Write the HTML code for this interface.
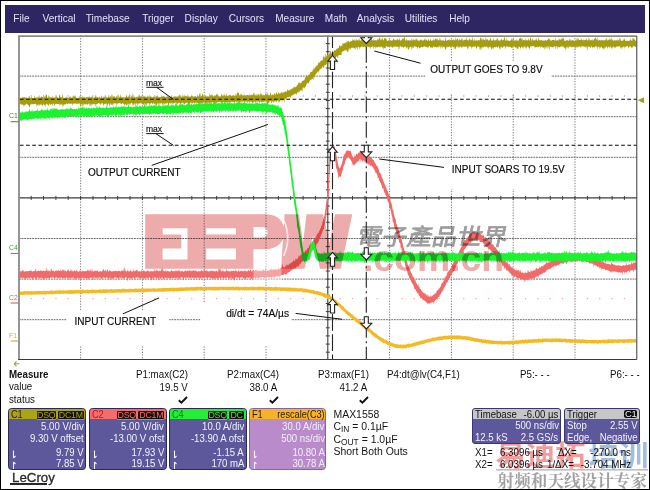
<!DOCTYPE html><html><head><meta charset="utf-8"><title>scope</title><style>
html,body{margin:0;padding:0;background:#fff;}
body{width:650px;height:490px;position:relative;overflow:hidden;font-family:"Liberation Sans",sans-serif;color:#111;}
.frame{position:absolute;left:0;top:0;width:648px;height:488px;border:1px solid #000;border-width:1px 1px 1px 1px;}
.menu{position:absolute;left:5px;top:5px;width:640px;height:27.5px;background:#2e2662;}
.menu span{position:absolute;top:8.2px;font-size:10.1px;line-height:12px;color:#e4e0f6;white-space:nowrap;}
.t{position:absolute;white-space:nowrap;line-height:12px;}
.an{font-size:10px;color:#0c0c0c;-webkit-text-stroke:0.15px #0c0c0c;}
.ui{font-size:10.3px;color:#111;transform:scaleX(.946);transform-origin:0 0;}
.r{text-align:right;transform-origin:100% 0;}
.box{position:absolute;top:408px;width:76px;height:59.5px;border:1px solid #2c2a52;border-radius:3.5px;background:#5c589b;overflow:hidden;}
.box .hd{position:absolute;left:0;top:0;right:0;height:10.2px;}
.box .l{position:absolute;right:1.6px;font-size:10.3px;line-height:11px;color:#f2f0fb;white-space:nowrap;transform:scaleX(.932);transform-origin:100% 0;}
.box .cn{position:absolute;left:2px;top:0.4px;font-size:10.2px;line-height:11px;transform:scaleX(.9);transform-origin:0 0;white-space:nowrap;}
.bd{position:absolute;top:0.6px;height:8.2px;background:#15120a;border-radius:2px;font-size:8.8px;line-height:8.4px;text-align:center;border:0.6px solid;letter-spacing:-0.25px;overflow:hidden;}
.arw{position:absolute;left:3px;}
.tb{position:absolute;top:408px;height:33.5px;border:1px solid #3a3770;border-radius:3px;background:#5c589b;overflow:hidden;}
.tb [style*="right"]{transform-origin:100% 0;}
.tb [style*="left"]{transform-origin:0 0;}
.tb .hd{position:absolute;left:0;top:0;right:0;height:10px;background:#c6c6c8;}
.tb .w{position:absolute;font-size:10.3px;line-height:11px;color:#f2f0fb;white-space:nowrap;transform:scaleX(.932);}
.tb .k{position:absolute;font-size:10.3px;line-height:11px;color:#111;white-space:nowrap;transform:scaleX(.932);}
</style></head><body>
<div class="menu">
<span style="left:8.3px">File</span>
<span style="left:37.5px">Vertical</span>
<span style="left:80.7px">Timebase</span>
<span style="left:137.2px">Trigger</span>
<span style="left:179.6px">Display</span>
<span style="left:223.8px">Cursors</span>
<span style="left:270.2px">Measure</span>
<span style="left:319.8px">Math</span>
<span style="left:351.8px">Analysis</span>
<span style="left:399.8px">Utilities</span>
<span style="left:444.2px">Help</span>
</div>
<svg width="650" height="490" viewBox="0 0 650 490" style="position:absolute;left:0;top:0">
<rect x="18.8" y="35.5" width="618.0" height="324.8" fill="#fff"/>

<line x1="80.6" y1="35.5" x2="80.6" y2="360.3" stroke="#7c7c7c" stroke-width="1" stroke-dasharray="1.25 1.43"/>
<line x1="142.4" y1="35.5" x2="142.4" y2="360.3" stroke="#7c7c7c" stroke-width="1" stroke-dasharray="1.25 1.43"/>
<line x1="204.2" y1="35.5" x2="204.2" y2="360.3" stroke="#7c7c7c" stroke-width="1" stroke-dasharray="1.25 1.43"/>
<line x1="266" y1="35.5" x2="266" y2="360.3" stroke="#7c7c7c" stroke-width="1" stroke-dasharray="1.25 1.43"/>
<line x1="389.6" y1="35.5" x2="389.6" y2="360.3" stroke="#7c7c7c" stroke-width="1" stroke-dasharray="1.25 1.43"/>
<line x1="451.4" y1="35.5" x2="451.4" y2="360.3" stroke="#7c7c7c" stroke-width="1" stroke-dasharray="1.25 1.43"/>
<line x1="513.2" y1="35.5" x2="513.2" y2="360.3" stroke="#7c7c7c" stroke-width="1" stroke-dasharray="1.25 1.43"/>
<line x1="575" y1="35.5" x2="575" y2="360.3" stroke="#7c7c7c" stroke-width="1" stroke-dasharray="1.25 1.43"/>
<line x1="18.8" y1="76.1" x2="636.8" y2="76.1" stroke="#6a6a6a" stroke-width="1" stroke-dasharray="1.85 0.83"/>
<line x1="18.8" y1="116.7" x2="636.8" y2="116.7" stroke="#6a6a6a" stroke-width="1" stroke-dasharray="1.85 0.83"/>
<line x1="18.8" y1="157.3" x2="636.8" y2="157.3" stroke="#6a6a6a" stroke-width="1" stroke-dasharray="1.85 0.83"/>
<line x1="18.8" y1="238.5" x2="636.8" y2="238.5" stroke="#6a6a6a" stroke-width="1" stroke-dasharray="1.85 0.83"/>
<line x1="18.8" y1="279.1" x2="636.8" y2="279.1" stroke="#6a6a6a" stroke-width="1" stroke-dasharray="1.85 0.83"/>
<line x1="18.8" y1="319.7" x2="636.8" y2="319.7" stroke="#6a6a6a" stroke-width="1" stroke-dasharray="1.85 0.83"/>
<line x1="18.8" y1="197.9" x2="636.8" y2="197.9" stroke="#3c3c3c" stroke-width="1.1"/>
<line x1="327.8" y1="35.5" x2="327.8" y2="360.3" stroke="#3c3c3c" stroke-width="1.1"/>
<path d="M31.2 195.9V199.9M43.5 195.9V199.9M55.9 195.9V199.9M68.2 195.9V199.9M80.6 195.9V199.9M93 195.9V199.9M105.3 195.9V199.9M117.7 195.9V199.9M130 195.9V199.9M142.4 195.9V199.9M154.8 195.9V199.9M167.1 195.9V199.9M179.5 195.9V199.9M191.8 195.9V199.9M204.2 195.9V199.9M216.6 195.9V199.9M228.9 195.9V199.9M241.3 195.9V199.9M253.6 195.9V199.9M266 195.9V199.9M278.4 195.9V199.9M290.7 195.9V199.9M303.1 195.9V199.9M315.4 195.9V199.9M327.8 195.9V199.9M340.2 195.9V199.9M352.5 195.9V199.9M364.9 195.9V199.9M377.2 195.9V199.9M389.6 195.9V199.9M402 195.9V199.9M414.3 195.9V199.9M426.7 195.9V199.9M439 195.9V199.9M451.4 195.9V199.9M463.8 195.9V199.9M476.1 195.9V199.9M488.5 195.9V199.9M500.8 195.9V199.9M513.2 195.9V199.9M525.6 195.9V199.9M537.9 195.9V199.9M550.3 195.9V199.9M562.6 195.9V199.9M575 195.9V199.9M587.4 195.9V199.9M599.7 195.9V199.9M612.1 195.9V199.9M624.4 195.9V199.9M325.8 43.6H329.8M325.8 51.7H329.8M325.8 59.9H329.8M325.8 68H329.8M325.8 76.1H329.8M325.8 84.2H329.8M325.8 92.3H329.8M325.8 100.5H329.8M325.8 108.6H329.8M325.8 116.7H329.8M325.8 124.8H329.8M325.8 132.9H329.8M325.8 141.1H329.8M325.8 149.2H329.8M325.8 157.3H329.8M325.8 165.4H329.8M325.8 173.5H329.8M325.8 181.7H329.8M325.8 189.8H329.8M325.8 197.9H329.8M325.8 206H329.8M325.8 214.1H329.8M325.8 222.3H329.8M325.8 230.4H329.8M325.8 238.5H329.8M325.8 246.6H329.8M325.8 254.7H329.8M325.8 262.9H329.8M325.8 271H329.8M325.8 279.1H329.8M325.8 287.2H329.8M325.8 295.3H329.8M325.8 303.5H329.8M325.8 311.6H329.8M325.8 319.7H329.8M325.8 327.8H329.8M325.8 335.9H329.8M325.8 344.1H329.8M325.8 352.2H329.8" stroke="#3c3c3c" stroke-width="1" fill="none"/>
<path d="M30.7 96h1M43 96h1M55.4 96h1M67.7 96h1M80.1 96h1M92.5 96h1M104.8 96h1M117.2 96h1M129.5 96h1M141.9 96h1M154.3 96h1M166.6 96h1M179 96h1M191.3 96h1M203.7 96h1M216.1 96h1M228.4 96h1M240.8 96h1M253.1 96h1M265.5 96h1M277.9 96h1M290.2 96h1M302.6 96h1M314.9 96h1M327.3 96h1M339.7 96h1M352 96h1M364.4 96h1M376.7 96h1M389.1 96h1M401.5 96h1M413.8 96h1M426.2 96h1M438.5 96h1M450.9 96h1M463.3 96h1M475.6 96h1M488 96h1M500.3 96h1M512.7 96h1M525.1 96h1M537.4 96h1M549.8 96h1M562.1 96h1M574.5 96h1M586.9 96h1M599.2 96h1M611.6 96h1M623.9 96h1" stroke="#777" stroke-width="1"/>
<path d="M30.6 298.7h1.2M42.9 298.7h1.2M55.3 298.7h1.2M67.6 298.7h1.2M80 298.7h1.2M92.4 298.7h1.2M104.7 298.7h1.2M117.1 298.7h1.2M129.4 298.7h1.2M141.8 298.7h1.2M154.2 298.7h1.2M166.5 298.7h1.2M178.9 298.7h1.2M191.2 298.7h1.2M203.6 298.7h1.2M216 298.7h1.2M228.3 298.7h1.2M240.7 298.7h1.2M253 298.7h1.2M265.4 298.7h1.2M277.8 298.7h1.2M290.1 298.7h1.2M302.5 298.7h1.2M314.8 298.7h1.2M327.2 298.7h1.2M339.6 298.7h1.2M351.9 298.7h1.2M364.3 298.7h1.2M376.6 298.7h1.2M389 298.7h1.2M401.4 298.7h1.2M413.7 298.7h1.2M426.1 298.7h1.2M438.4 298.7h1.2M450.8 298.7h1.2M463.2 298.7h1.2M475.5 298.7h1.2M487.9 298.7h1.2M500.2 298.7h1.2M512.6 298.7h1.2M525 298.7h1.2M537.3 298.7h1.2M549.7 298.7h1.2M562 298.7h1.2M574.4 298.7h1.2M586.8 298.7h1.2M599.1 298.7h1.2M611.5 298.7h1.2M623.8 298.7h1.2" stroke="#f2a6a6" stroke-width="1.2"/>
<rect x="425.3" y="61" width="125.7" height="32.7" fill="#fff"/>
<rect x="445" y="160" width="125" height="29" fill="#fff"/>
<rect x="66.6" y="310.5" width="102.5" height="35.5" fill="#fff"/>
<rect x="200.5" y="302" width="90.5" height="44" fill="#fff"/>
<rect x="84" y="161" width="102" height="33" fill="#fff"/>
<rect x="144" y="78" width="21" height="9" fill="#fff"/>
<rect x="144" y="124" width="21" height="9" fill="#fff"/>
<path d="M19.8 291.7 20.3 291.6 20.8 291.5 21.3 291.7 21.8 291.5 22.3 291.5 22.8 291.6 23.3 291.6 23.8 291.1 24.3 290.8 24.8 290.9 25.3 291.1 25.8 291.5 26.3 290.6 26.8 291.5 27.3 290.9 27.8 291.1 28.3 291.1 28.8 291.5 29.3 291.3 29.8 291.4 30.3 291 30.8 290.9 31.3 291.1 31.8 291.2 32.3 291.1 32.8 291.4 33.3 291.3 33.8 291.3 34.3 290.8 34.8 291.3 35.3 291.3 35.8 291.1 36.3 291 36.8 290.8 37.3 291 37.8 291.1 38.3 290.8 38.8 291.1 39.3 291.1 39.8 291.1 40.3 291.1 40.8 291.1 41.3 291.2 41.8 290.7 42.3 291.2 42.8 291 43.3 291.1 43.8 290.6 44.3 290.4 44.8 291 45.3 291 45.8 290.7 46.3 291 46.8 291 47.3 290.8 47.8 290.6 48.3 291 48.8 290.9 49.3 290.6 49.8 290.9 50.3 290.9 50.8 290.5 51.3 290.1 51.8 290.2 52.3 290.6 52.8 290.9 53.3 290.4 53.8 290.9 54.3 290.8 54.8 290.4 55.3 290.8 55.8 290.6 56.3 290.3 56.8 290.4 57.3 290.5 57.8 290.6 58.3 290.6 58.8 290.2 59.3 290.1 59.8 290.3 60.3 290.2 60.8 290.6 61.3 290 61.8 290.7 62.3 290.4 62.8 290.5 63.3 290.2 63.8 290.1 64.3 290.5 64.8 290.5 65.3 290.4 65.8 290.5 66.3 290.1 66.8 290.4 67.3 290 67.8 290.2 68.3 290.3 68.8 290.2 69.3 290.3 69.8 290 70.3 290.3 70.8 289.7 71.3 290 71.8 290.1 72.3 290.5 72.8 289.8 73.3 290.3 73.8 290.3 74.3 290.1 74.8 290.3 75.3 289.7 75.8 290.4 76.3 290 76.8 290 77.3 290.3 77.8 290.2 78.3 289.5 78.8 290 79.3 290.3 79.8 290.1 80.3 290.2 80.8 290.2 81.3 290.2 81.8 290 82.3 288.9 82.8 289.7 83.3 289.7 83.8 289.7 84.3 290.2 84.8 290.2 85.3 289.9 85.8 289.7 86.3 289.9 86.8 289.6 87.3 290.1 87.8 289.4 88.3 289.9 88.8 289.9 89.3 290 89.8 290 90.3 289.9 90.8 289.6 91.3 290 91.8 289.8 92.3 289.3 92.8 289.6 93.3 289.7 93.8 289.9 94.3 289.9 94.8 289.3 95.3 289.9 95.8 289.7 96.3 289.7 96.8 289.8 97.3 289.9 97.8 289.7 98.3 289.8 98.8 289.2 99.3 289.5 99.8 289.5 100.3 289.2 100.8 289.6 101.3 289.8 101.8 289.6 102.3 289.7 102.8 289.3 103.3 289.2 103.8 289.2 104.3 289.3 104.8 289.6 105.3 288.9 105.8 289.4 106.3 289.6 106.8 289.3 107.3 289.3 107.8 289.5 108.3 289.5 108.8 289.5 109.3 289.5 109.8 289.4 110.3 289.3 110.8 288.9 111.3 288.8 111.8 289.2 112.3 289.5 112.8 289.4 113.3 289.2 113.8 289.4 114.3 289 114.8 289.4 115.3 289.4 115.8 289 116.3 289 116.8 289.2 117.3 289.2 117.8 288.9 118.3 289.1 118.8 289.3 119.3 288.7 119.8 289.3 120.3 289.2 120.8 289.2 121.3 288.9 121.8 289.1 122.3 288.8 122.8 288.7 123.3 289.2 123.8 288.2 124.3 288.6 124.8 289.2 125.3 289.1 125.8 288.7 126.3 289.1 126.8 289 127.3 289.2 127.8 288.9 128.3 288.8 128.8 289.1 129.3 288.5 129.8 288.9 130.3 288.8 130.8 288.5 131.3 289 131.8 288.8 132.3 289 132.8 289.1 133.3 289 133.8 288.7 134.3 289 134.8 288.8 135.3 288.3 135.8 288.6 136.3 288.6 136.8 288.6 137.3 288.7 137.8 288.8 138.3 288.8 138.8 288.5 139.3 288.2 139.8 288.8 140.3 288.9 140.8 288.2 141.3 288.3 141.8 288.4 142.3 288.6 142.8 288.3 143.3 288.3 143.8 288.6 144.3 288.4 144.8 288.7 145.3 288.4 145.8 288.5 146.3 288.4 146.8 288.6 147.3 288.7 147.8 288.3 148.3 288.7 148.8 288 149.3 288.4 149.8 288.5 150.3 288.7 150.8 288.4 151.3 288.6 151.8 288.4 152.3 288.5 152.8 288.5 153.3 288.1 153.8 288.1 154.3 288.5 154.8 288.5 155.3 288.5 155.8 288.4 156.3 288.4 156.8 288.5 157.3 288.4 157.8 288.4 158.3 288.2 158.8 288.3 159.3 288.3 159.8 288.2 160.3 288.2 160.8 288.3 161.3 288.2 161.8 288 162.3 287.7 162.8 288.3 163.3 288.2 163.8 287.8 164.3 287.8 164.8 288.2 165.3 287.6 165.8 288.2 166.3 288 166.8 288.1 167.3 287.8 167.8 288.2 168.3 288 168.8 288 169.3 288 169.8 287.5 170.3 288.1 170.8 287.4 171.3 287.9 171.8 287.2 172.3 287.7 172.8 287.8 173.3 287.7 173.8 288 174.3 287.7 174.8 287.5 175.3 287.9 175.8 287.7 176.3 287.6 176.8 287.9 177.3 287.8 177.8 287.9 178.3 287.5 178.8 287.8 179.3 287.4 179.8 287.5 180.3 287.5 180.8 287.4 181.3 287.6 181.8 287.3 182.3 287.3 182.8 287.4 183.3 287.4 183.8 287.6 184.3 287.6 184.8 287.3 185.3 287.5 185.8 286.7 186.3 287.6 186.8 287 187.3 287.2 187.8 287.4 188.3 286.9 188.8 287.3 189.3 287.4 189.8 287.2 190.3 287.3 190.8 287.3 191.3 287 191.8 287.1 192.3 287.3 192.8 286.8 193.3 287.2 193.8 287 194.3 287.1 194.8 287.3 195.3 286.9 195.8 287.1 196.3 286.5 196.8 287.1 197.3 286.5 197.8 287.2 198.3 287 198.8 286.6 199.3 287 199.8 287 200.3 286.3 200.8 287.1 201.3 286.5 201.8 286.5 202.3 286.7 202.8 287.2 203.3 287.1 203.8 287.1 204.3 287.1 204.8 287 205.3 286.5 205.8 286.5 206.3 286.7 206.8 286.9 207.3 287.2 207.8 287.1 208.3 287 208.8 286.7 209.3 286.2 209.8 287.1 210.3 286.9 210.8 287.1 211.3 287 211.8 286.5 212.3 287.1 212.8 286.5 213.3 286.9 213.8 286.9 214.3 286.6 214.8 286.8 215.3 286.8 215.8 286.7 216.3 287 216.8 286.8 217.3 287 217.8 287 218.3 286.8 218.8 286.6 219.3 286.8 219.8 286.8 220.3 286.9 220.8 286.8 221.3 286.6 221.8 286.9 222.3 286.5 222.8 287 223.3 286.5 223.8 287 224.3 286.4 224.8 287 225.3 287 225.8 286.8 226.3 287 226.8 286 227.3 286.9 227.8 286.7 228.3 286.9 228.8 286.7 229.3 286.9 229.8 286.5 230.3 287 230.8 286.3 231.3 286.7 231.8 287 232.3 286.8 232.8 286.6 233.3 286.5 233.8 286.6 234.3 286.7 234.8 287 235.3 286.7 235.8 287 236.3 286.6 236.8 286.4 237.3 287 237.8 286.5 238.3 286.7 238.8 286.7 239.3 286.7 239.8 287 240.3 286.7 240.8 286.9 241.3 286.9 241.8 287 242.3 287 242.8 287.1 243.3 286.7 243.8 286.8 244.3 287 244.8 286.6 245.3 286.3 245.8 286.8 246.3 287 246.8 286.5 247.3 287.1 247.8 287 248.3 287 248.8 287.1 249.3 286.9 249.8 286.7 250.3 287 250.8 286.7 251.3 286.8 251.8 286.6 252.3 286.6 252.8 286.7 253.3 287.1 253.8 287 254.3 286.6 254.8 286.9 255.3 286.9 255.8 287.1 256.3 286.9 256.8 287.1 257.3 286.9 257.8 287 258.3 286.6 258.8 286.2 259.3 286.8 259.8 286.4 260.3 286.4 260.8 286.9 261.3 286.8 261.8 287 262.3 287.1 262.8 286.2 263.3 286.7 263.8 287.1 264.3 287 264.8 286.8 265.3 287.2 265.8 286.8 266.3 286.8 266.8 287.1 267.3 286.8 267.8 287.1 268.3 287.2 268.8 286.8 269.3 287 269.8 287.1 270.3 287.1 270.8 287.1 271.3 286.9 271.8 287.1 272.3 287.3 272.8 287.2 273.3 287.2 273.8 287.2 274.3 287.1 274.8 287.3 275.3 286.7 275.8 286.6 276.3 286.8 276.8 287.2 277.3 287.3 277.8 287.5 278.3 286.8 278.8 287.5 279.3 287.3 279.8 287.2 280.3 286.9 280.8 287.5 281.3 287.5 281.8 287.5 282.3 287.6 282.8 287.2 283.3 287.3 283.8 287.3 284.3 287.4 284.8 287.4 285.3 287.3 285.8 287.5 286.3 287.5 286.8 287.6 287.3 287.3 287.8 287.5 288.3 287.6 288.8 287.8 289.3 287.3 289.8 287.5 290.3 287.8 290.8 287.8 291.3 287.5 291.8 288 292.3 288 292.8 287.7 293.3 287.7 293.8 287.8 294.3 287.2 294.8 288 295.3 287.8 295.8 288.1 296.3 288.1 296.8 287.9 297.3 288.1 297.8 288.3 298.3 288.2 298.8 288.2 299.3 288.2 299.8 288.4 300.3 288.1 300.8 287.9 301.3 288.2 301.8 288.3 302.3 288.3 302.8 288.4 303.3 288.4 303.8 288.8 304.3 288.6 304.8 288.6 305.3 288.9 305.8 288.7 306.3 288.6 306.8 289.1 307.3 289.1 307.8 289.4 308.3 289.5 308.8 288.7 309.3 289.7 309.8 289.6 310.3 289.7 310.8 289.3 311.3 289.9 311.8 289.8 312.3 290.3 312.8 290.2 313.3 289.8 313.8 290 314.3 290.6 314.8 290.7 315.3 290.9 315.8 291 316.3 291.1 316.8 291.1 317.3 291.1 317.8 291.3 318.3 291.2 318.8 291.2 319.3 291.8 319.8 291.5 320.3 292 320.8 291.7 321.3 292.5 321.8 292.3 322.3 292.7 322.8 292.8 323.3 292.9 323.8 293.3 324.3 293.1 324.8 293.2 325.3 293.8 325.8 293.8 326.3 294.1 326.8 294.3 327.3 294.4 327.8 294.4 328.3 294.6 328.8 294.8 329.3 295.5 329.8 295.6 330.3 295.9 330.8 296.3 331.3 296.5 331.8 297.1 332.3 297.3 332.8 297.5 333.3 297.8 333.8 298.2 334.3 298.8 334.8 299.3 335.3 299.5 335.8 300 336.3 300.6 336.8 300.8 337.3 301.5 337.8 301.7 338.3 302.4 338.8 302.6 339.3 302.8 339.8 303.6 340.3 304.1 340.8 304.2 341.3 304.8 341.8 305.6 342.3 305.7 342.8 306 343.3 306.6 343.8 306.9 344.3 308 344.8 308.5 345.3 308.8 345.8 308.9 346.3 309.9 346.8 310.3 347.3 310.8 347.8 310.6 348.3 311.5 348.8 312 349.3 312.2 349.8 312.3 350.3 313.3 350.8 313.2 351.3 314.2 351.8 313.9 352.3 313.9 352.8 314.9 353.3 315.4 353.8 315.7 354.3 316.5 354.8 316.8 355.3 317.1 355.8 317.7 356.3 317.6 356.8 318.4 357.3 318.4 357.8 319.3 358.3 319 358.8 319.9 359.3 320.5 359.8 320.3 360.3 320.9 360.8 321.6 361.3 321.6 361.8 322.3 362.3 322.7 362.8 323.1 363.3 323.6 363.8 323.9 364.3 324.4 364.8 324.3 365.3 324.3 365.8 325.3 366.3 325.7 366.8 326.1 367.3 326.7 367.8 326.2 368.3 327 368.8 327.6 369.3 328 369.8 328.5 370.3 328.6 370.8 329.8 371.3 330.2 371.8 329.9 372.3 331.1 372.8 331.2 373.3 331.6 373.8 332.2 374.3 332.7 374.8 332.8 375.3 333.1 375.8 333.4 376.3 333.3 376.8 334.3 377.3 334.8 377.8 335.2 378.3 335.4 378.8 335.9 379.3 336.2 379.8 336.7 380.3 337.1 380.8 336.9 381.3 337.4 381.8 337.5 382.3 338.3 382.8 338.2 383.3 338.8 383.8 338.3 384.3 339.3 384.8 339.9 385.3 339.6 385.8 340.3 386.3 340.3 386.8 340.1 387.3 341.1 387.8 341 388.3 341.3 388.8 341.9 389.3 342 389.8 342.2 390.3 342.3 390.8 342.4 391.3 342.9 391.8 342.1 392.3 343.3 392.8 343.1 393.3 343.2 393.8 343.6 394.3 343.8 394.8 343.6 395.3 344 395.8 344 396.3 344.4 396.8 343.5 397.3 344.2 397.8 344.6 398.3 344.3 398.8 344.7 399.3 344.6 399.8 344.8 400.3 344.7 400.8 344.1 401.3 344.6 401.8 344.9 402.3 344.8 402.8 344.6 403.3 344.2 403.8 344.8 404.3 344.4 404.8 344.8 405.3 344.7 405.8 344.7 406.3 344 406.8 344.2 407.3 344.2 407.8 343.3 408.3 343.8 408.8 343.5 409.3 343.6 409.8 343.9 410.3 343.7 410.8 343.7 411.3 343.2 411.8 343.5 412.3 343.1 412.8 343.3 413.3 342.9 413.8 342.8 414.3 342.6 414.8 342.1 415.3 342.3 415.8 342.4 416.3 342.1 416.8 341.4 417.3 342 417.8 341.8 418.3 341.9 418.8 340.9 419.3 341.5 419.8 340.8 420.3 341.3 420.8 340.7 421.3 340.5 421.8 340.4 422.3 340.5 422.8 340.5 423.3 340.4 423.8 339.4 424.3 339.8 424.8 339.7 425.3 339.8 425.8 339.8 426.3 339.4 426.8 338.9 427.3 339.2 427.8 338.9 428.3 338.8 428.8 339 429.3 338.7 429.8 338.4 430.3 338.5 430.8 338.4 431.3 338.2 431.8 338 432.3 337.4 432.8 337.5 433.3 337.7 433.8 337.8 434.3 337.6 434.8 337.3 435.3 337.4 435.8 337.4 436.3 336.9 436.8 337.2 437.3 337 437.8 336.8 438.3 336.6 438.8 336.4 439.3 336.7 439.8 336.3 440.3 336.3 440.8 336.6 441.3 336.6 441.8 336.4 442.3 336.2 442.8 336 443.3 336 443.8 336.1 444.3 335.8 444.8 335.8 445.3 335.3 445.8 335.9 446.3 335.9 446.8 335.8 447.3 335.9 447.8 335.4 448.3 335.3 448.8 335.8 449.3 335.7 449.8 335.3 450.3 335.6 450.8 334.9 451.3 335.5 451.8 335.7 452.3 335.5 452.8 335.4 453.3 335.5 453.8 335.4 454.3 335.5 454.8 335.5 455.3 335.7 455.8 335.4 456.3 335.6 456.8 335.4 457.3 335.6 457.8 335.6 458.3 335.4 458.8 335.6 459.3 335.1 459.8 335.8 460.3 335.4 460.8 335.7 461.3 335.6 461.8 335.9 462.3 336.2 462.8 336.2 463.3 336.2 463.8 335.9 464.3 335.8 464.8 336.1 465.3 336.1 465.8 336.2 466.3 336.2 466.8 336.3 467.3 336.6 467.8 336.3 468.3 336.8 468.8 336.1 469.3 336.6 469.8 336.9 470.3 336.6 470.8 337 471.3 337.4 471.8 337.3 472.3 337.3 472.8 337.4 473.3 337.1 473.8 337.9 474.3 337.9 474.8 337.9 475.3 337.8 475.8 338.1 476.3 338.4 476.8 338.2 477.3 337.9 477.8 338.6 478.3 338.7 478.8 338.7 479.3 338.8 479.8 338.7 480.3 338.8 480.8 338.9 481.3 338.8 481.8 339 482.3 339.4 482.8 339.6 483.3 339.3 483.8 339.5 484.3 339.7 484.8 339.5 485.3 339.2 485.8 339.6 486.3 340 486.8 340 487.3 339.9 487.8 339.4 488.3 340 488.8 340.3 489.3 339.7 489.8 340.3 490.3 340.2 490.8 340.5 491.3 340.5 491.8 340.6 492.3 340.2 492.8 340.4 493.3 340.7 493.8 340.8 494.3 340.9 494.8 340.5 495.3 340.9 495.8 340.9 496.3 340.8 496.8 340.8 497.3 340.8 497.8 340.6 498.3 341.1 498.8 341 499.3 341 499.8 340.6 500.3 340.3 500.8 340.9 501.3 340.4 501.8 341.2 502.3 340.7 502.8 341.1 503.3 341.2 503.8 341.1 504.3 341.1 504.8 341 505.3 340.5 505.8 341.1 506.3 340.9 506.8 340.8 507.3 341.2 507.8 341.1 508.3 340.6 508.8 341.1 509.3 340.8 509.8 340.8 510.3 340.6 510.8 340.9 511.3 340.9 511.8 340.5 512.3 340.6 512.8 340.7 513.3 341 513.8 340.7 514.3 340.9 514.8 340.2 515.3 340.4 515.8 340.5 516.3 340 516.8 340.5 517.3 340.2 517.8 340.6 518.3 340.5 518.8 340.3 519.3 340 519.8 340.3 520.3 340.3 520.8 340 521.3 340.1 521.8 339.9 522.3 339.6 522.8 339.9 523.3 340 523.8 339.6 524.3 340 524.8 339.6 525.3 339.3 525.8 339.5 526.3 339.9 526.8 339.7 527.3 339.5 527.8 339.4 528.3 339.7 528.8 338.8 529.3 339.7 529.8 338.9 530.3 339.4 530.8 339.2 531.3 339.5 531.8 339.4 532.3 339.2 532.8 339.3 533.3 338.9 533.8 338.7 534.3 339.3 534.8 339.2 535.3 338.8 535.8 339.3 536.3 339 536.8 339.2 537.3 339.2 537.8 338.9 538.3 338.6 538.8 338.6 539.3 338.9 539.8 338.6 540.3 338.4 540.8 338.9 541.3 338.9 541.8 338.8 542.3 338.5 542.8 338.6 543.3 338.9 543.8 338.1 544.3 338.9 544.8 338.2 545.3 338.4 545.8 338.7 546.3 338.8 546.8 338.3 547.3 338.3 547.8 338.7 548.3 338.7 548.8 338.5 549.3 338.4 549.8 338.7 550.3 338.4 550.8 338.6 551.3 338.5 551.8 338.7 552.3 338.3 552.8 338.5 553.3 338.7 553.8 338.5 554.3 338.4 554.8 338.4 555.3 338.3 555.8 338.4 556.3 338.6 556.8 338.4 557.3 338.6 557.8 338.6 558.3 338.3 558.8 338.5 559.3 338.2 559.8 338.4 560.3 338.8 560.8 338.2 561.3 338.7 561.8 338.4 562.3 338.9 562.8 338.7 563.3 338.6 563.8 339.1 564.3 338.5 564.8 338.7 565.3 338.4 565.8 339 566.3 338.6 566.8 338.9 567.3 339.2 567.8 339.2 568.3 339 568.8 339 569.3 338.9 569.8 338.8 570.3 339.2 570.8 339 571.3 339.3 571.8 339.3 572.3 339.2 572.8 338.7 573.3 339.3 573.8 339.4 574.3 339.4 574.8 339.3 575.3 339 575.8 339.2 576.3 339 576.8 339.3 577.3 339.2 577.8 339.6 578.3 339.6 578.8 339.4 579.3 339 579.8 339.3 580.3 339.3 580.8 339.7 581.3 339.6 581.8 339.5 582.3 339.3 582.8 339.6 583.3 339.3 583.8 339.5 584.3 339.6 584.8 339.9 585.3 339.4 585.8 339.4 586.3 339.8 586.8 339.9 587.3 340 587.8 339.7 588.3 340 588.8 340 589.3 339.8 589.8 340.1 590.3 340.1 590.8 340 591.3 340 591.8 339.5 592.3 340.1 592.8 340.1 593.3 339.9 593.8 339.8 594.3 339.8 594.8 339.9 595.3 339.8 595.8 339.9 596.3 339.9 596.8 340.2 597.3 340 597.8 340.2 598.3 340.1 598.8 340.1 599.3 340.1 599.8 339.9 600.3 339.8 600.8 340.1 601.3 340 601.8 340 602.3 339.7 602.8 339.8 603.3 339.4 603.8 339.9 604.3 339.6 604.8 339.8 605.3 339.8 605.8 339.9 606.3 339.4 606.8 339.7 607.3 339.4 607.8 339.7 608.3 339.5 608.8 338.7 609.3 339.6 609.8 338.4 610.3 339.7 610.8 339.5 611.3 339.6 611.8 339.1 612.3 339.5 612.8 339 613.3 339.4 613.8 339.6 614.3 339.6 614.8 339.4 615.3 339.3 615.8 339.5 616.3 339.4 616.8 339.5 617.3 339.4 617.8 339.2 618.3 339.3 618.8 338.9 619.3 339.4 619.8 339.1 620.3 339.5 620.8 339.4 621.3 339.2 621.8 339.3 622.3 339.3 622.8 339.4 623.3 339.4 623.8 339.3 624.3 339.4 624.8 339.3 625.3 339.4 625.8 338.9 626.3 339.1 626.8 339.4 627.3 339.4 627.8 339.3 628.3 338.6 628.8 339.3 629.3 339 629.8 339 630.3 339.3 630.8 339.3 631.3 339.1 631.8 339.1 632.3 339.4 632.8 338.7 633.3 339 633.8 338.7 634.3 338.9 634.8 339.2 635.3 339 635.8 339.1 636.3 339.1 L636.3 342.3 635.8 342.6 635.3 342.6 634.8 342.4 634.3 342.7 633.8 343 633.3 342.3 632.8 342.6 632.3 342.3 631.8 343.1 631.3 343.1 630.8 342.4 630.3 342.4 629.8 342.4 629.3 343 628.8 342.8 628.3 342.6 627.8 342.7 627.3 342.9 626.8 342.6 626.3 342.5 625.8 342.5 625.3 342.7 624.8 343.4 624.3 342.5 623.8 343.4 623.3 342.7 622.8 342.6 622.3 342.9 621.8 342.5 621.3 342.5 620.8 342.6 620.3 342.6 619.8 342.8 619.3 342.8 618.8 342.9 618.3 342.7 617.8 342.9 617.3 343.1 616.8 342.6 616.3 342.9 615.8 342.6 615.3 342.6 614.8 342.7 614.3 342.6 613.8 342.7 613.3 343.1 612.8 343.1 612.3 343.2 611.8 343.1 611.3 342.9 610.8 342.9 610.3 343.1 609.8 342.9 609.3 343.1 608.8 343.1 608.3 343.2 607.8 343.4 607.3 343.4 606.8 342.9 606.3 343 605.8 343.4 605.3 343.1 604.8 343.8 604.3 343.1 603.8 343.5 603.3 343.1 602.8 343.3 602.3 343.1 601.8 343.2 601.3 343.1 600.8 343.4 600.3 343.5 599.8 343.3 599.3 343.1 598.8 343.3 598.3 343.6 597.8 343.9 597.3 344.6 596.8 343.1 596.3 343.2 595.8 343.3 595.3 343.2 594.8 343.4 594.3 343.4 593.8 343.7 593.3 343.2 592.8 343.4 592.3 343.2 591.8 343.3 591.3 343.6 590.8 343.4 590.3 343.4 589.8 343.1 589.3 343.1 588.8 343.2 588.3 343.5 587.8 343.1 587.3 343.4 586.8 343 586.3 343.5 585.8 343.7 585.3 343.3 584.8 343.3 584.3 342.9 583.8 343 583.3 343.3 582.8 343.1 582.3 342.8 581.8 343.4 581.3 343.2 580.8 343 580.3 343.5 579.8 343 579.3 343.1 578.8 342.9 578.3 342.6 577.8 343.3 577.3 342.9 576.8 342.8 576.3 342.6 575.8 342.9 575.3 343.4 574.8 343.3 574.3 342.6 573.8 342.8 573.3 342.6 572.8 342.5 572.3 343.1 571.8 342.4 571.3 342.8 570.8 342.7 570.3 343.3 569.8 342.8 569.3 342.7 568.8 342.6 568.3 342.3 567.8 342.7 567.3 342.4 566.8 342.4 566.3 342.8 565.8 342.7 565.3 342.3 564.8 342.1 564.3 342.1 563.8 342.1 563.3 342.2 562.8 342.3 562.3 342 561.8 342.5 561.3 342.1 560.8 342 560.3 342.2 559.8 341.9 559.3 342.6 558.8 342 558.3 342 557.8 342 557.3 342 556.8 342.3 556.3 341.7 555.8 342 555.3 342 554.8 341.8 554.3 342.3 553.8 342.2 553.3 341.8 552.8 341.7 552.3 342.7 551.8 342.2 551.3 342.8 550.8 342.1 550.3 341.7 549.8 342.3 549.3 341.9 548.8 341.8 548.3 341.9 547.8 342 547.3 342.1 546.8 342.3 546.3 342.1 545.8 341.8 545.3 342 544.8 341.8 544.3 342 543.8 342 543.3 341.9 542.8 342.8 542.3 342.7 541.8 342.1 541.3 342.7 540.8 342.4 540.3 342.4 539.8 342.4 539.3 342.2 538.8 342.7 538.3 342.9 537.8 342.5 537.3 342.2 536.8 342.9 536.3 342.7 535.8 342.4 535.3 342.6 534.8 342.5 534.3 342.9 533.8 342.8 533.3 342.4 532.8 342.7 532.3 342.8 531.8 343.2 531.3 342.8 530.8 342.9 530.3 342.7 529.8 342.7 529.3 342.9 528.8 343.1 528.3 343 527.8 343.3 527.3 343.4 526.8 343.5 526.3 342.9 525.8 343.2 525.3 343.1 524.8 343.4 524.3 343.7 523.8 343.5 523.3 343.5 522.8 343.3 522.3 343.2 521.8 343.5 521.3 343.8 520.8 343.5 520.3 343.7 519.8 343.5 519.3 343.8 518.8 343.5 518.3 344.4 517.8 344.7 517.3 343.7 516.8 343.7 516.3 344.3 515.8 344 515.3 343.8 514.8 344.1 514.3 344.2 513.8 344.1 513.3 344.2 512.8 344.3 512.3 344.5 511.8 344.1 511.3 344.3 510.8 344.6 510.3 344.7 509.8 344.4 509.3 344.6 508.8 344.2 508.3 344.4 507.8 344.2 507.3 344.2 506.8 344.4 506.3 344.2 505.8 344.3 505.3 344.2 504.8 344.7 504.3 344.4 503.8 344.4 503.3 344.2 502.8 344.7 502.3 344.5 501.8 344.5 501.3 344.2 500.8 344.5 500.3 344.4 499.8 344.1 499.3 344.2 498.8 344.1 498.3 344.9 497.8 344.2 497.3 344.8 496.8 344 496.3 344 495.8 344.3 495.3 344 494.8 344 494.3 343.9 493.8 343.9 493.3 344.2 492.8 344.4 492.3 343.9 491.8 344.3 491.3 343.9 490.8 344.6 490.3 343.6 489.8 343.6 489.3 343.7 488.8 343.7 488.3 343.7 487.8 343.4 487.3 343.3 486.8 343.7 486.3 343.9 485.8 343.1 485.3 343 484.8 343.1 484.3 342.9 483.8 342.9 483.3 343 482.8 343.1 482.3 343 481.8 342.9 481.3 342.5 480.8 342.7 480.3 342.3 479.8 342.3 479.3 342.6 478.8 342.1 478.3 342.4 477.8 341.9 477.3 341.9 476.8 341.8 476.3 341.5 475.8 341.7 475.3 341.8 474.8 341.7 474.3 341.4 473.8 341.9 473.3 341 472.8 340.9 472.3 341.1 471.8 341 471.3 341 470.8 340.5 470.3 341 469.8 340.2 469.3 340.5 468.8 340.3 468.3 340.1 467.8 340.3 467.3 340.3 466.8 340 466.3 340.5 465.8 339.9 465.3 339.7 464.8 339.6 464.3 339.6 463.8 339.7 463.3 339.4 462.8 339.6 462.3 339.7 461.8 339.6 461.3 339.4 460.8 339.3 460.3 339.3 459.8 339.3 459.3 339 458.8 339.2 458.3 339.5 457.8 338.9 457.3 339.3 456.8 339.3 456.3 339.5 455.8 339.5 455.3 339.1 454.8 339 454.3 339.6 453.8 339.1 453.3 338.8 452.8 339.4 452.3 338.9 451.8 339.6 451.3 339 450.8 338.7 450.3 338.8 449.8 339 449.3 339.1 448.8 339.2 448.3 338.9 447.8 338.9 447.3 339.4 446.8 339.4 446.3 339.4 445.8 339.4 445.3 339.6 444.8 339.4 444.3 339.6 443.8 339.5 443.3 339.4 442.8 340 442.3 339.7 441.8 340.1 441.3 340.5 440.8 339.9 440.3 339.9 439.8 340.5 439.3 340.2 438.8 340.3 438.3 340.5 437.8 340.2 437.3 340.4 436.8 340.4 436.3 340.8 435.8 340.7 435.3 340.7 434.8 340.8 434.3 341.7 433.8 340.9 433.3 341.6 432.8 341.3 432.3 341.3 431.8 341.5 431.3 341.6 430.8 341.8 430.3 342.6 429.8 342.2 429.3 342.1 428.8 342.6 428.3 342.6 427.8 342.5 427.3 342.6 426.8 342.8 426.3 342.8 425.8 343.1 425.3 343.4 424.8 343.5 424.3 343.8 423.8 343.8 423.3 344 422.8 343.9 422.3 344.3 421.8 344.3 421.3 344.3 420.8 344.6 420.3 344.5 419.8 344.7 419.3 344.9 418.8 344.9 418.3 345 417.8 345.5 417.3 345.5 416.8 345.6 416.3 345.5 415.8 346.1 415.3 345.9 414.8 346.4 414.3 346 413.8 346.2 413.3 346.5 412.8 346.8 412.3 347.2 411.8 346.6 411.3 346.7 410.8 347.3 410.3 347.2 409.8 347.6 409.3 347.7 408.8 347.7 408.3 347.5 407.8 347.4 407.3 347.6 406.8 348.1 406.3 348.1 405.8 347.9 405.3 348 404.8 348.4 404.3 348.3 403.8 347.9 403.3 348.3 402.8 349 402.3 348.5 401.8 348.1 401.3 348 400.8 348.3 400.3 348.4 399.8 347.9 399.3 348 398.8 348.1 398.3 348 397.8 348 397.3 348.4 396.8 348.1 396.3 347.8 395.8 348 395.3 348 394.8 347.9 394.3 347.1 393.8 347.2 393.3 346.9 392.8 347 392.3 346.5 391.8 346.6 391.3 346.6 390.8 346.1 390.3 346 389.8 345.9 389.3 345.6 388.8 345.6 388.3 345.2 387.8 345.3 387.3 345.3 386.8 344.6 386.3 344 385.8 343.9 385.3 343.8 384.8 343.3 384.3 343 383.8 343.3 383.3 343.5 382.8 342.7 382.3 342.4 381.8 341.9 381.3 341.5 380.8 341.2 380.3 340.7 379.8 340.6 379.3 340.4 378.8 340.2 378.3 339.4 377.8 338.9 377.3 338.7 376.8 338.3 376.3 337.9 375.8 337.9 375.3 337.4 374.8 336.7 374.3 336.8 373.8 336.3 373.3 335.9 372.8 335.2 372.3 335.1 371.8 334.7 371.3 333.8 370.8 333.8 370.3 333.7 369.8 332.6 369.3 332.1 368.8 332.3 368.3 331.7 367.8 331.2 367.3 331.5 366.8 330.3 366.3 329.7 365.8 329.7 365.3 329.3 364.8 329.3 364.3 328.3 363.8 328.5 363.3 327.4 362.8 327.6 362.3 326.7 361.8 326.3 361.3 326 360.8 325.4 360.3 325.4 359.8 324.6 359.3 324.2 358.8 324 358.3 323.9 357.8 323 357.3 323.1 356.8 322.8 356.3 322.2 355.8 321.6 355.3 321.4 354.8 320.6 354.3 320.4 353.8 319.8 353.3 319.8 352.8 319.1 352.3 318.8 351.8 318.4 351.3 317.8 350.8 318 350.3 317.4 349.8 316.6 349.3 316.1 348.8 316.7 348.3 315.5 347.8 315.2 347.3 314.7 346.8 314.3 346.3 313.9 345.8 313.8 345.3 312.6 344.8 312.2 344.3 311.8 343.8 311.6 343.3 311 342.8 310.6 342.3 310.3 341.8 309.9 341.3 309.4 340.8 308.5 340.3 308.1 339.8 307.6 339.3 307.1 338.8 306.8 338.3 306.1 337.8 306.1 337.3 306.2 336.8 304.8 336.3 304.5 335.8 304.1 335.3 303.7 334.8 303.1 334.3 303 333.8 302.9 333.3 301.9 332.8 301.4 332.3 301.1 331.8 301.6 331.3 300.7 330.8 300 330.3 300.2 329.8 299.4 329.3 299.1 328.8 298.8 328.3 298.7 327.8 298.6 327.3 298.4 326.8 297.8 326.3 297.7 325.8 297.8 325.3 297.7 324.8 297.4 324.3 297.2 323.8 297.1 323.3 297 322.8 296.2 322.3 296.3 321.8 295.8 321.3 296 320.8 295.8 320.3 295.5 319.8 295.3 319.3 295.4 318.8 294.9 318.3 295.2 317.8 295 317.3 294.8 316.8 294.4 316.3 294.6 315.8 294.9 315.3 294 314.8 294.2 314.3 293.9 313.8 294.6 313.3 294 312.8 293.6 312.3 293.6 311.8 293.4 311.3 293.2 310.8 293.4 310.3 293.3 309.8 293.3 309.3 292.8 308.8 293 308.3 292.6 307.8 292.8 307.3 292.8 306.8 292.5 306.3 292.2 305.8 293.1 305.3 292 304.8 292.7 304.3 292.4 303.8 292.2 303.3 292.5 302.8 292.6 302.3 292.1 301.8 291.6 301.3 291.7 300.8 291.5 300.3 291.8 299.8 291.5 299.3 291.3 298.8 291.5 298.3 291.7 297.8 291.6 297.3 291.7 296.8 291.3 296.3 291.4 295.8 291.3 295.3 291.2 294.8 292.1 294.3 291.6 293.8 291.8 293.3 291.1 292.8 291.2 292.3 291 291.8 291.2 291.3 291.7 290.8 291 290.3 290.9 289.8 290.9 289.3 291.8 288.8 291.4 288.3 291.2 287.8 291.2 287.3 291.2 286.8 291.5 286.3 291 285.8 291.6 285.3 291.3 284.8 290.8 284.3 291 283.8 290.9 283.3 290.8 282.8 291 282.3 291.5 281.8 291.1 281.3 290.8 280.8 290.9 280.3 291.3 279.8 290.5 279.3 290.6 278.8 290.8 278.3 290.5 277.8 290.6 277.3 290.5 276.8 290.9 276.3 290.8 275.8 290.7 275.3 290.7 274.8 290.9 274.3 290.4 273.8 290.6 273.3 291.1 272.8 291 272.3 290.2 271.8 290.4 271.3 290.5 270.8 290.9 270.3 291 269.8 290.3 269.3 290.5 268.8 290.3 268.3 290.5 267.8 290.2 267.3 290.2 266.8 290.3 266.3 290.1 265.8 290.1 265.3 290.3 264.8 290.7 264.3 290.4 263.8 290.4 263.3 290.4 262.8 290.3 262.3 290.5 261.8 290.3 261.3 290.1 260.8 290.4 260.3 290.4 259.8 290.7 259.3 290.2 258.8 290.4 258.3 290.3 257.8 290.4 257.3 290.5 256.8 290.2 256.3 290 255.8 290.2 255.3 290.2 254.8 290.3 254.3 290.2 253.8 290.4 253.3 290.5 252.8 290.5 252.3 290.3 251.8 290.6 251.3 290.1 250.8 290.2 250.3 290 249.8 290.3 249.3 290.8 248.8 290.2 248.3 290.3 247.8 290.3 247.3 290.5 246.8 290.4 246.3 290.6 245.8 290 245.3 290.1 244.8 290.9 244.3 290.4 243.8 290.4 243.3 290.1 242.8 290.3 242.3 290.4 241.8 290 241.3 290.1 240.8 290.3 240.3 290 239.8 290.7 239.3 290.1 238.8 290.8 238.3 290.4 237.8 290.1 237.3 290 236.8 290.1 236.3 290.2 235.8 290.1 235.3 290.2 234.8 290.9 234.3 290.2 233.8 290.1 233.3 290 232.8 290.3 232.3 290.2 231.8 290.3 231.3 290.2 230.8 290.1 230.3 290 229.8 290.1 229.3 290.8 228.8 290.3 228.3 290 227.8 290.4 227.3 290.3 226.8 290.4 226.3 290.3 225.8 290.2 225.3 290.2 224.8 290.2 224.3 290.1 223.8 290.4 223.3 290.6 222.8 290.1 222.3 290 221.8 290.1 221.3 290.1 220.8 290 220.3 290 219.8 290 219.3 290.8 218.8 290.2 218.3 290.4 217.8 290.6 217.3 290.6 216.8 290.2 216.3 290.6 215.8 290.8 215.3 290.2 214.8 290.1 214.3 290.7 213.8 290.3 213.3 290.2 212.8 290.8 212.3 290.2 211.8 290.3 211.3 290.1 210.8 290.4 210.3 290.5 209.8 290.3 209.3 290.1 208.8 290.2 208.3 290.1 207.8 290.1 207.3 290.1 206.8 290.7 206.3 290.4 205.8 290.9 205.3 290.1 204.8 290.4 204.3 290.1 203.8 290.2 203.3 290.7 202.8 290.9 202.3 290.3 201.8 290.5 201.3 290.2 200.8 290.6 200.3 290.7 199.8 290.3 199.3 290.3 198.8 290.3 198.3 290.3 197.8 290.4 197.3 290.5 196.8 290.5 196.3 290.9 195.8 290.4 195.3 290.5 194.8 290.4 194.3 291.1 193.8 290.3 193.3 291.3 192.8 290.7 192.3 290.6 191.8 290.5 191.3 290.4 190.8 290.8 190.3 290.7 189.8 290.5 189.3 290.5 188.8 290.7 188.3 291 187.8 290.8 187.3 290.5 186.8 290.6 186.3 290.6 185.8 291.3 185.3 291 184.8 290.8 184.3 290.7 183.8 291 183.3 290.9 182.8 290.7 182.3 291 181.8 290.8 181.3 290.9 180.8 290.9 180.3 291.3 179.8 290.9 179.3 291.4 178.8 291.1 178.3 290.9 177.8 291.4 177.3 291.4 176.8 290.9 176.3 291.7 175.8 290.9 175.3 291.2 174.8 291 174.3 291.6 173.8 291.2 173.3 292.1 172.8 291 172.3 291.1 171.8 291.1 171.3 291.4 170.8 291.2 170.3 291.2 169.8 291.3 169.3 291.5 168.8 291.2 168.3 291.5 167.8 291.4 167.3 291.4 166.8 291.2 166.3 291.3 165.8 291.7 165.3 291.2 164.8 291.9 164.3 291.4 163.8 291.5 163.3 291.8 162.8 292.3 162.3 291.7 161.8 291.4 161.3 291.8 160.8 291.9 160.3 291.5 159.8 291.5 159.3 291.5 158.8 291.5 158.3 292.1 157.8 291.6 157.3 291.5 156.8 291.9 156.3 291.7 155.8 291.8 155.3 291.6 154.8 291.5 154.3 292.3 153.8 291.8 153.3 291.6 152.8 291.5 152.3 291.8 151.8 291.9 151.3 291.7 150.8 291.6 150.3 292 149.8 291.9 149.3 291.7 148.8 291.7 148.3 292.2 147.8 291.7 147.3 291.7 146.8 291.7 146.3 292.5 145.8 291.9 145.3 292.3 144.8 292.3 144.3 292.2 143.8 292.2 143.3 292.9 142.8 291.9 142.3 292.2 141.8 292.1 141.3 292.2 140.8 292.3 140.3 291.9 139.8 291.9 139.3 292 138.8 292.6 138.3 292.3 137.8 292.2 137.3 292.2 136.8 292.1 136.3 292.2 135.8 292.6 135.3 292 134.8 292.4 134.3 292.7 133.8 292.3 133.3 292 132.8 292.4 132.3 292.3 131.8 292.3 131.3 292.1 130.8 292.4 130.3 292.3 129.8 292.5 129.3 292.1 128.8 292.4 128.3 292.6 127.8 292.2 127.3 292.3 126.8 292.3 126.3 292.5 125.8 292.6 125.3 292.5 124.8 292.8 124.3 292.4 123.8 292.2 123.3 292.6 122.8 292.4 122.3 292.4 121.8 293 121.3 292.6 120.8 292.7 120.3 292.7 119.8 292.4 119.3 292.6 118.8 292.7 118.3 292.4 117.8 292.9 117.3 292.5 116.8 292.4 116.3 292.5 115.8 292.8 115.3 292.8 114.8 292.8 114.3 292.4 113.8 292.7 113.3 293.3 112.8 292.7 112.3 293.1 111.8 292.7 111.3 293 110.8 292.6 110.3 292.5 109.8 293.2 109.3 292.5 108.8 292.5 108.3 292.7 107.8 292.6 107.3 292.8 106.8 292.9 106.3 293.2 105.8 293.1 105.3 292.7 104.8 292.8 104.3 293.2 103.8 293 103.3 293.1 102.8 292.8 102.3 292.8 101.8 293.5 101.3 293.1 100.8 292.8 100.3 292.9 99.8 293 99.3 293.1 98.8 292.9 98.3 292.8 97.8 292.9 97.3 293.2 96.8 293.3 96.3 292.9 95.8 293.5 95.3 293.1 94.8 293.1 94.3 292.9 93.8 293 93.3 292.9 92.8 293.3 92.3 293.5 91.8 293.1 91.3 293.6 90.8 293.1 90.3 293 89.8 293.4 89.3 293 88.8 294 88.3 293.3 87.8 293.6 87.3 293.6 86.8 293.1 86.3 293.5 85.8 293.3 85.3 293.2 84.8 293.4 84.3 293.1 83.8 293.2 83.3 293.5 82.8 293.2 82.3 293.4 81.8 293.9 81.3 294.1 80.8 293.6 80.3 293.2 79.8 293.5 79.3 293.8 78.8 293.3 78.3 293.8 77.8 293.4 77.3 293.6 76.8 293.6 76.3 293.5 75.8 293.5 75.3 293.5 74.8 293.7 74.3 293.9 73.8 293.4 73.3 293.4 72.8 294.2 72.3 293.7 71.8 293.8 71.3 294.1 70.8 294 70.3 293.8 69.8 293.8 69.3 294 68.8 293.8 68.3 293.8 67.8 293.5 67.3 293.9 66.8 293.7 66.3 293.8 65.8 293.5 65.3 293.7 64.8 293.8 64.3 293.6 63.8 293.8 63.3 294.1 62.8 293.7 62.3 293.8 61.8 293.6 61.3 293.9 60.8 293.9 60.3 294.2 59.8 293.8 59.3 293.9 58.8 294 58.3 293.8 57.8 293.7 57.3 293.9 56.8 293.7 56.3 293.8 55.8 294.3 55.3 294.1 54.8 294 54.3 294.2 53.8 293.9 53.3 294.4 52.8 294.4 52.3 294.2 51.8 294.2 51.3 294.2 50.8 294 50.3 294.7 49.8 294.1 49.3 294 48.8 294.3 48.3 294.4 47.8 294 47.3 294.2 46.8 294.1 46.3 294.2 45.8 294.2 45.3 294.9 44.8 294.4 44.3 294.8 43.8 294.2 43.3 294.3 42.8 294.5 42.3 294.4 41.8 294.4 41.3 294.3 40.8 294.6 40.3 294.2 39.8 294.3 39.3 294.8 38.8 294.3 38.3 294.5 37.8 294.2 37.3 295 36.8 294.5 36.3 294.7 35.8 294.3 35.3 294.7 34.8 294.5 34.3 294.5 33.8 294.6 33.3 294.6 32.8 294.5 32.3 294.8 31.8 295.1 31.3 294.4 30.8 295 30.3 294.4 29.8 294.4 29.3 294.4 28.8 294.8 28.3 294.8 27.8 294.8 27.3 294.6 26.8 294.5 26.3 294.7 25.8 294.6 25.3 294.6 24.8 294.6 24.3 295 23.8 294.7 23.3 294.8 22.8 294.9 22.3 294.7 21.8 294.8 21.3 295.1 20.8 295 20.3 295 19.8 294.8Z" fill="#f5b921"/>
<path d="M19.8 270.3 20.3 271.4 20.8 271.2 21.3 271.8 21.8 270.7 22.3 270 22.8 270.5 23.3 271.7 23.8 269.7 24.3 271.4 24.8 271.7 25.3 271.4 25.8 271.2 26.3 270.7 26.8 271.3 27.3 271.2 27.8 271.3 28.3 271.2 28.8 270.9 29.3 270.5 29.8 271 30.3 270.6 30.8 271 31.3 270.3 31.8 271.3 32.3 271.6 32.8 271.5 33.3 271 33.8 271.1 34.3 270.5 34.8 271.4 35.3 270 35.8 268.5 36.3 271.2 36.8 271.4 37.3 270.6 37.8 271.6 38.3 270.4 38.8 270.7 39.3 271.3 39.8 270.7 40.3 271.1 40.8 269.9 41.3 271.3 41.8 270.3 42.3 270.8 42.8 271.3 43.3 270.9 43.8 270.6 44.3 271 44.8 270.9 45.3 270.7 45.8 270.4 46.3 270.8 46.8 266.9 47.3 269.9 47.8 271.3 48.3 271.3 48.8 269.9 49.3 271.2 49.8 271.1 50.3 271.7 50.8 269.5 51.3 268.6 51.8 270.2 52.3 271.3 52.8 270.6 53.3 271.2 53.8 269.6 54.3 271.5 54.8 271.7 55.3 270.8 55.8 270.6 56.3 269.8 56.8 271.2 57.3 271.1 57.8 270.7 58.3 270 58.8 270.2 59.3 271.1 59.8 271 60.3 271.1 60.8 269.2 61.3 270.4 61.8 271.8 62.3 268.4 62.8 271.1 63.3 270.5 63.8 269.4 64.3 269.8 64.8 271.6 65.3 271.1 65.8 270.2 66.3 271.5 66.8 271.7 67.3 269.5 67.8 271 68.3 268.4 68.8 271.1 69.3 271.6 69.8 271.1 70.3 271.1 70.8 269.2 71.3 269.4 71.8 271.5 72.3 271.6 72.8 270.3 73.3 271.7 73.8 270.8 74.3 271.3 74.8 269.7 75.3 271.8 75.8 271.1 76.3 270.6 76.8 269.8 77.3 271.1 77.8 271.7 78.3 271.8 78.8 271.7 79.3 270.5 79.8 271.3 80.3 271.5 80.8 270 81.3 271.6 81.8 271.5 82.3 271.7 82.8 269.8 83.3 271.2 83.8 271 84.3 271.1 84.8 271.7 85.3 271 85.8 271.3 86.3 270.9 86.8 271.1 87.3 271.1 87.8 269.1 88.3 270.6 88.8 270.7 89.3 271.6 89.8 269.6 90.3 269.6 90.8 271.1 91.3 271.7 91.8 269.6 92.3 268.9 92.8 271.7 93.3 271.3 93.8 271.3 94.3 269.9 94.8 271.7 95.3 270.7 95.8 270.8 96.3 270.4 96.8 271.4 97.3 269.6 97.8 271.1 98.3 271.7 98.8 271.4 99.3 270.9 99.8 271.7 100.3 270.8 100.8 271.5 101.3 271.4 101.8 271.4 102.3 270.5 102.8 270.8 103.3 269.8 103.8 268.5 104.3 271.3 104.8 270.9 105.3 269.1 105.8 270.9 106.3 271.7 106.8 270.6 107.3 269.3 107.8 269.9 108.3 271.5 108.8 271.5 109.3 270.9 109.8 269.8 110.3 270.8 110.8 270.7 111.3 271.6 111.8 271.6 112.3 271.7 112.8 270.6 113.3 271.5 113.8 271 114.3 271.5 114.8 270.4 115.3 270.4 115.8 271.2 116.3 271.1 116.8 270.8 117.3 271.2 117.8 271.5 118.3 270.3 118.8 271 119.3 271 119.8 270.9 120.3 271.3 120.8 271.6 121.3 271.3 121.8 270.1 122.3 270.8 122.8 271.1 123.3 268.1 123.8 271.7 124.3 269.8 124.8 266.6 125.3 270.6 125.8 271.5 126.3 271.4 126.8 271.6 127.3 270.3 127.8 270.5 128.3 270.8 128.8 271.7 129.3 270.9 129.8 271.7 130.3 270.3 130.8 270.1 131.3 271.3 131.8 271.6 132.3 271.4 132.8 271.6 133.3 268.3 133.8 271.4 134.3 271.4 134.8 270.8 135.3 270.3 135.8 271.4 136.3 269.7 136.8 270.4 137.3 269.3 137.8 271.5 138.3 271 138.8 271.4 139.3 271.3 139.8 271.2 140.3 271.7 140.8 271 141.3 271.3 141.8 269.4 142.3 271.7 142.8 271.5 143.3 270.8 143.8 270.1 144.3 270.9 144.8 271.2 145.3 271 145.8 271.7 146.3 271.8 146.8 270.6 147.3 270.2 147.8 270.9 148.3 270.9 148.8 270.8 149.3 271.5 149.8 271.7 150.3 271.6 150.8 270.6 151.3 271.5 151.8 271.1 152.3 271.6 152.8 271.3 153.3 270.8 153.8 271.5 154.3 271.6 154.8 268.6 155.3 271.4 155.8 270.4 156.3 270.3 156.8 270.3 157.3 270.9 157.8 270.1 158.3 271.7 158.8 270.5 159.3 270.2 159.8 271.3 160.3 270.8 160.8 271.2 161.3 269 161.8 269.3 162.3 266.9 162.8 270.4 163.3 271.4 163.8 269.7 164.3 271.3 164.8 271.6 165.3 271.3 165.8 269.9 166.3 271.7 166.8 270.9 167.3 271 167.8 270.7 168.3 271.1 168.8 271.2 169.3 271.5 169.8 271.7 170.3 271.3 170.8 271 171.3 270.6 171.8 269.5 172.3 271.2 172.8 271.2 173.3 271.1 173.8 271.2 174.3 271.4 174.8 270.9 175.3 270.1 175.8 271.4 176.3 269.7 176.8 271.6 177.3 270.8 177.8 271.1 178.3 271.2 178.8 269.3 179.3 269.7 179.8 271.5 180.3 271.7 180.8 270.7 181.3 270.9 181.8 271.3 182.3 270.4 182.8 271.5 183.3 271.6 183.8 271.8 184.3 271.1 184.8 271.2 185.3 270 185.8 270.7 186.3 270.5 186.8 271.8 187.3 270.5 187.8 270.4 188.3 271.5 188.8 270.1 189.3 270 189.8 271.1 190.3 270 190.8 271.6 191.3 270.2 191.8 271.6 192.3 270.5 192.8 271.1 193.3 270 193.8 270.9 194.3 270.3 194.8 271 195.3 270.9 195.8 269.7 196.3 270.7 196.8 271.4 197.3 271.8 197.8 271.5 198.3 271.1 198.8 271 199.3 270.9 199.8 271.8 200.3 271.4 200.8 270.4 201.3 269.3 201.8 270.9 202.3 271.3 202.8 270.5 203.3 271.7 203.8 269.4 204.3 270.5 204.8 269.3 205.3 271.5 205.8 270.5 206.3 270.2 206.8 270.9 207.3 270.8 207.8 271.6 208.3 271.5 208.8 271.3 209.3 271.6 209.8 270.8 210.3 270.9 210.8 270.8 211.3 271.5 211.8 269.5 212.3 271.5 212.8 270.8 213.3 271.1 213.8 270.8 214.3 271.2 214.8 271.4 215.3 271.4 215.8 271.3 216.3 270.3 216.8 271 217.3 271.6 217.8 271.7 218.3 270.9 218.8 267.5 219.3 269.9 219.8 269 220.3 267.9 220.8 271.3 221.3 271.4 221.8 270.9 222.3 269.9 222.8 271.7 223.3 270.5 223.8 271.6 224.3 271.8 224.8 271 225.3 271.4 225.8 271.1 226.3 270.8 226.8 268.1 227.3 271.3 227.8 270.7 228.3 271.4 228.8 270.8 229.3 270.9 229.8 271.6 230.3 271.6 230.8 271.3 231.3 270.6 231.8 271.1 232.3 271 232.8 270.9 233.3 270.3 233.8 270.8 234.3 271 234.8 271.4 235.3 268.3 235.8 271.5 236.3 270.3 236.8 271.4 237.3 271.6 237.8 271.2 238.3 271.2 238.8 269.4 239.3 271.5 239.8 271.5 240.3 270.6 240.8 271.6 241.3 270.6 241.8 271.1 242.3 271 242.8 271.5 243.3 271.4 243.8 270.6 244.3 271.3 244.8 270.2 245.3 270.2 245.8 271.5 246.3 270.7 246.8 271.5 247.3 271.4 247.8 270.7 248.3 270 248.8 270.5 249.3 271.1 249.8 270.8 250.3 270.2 250.8 269 251.3 271.5 251.8 271.3 252.3 271.3 252.8 269.7 253.3 270.3 253.8 269.9 254.3 270.5 254.8 271.1 255.3 269.8 255.8 270.5 256.3 269.7 256.8 271 257.3 271.4 257.8 269.3 258.3 270.4 258.8 270.9 259.3 271.4 259.8 269.9 260.3 271.2 260.8 269.9 261.3 271.1 261.8 271.2 262.3 269.5 262.8 271.4 263.3 269 263.8 270 264.3 270.7 264.8 271.2 265.3 267.4 265.8 269.1 266.3 271.1 266.8 270.9 267.3 270.4 267.8 270.4 268.3 270.7 268.8 270.3 269.3 270.5 269.8 269.5 270.3 269.3 270.8 270.6 271.3 270.1 271.8 267.5 272.3 270.4 272.8 269.4 273.3 269.7 273.8 269 274.3 269.1 274.8 270 275.3 269.3 275.8 269.6 276.3 269.2 276.8 270 277.3 269.6 277.8 269.9 278.3 268.2 278.8 268.2 279.3 269.3 279.8 269.4 280.3 267.8 280.8 268.3 281.3 267.9 281.8 266.5 282.3 263.2 282.8 266.7 283.3 266.8 283.8 267.5 284.3 267.5 284.8 267 285.3 266 285.8 265.8 286.3 266.7 286.8 263.6 287.3 265.3 287.8 264.7 288.3 265 288.8 265.1 289.3 263.1 289.8 264.5 290.3 263.6 290.8 262.7 291.3 263.2 291.8 262 292.3 262.2 292.8 262.1 293.3 259.5 293.8 261 294.3 261.4 294.8 260.7 295.3 259.9 295.8 258.2 296.3 259.9 296.8 258.2 297.3 259 297.8 258.9 298.3 254.5 298.8 257.9 299.3 256.3 299.8 255.9 300.3 253.9 300.8 256.2 301.3 254.3 301.8 254.9 302.3 252.6 302.8 253.9 303.3 253.9 303.8 253 304.3 252.5 304.8 251.8 305.3 250.3 305.8 250.8 306.3 250.8 306.8 249.8 307.3 248.4 307.8 247.8 308.3 248.1 308.8 247.5 309.3 244.5 309.8 246 310.3 245.3 310.8 242.9 311.3 244.5 311.8 244 312.3 243.1 312.8 242.3 313.3 241.5 313.8 241.2 314.3 240.1 314.8 238.5 315.3 239 315.8 237.1 316.3 236.7 316.8 234.2 317.3 234.7 317.8 232.5 318.3 233 318.8 232.5 319.3 230.7 319.8 230.2 320.3 228.8 320.8 228.1 321.3 226 321.8 225.4 322.3 223.5 322.8 220.9 323.3 219.6 323.8 218.3 324.3 215.9 324.8 213.3 325.3 209.9 325.8 206.8 326.3 201.5 326.8 198.8 327.3 190.2 327.8 184.3 328.3 179.4 328.8 170.2 329.3 160.8 329.8 155 330.3 151.9 330.8 148.9 331.3 147.8 331.8 146.2 332.3 145.1 332.8 145.1 333.3 144.6 333.8 144.8 334.3 146 334.8 147.3 335.3 150.8 335.8 151.9 336.3 154.2 336.8 158.3 337.3 160.1 337.8 163.1 338.3 165 338.8 166.9 339.3 167.9 339.8 168.6 340.3 167.5 340.8 166.5 341.3 165.2 341.8 163.8 342.3 162.1 342.8 159.8 343.3 157.4 343.8 154.6 344.3 154.8 344.8 153.5 345.3 153.4 345.8 151.8 346.3 150.9 346.8 150.6 347.3 150.9 347.8 150.1 348.3 150.6 348.8 150.7 349.3 151.2 349.8 151 350.3 151.4 350.8 150.1 351.3 153 351.8 154.6 352.3 155.9 352.8 156.6 353.3 157.5 353.8 158 354.3 157.3 354.8 153.8 355.3 156.7 355.8 155.2 356.3 153.4 356.8 153.8 357.3 154.4 357.8 154 358.3 152.3 358.8 153.1 359.3 152.6 359.8 152.3 360.3 151.3 360.8 150.6 361.3 151.3 361.8 152.7 362.3 152.6 362.8 152.4 363.3 153.3 363.8 151.6 364.3 153.8 364.8 153.5 365.3 154 365.8 154.4 366.3 153.8 366.8 155.7 367.3 155.6 367.8 156.2 368.3 156.4 368.8 156.3 369.3 155.2 369.8 157 370.3 157.5 370.8 156.7 371.3 157.4 371.8 158 372.3 159.1 372.8 159.6 373.3 160.2 373.8 160.1 374.3 161.9 374.8 162.2 375.3 163.6 375.8 164.2 376.3 165.2 376.8 166 377.3 165.5 377.8 167.2 378.3 168.2 378.8 169.8 379.3 171.4 379.8 172.9 380.3 172.9 380.8 174.1 381.3 175.8 381.8 177.3 382.3 178.7 382.8 178.6 383.3 180.7 383.8 182.1 384.3 183.2 384.8 184.6 385.3 184.9 385.8 187.2 386.3 188 386.8 189.5 387.3 191.1 387.8 190.9 388.3 193.3 388.8 194.5 389.3 195 389.8 197 390.3 199.6 390.8 201.7 391.3 202.7 391.8 204.3 392.3 207.2 392.8 210.2 393.3 210.2 393.8 214 394.3 215.9 394.8 217.4 395.3 218.7 395.8 220 396.3 223.6 396.8 224.7 397.3 226.7 397.8 228.6 398.3 228.4 398.8 229.8 399.3 232.1 399.8 233.6 400.3 236.2 400.8 237.7 401.3 237.9 401.8 239.7 402.3 241.8 402.8 244.5 403.3 246.4 403.8 248 404.3 250.6 404.8 251.2 405.3 254.6 405.8 256 406.3 259.7 406.8 260.9 407.3 262.6 407.8 265 408.3 265.7 408.8 266.4 409.3 268.5 409.8 269.4 410.3 270.4 410.8 272.2 411.3 273.4 411.8 273.3 412.3 275.4 412.8 276.6 413.3 278.1 413.8 276.6 414.3 278.5 414.8 280.5 415.3 279.4 415.8 282.2 416.3 283 416.8 283.9 417.3 284.8 417.8 285.4 418.3 283.4 418.8 287 419.3 286.8 419.8 288.6 420.3 289 420.8 289.2 421.3 290.2 421.8 291.2 422.3 291.4 422.8 292.4 423.3 292.7 423.8 293 424.3 292.6 424.8 294.3 425.3 292.9 425.8 294.8 426.3 294.2 426.8 296 427.3 293.5 427.8 296.8 428.3 295.3 428.8 296.5 429.3 297.2 429.8 296.2 430.3 295.2 430.8 296.8 431.3 296.5 431.8 296.2 432.3 295.6 432.8 295.8 433.3 294.3 433.8 295.1 434.3 294.7 434.8 292.9 435.3 293.5 435.8 293.4 436.3 292.4 436.8 290.8 437.3 290.1 437.8 290.7 438.3 289.7 438.8 288.5 439.3 288.5 439.8 287.4 440.3 286.7 440.8 286.4 441.3 283.9 441.8 283.7 442.3 282 442.8 283.1 443.3 281.6 443.8 280.5 444.3 279.2 444.8 277.1 445.3 278.1 445.8 276.1 446.3 276.2 446.8 275.3 447.3 271.5 447.8 273 448.3 271.5 448.8 270.4 449.3 270.4 449.8 270.2 450.3 268.8 450.8 268.5 451.3 267.3 451.8 266.5 452.3 264.1 452.8 264 453.3 263.1 453.8 261.8 454.3 260.8 454.8 260.4 455.3 259 455.8 258.4 456.3 256.8 456.8 256.6 457.3 254.9 457.8 254.9 458.3 253.6 458.8 252.1 459.3 251.6 459.8 250 460.3 248.7 460.8 248.2 461.3 246.8 461.8 246.8 462.3 245.8 462.8 245.1 463.3 241.5 463.8 243.1 464.3 239.5 464.8 240.4 465.3 240.3 465.8 239.7 466.3 239.1 466.8 237.9 467.3 237.6 467.8 237 468.3 236.3 468.8 235.7 469.3 234.8 469.8 234.6 470.3 233.4 470.8 233.2 471.3 232.8 471.8 233.6 472.3 232.7 472.8 231.3 473.3 231.5 473.8 233.1 474.3 232.2 474.8 231.6 475.3 233 475.8 232.7 476.3 233.1 476.8 232.7 477.3 232.1 477.8 232.1 478.3 233.1 478.8 233.6 479.3 233.5 479.8 232.6 480.3 233.4 480.8 234 481.3 234.9 481.8 234.8 482.3 234.3 482.8 236.2 483.3 234.4 483.8 235.5 484.3 237.4 484.8 237.6 485.3 237.8 485.8 236.6 486.3 238.8 486.8 239.9 487.3 238.6 487.8 239.7 488.3 239 488.8 240.8 489.3 242.2 489.8 241.2 490.3 243.1 490.8 243.4 491.3 240.6 491.8 244.7 492.3 244.2 492.8 244.4 493.3 244.8 493.8 245.2 494.3 247 494.8 247 495.3 247.5 495.8 247.4 496.3 248.2 496.8 249.7 497.3 250 497.8 250.5 498.3 251.7 498.8 252 499.3 249.9 499.8 253.3 500.3 254.7 500.8 254.5 501.3 255.5 501.8 255.2 502.3 257.2 502.8 257.9 503.3 258.2 503.8 258.9 504.3 259 504.8 258.7 505.3 261.3 505.8 261.6 506.3 262.3 506.8 262.4 507.3 261.8 507.8 263.5 508.3 264.3 508.8 264.5 509.3 263.4 509.8 265.6 510.3 265.8 510.8 266.9 511.3 266.8 511.8 267.8 512.3 266.9 512.8 268.2 513.3 268.1 513.8 269.3 514.3 268.4 514.8 269.9 515.3 270.2 515.8 270.5 516.3 269.1 516.8 270.7 517.3 271 517.8 269.6 518.3 270.8 518.8 270.1 519.3 270 519.8 272.4 520.3 269.1 520.8 272.1 521.3 272.6 521.8 273 522.3 272.3 522.8 272.6 523.3 272.7 523.8 273.3 524.3 273.7 524.8 272.3 525.3 271.6 525.8 273.4 526.3 272.6 526.8 273.1 527.3 273 527.8 270.1 528.3 272.5 528.8 270.1 529.3 272.1 529.8 272.1 530.3 272.7 530.8 270.1 531.3 270.4 531.8 271.2 532.3 271.5 532.8 270.5 533.3 270.5 533.8 270.2 534.3 270 534.8 270.7 535.3 270 535.8 268.7 536.3 267.4 536.8 268.6 537.3 269.5 537.8 268.1 538.3 269 538.8 268.4 539.3 266.7 539.8 267.5 540.3 267.8 540.8 267.4 541.3 266.2 541.8 266.1 542.3 266.7 542.8 265.9 543.3 266.1 543.8 264.7 544.3 264 544.8 265.3 545.3 264.2 545.8 263.2 546.3 263.3 546.8 260.7 547.3 262.9 547.8 263.1 548.3 262.1 548.8 262.8 549.3 262.3 549.8 259 550.3 261.9 550.8 260.5 551.3 261.1 551.8 260.3 552.3 258 552.8 259.2 553.3 258 553.8 259.5 554.3 259.1 554.8 257.7 555.3 259.4 555.8 258.1 556.3 257.9 556.8 257.7 557.3 258 557.8 257.7 558.3 257.4 558.8 256.5 559.3 257.4 559.8 257.2 560.3 256 560.8 257.2 561.3 255.5 561.8 256.4 562.3 256.4 562.8 255.7 563.3 254.2 563.8 256 564.3 254.5 564.8 255 565.3 254.9 565.8 253.1 566.3 254.9 566.8 254.7 567.3 255.4 567.8 253.3 568.3 251.6 568.8 254.5 569.3 254.8 569.8 255 570.3 254.1 570.8 255 571.3 255 571.8 255 572.3 252.7 572.8 254.1 573.3 253.9 573.8 254.3 574.3 253.4 574.8 254.8 575.3 254.2 575.8 254 576.3 254.2 576.8 251.5 577.3 253.9 577.8 254.1 578.3 254 578.8 252.5 579.3 253.1 579.8 254.7 580.3 254.8 580.8 253.8 581.3 253.3 581.8 253.7 582.3 254.7 582.8 254 583.3 254.2 583.8 254.5 584.3 254 584.8 254.2 585.3 254.5 585.8 254.6 586.3 253.8 586.8 254.8 587.3 253.5 587.8 255.7 588.3 255.1 588.8 255.5 589.3 255.7 589.8 253.6 590.3 254.6 590.8 256.7 591.3 256.1 591.8 255.2 592.3 256.6 592.8 257.2 593.3 257.8 593.8 255.4 594.3 256.1 594.8 258.3 595.3 258.4 595.8 258 596.3 258.8 596.8 258.2 597.3 256.8 597.8 259 598.3 260.4 598.8 257.2 599.3 260.8 599.8 259.7 600.3 260.4 600.8 261.1 601.3 261.8 601.8 261.6 602.3 261.4 602.8 260.6 603.3 262.6 603.8 261.1 604.3 262.9 604.8 263.1 605.3 263.2 605.8 263.5 606.3 263.5 606.8 263.7 607.3 263.4 607.8 264 608.3 264 608.8 263.6 609.3 264.5 609.8 264.1 610.3 264.9 610.8 264.4 611.3 262.7 611.8 262 612.3 263.8 612.8 263.9 613.3 265.3 613.8 263.7 614.3 264.3 614.8 265.2 615.3 265.5 615.8 264.8 616.3 265.5 616.8 265.6 617.3 265.5 617.8 265.6 618.3 265.7 618.8 264.3 619.3 266 619.8 265.5 620.3 265.3 620.8 266 621.3 265.9 621.8 265.9 622.3 265.6 622.8 266.1 623.3 265.2 623.8 265.1 624.3 265.3 624.8 266 625.3 265 625.8 265.3 626.3 262.3 626.8 265.3 627.3 265.1 627.8 265.2 628.3 264.3 628.8 264.8 629.3 264.7 629.8 263.9 630.3 264.6 630.8 264.5 631.3 263.3 631.8 261.4 632.3 263.7 632.8 263.5 633.3 263.1 633.8 261.8 634.3 263.3 634.8 262.6 635.3 261.4 635.8 262.3 636.3 261.7 L636.3 269.1 635.8 269.4 635.3 270.7 634.8 270 634.3 269.2 633.8 270.8 633.3 272.4 632.8 270.5 632.3 269.8 631.8 271.1 631.3 270 630.8 270.3 630.3 270.4 629.8 273.3 629.3 271 628.8 271.1 628.3 271 627.8 271.5 627.3 271.1 626.8 272.7 626.3 272.7 625.8 271.8 625.3 271.9 624.8 274.3 624.3 272.3 623.8 271.8 623.3 271.8 622.8 272.2 622.3 274.5 621.8 271.7 621.3 273.5 620.8 273 620.3 272.3 619.8 272.3 619.3 272.2 618.8 272.3 618.3 272.7 617.8 272.3 617.3 272.3 616.8 271.5 616.3 272 615.8 271.7 615.3 271.5 614.8 271.3 614.3 272 613.8 271.7 613.3 271.5 612.8 270.9 612.3 272.3 611.8 272.9 611.3 271.5 610.8 271.3 610.3 272.8 609.8 270.8 609.3 271.4 608.8 270.5 608.3 270.5 607.8 271.1 607.3 269.7 606.8 270.1 606.3 269.7 605.8 270.2 605.3 270.2 604.8 269 604.3 268.7 603.8 269 603.3 268.8 602.8 268.7 602.3 269 601.8 268.3 601.3 270 600.8 268.2 600.3 267.2 599.8 269.1 599.3 267.3 598.8 266.8 598.3 266.7 597.8 266.4 597.3 267 596.8 265.9 596.3 265.7 595.8 265.2 595.3 265.5 594.8 264.7 594.3 265 593.8 268.3 593.3 263.7 592.8 264.2 592.3 263.6 591.8 263.1 591.3 264 590.8 263 590.3 263.5 589.8 263.6 589.3 263.6 588.8 262.4 588.3 261.9 587.8 262 587.3 261.5 586.8 261.7 586.3 261.7 585.8 261.7 585.3 261.6 584.8 260.9 584.3 261.3 583.8 261 583.3 261.8 582.8 261.8 582.3 260.7 581.8 262 581.3 260.7 580.8 260.5 580.3 260.4 579.8 261 579.3 261.4 578.8 260.4 578.3 260.5 577.8 261.7 577.3 260.7 576.8 261.3 576.3 261.5 575.8 261.7 575.3 261.8 574.8 261 574.3 261 573.8 261.3 573.3 261.7 572.8 261 572.3 263 571.8 260.5 571.3 261.3 570.8 261.5 570.3 261.9 569.8 261.3 569.3 261.1 568.8 261.1 568.3 261.3 567.8 262 567.3 261.8 566.8 263.5 566.3 264.1 565.8 262.7 565.3 262.3 564.8 261.7 564.3 263.3 563.8 262.9 563.3 263.9 562.8 263.5 562.3 263.8 561.8 262.7 561.3 263.8 560.8 263.5 560.3 263.4 559.8 264 559.3 264.5 558.8 265 558.3 264.9 557.8 264.7 557.3 265.5 556.8 266.3 556.3 265.3 555.8 265.4 555.3 266.8 554.8 265.6 554.3 266.5 553.8 266.1 553.3 267.7 552.8 266.6 552.3 267 551.8 267.5 551.3 268 550.8 268 550.3 269.6 549.8 268.4 549.3 269.2 548.8 269.3 548.3 269 547.8 269.5 547.3 269.8 546.8 270 546.3 270.8 545.8 272.8 545.3 271.4 544.8 272.2 544.3 272.9 543.8 272.8 543.3 272.4 542.8 273.7 542.3 273.3 541.8 274.7 541.3 273.8 540.8 274 540.3 275.3 539.8 274.4 539.3 275.4 538.8 275.3 538.3 278.2 537.8 276.6 537.3 276.5 536.8 275.8 536.3 277.5 535.8 276.9 535.3 277.3 534.8 278.9 534.3 278.4 533.8 277.3 533.3 279.6 532.8 279.3 532.3 277.9 531.8 278.5 531.3 279.1 530.8 279.5 530.3 278.6 529.8 278.5 529.3 279.2 528.8 279 528.3 278.9 527.8 279.8 527.3 280.5 526.8 279.9 526.3 279.5 525.8 279.4 525.3 281.4 524.8 282.4 524.3 279.4 523.8 280.4 523.3 280.1 522.8 279.2 522.3 279.8 521.8 279 521.3 279.3 520.8 278.9 520.3 279.7 519.8 278.5 519.3 278.1 518.8 278.1 518.3 278.2 517.8 278.5 517.3 278.3 516.8 279.8 516.3 276.8 515.8 276.8 515.3 276.2 514.8 276.7 514.3 277 513.8 277.5 513.3 275.5 512.8 275.5 512.3 275.8 511.8 276 511.3 274.3 510.8 273.5 510.3 273.5 509.8 273.2 509.3 272.3 508.8 271.6 508.3 271.3 507.8 270.7 507.3 270.3 506.8 270 506.3 270.7 505.8 268.7 505.3 267.6 504.8 267.5 504.3 269.7 503.8 266.5 503.3 265.8 502.8 264.9 502.3 267 501.8 263.4 501.3 262.8 500.8 262.3 500.3 261.6 499.8 262.3 499.3 260.9 498.8 259.6 498.3 258.6 497.8 258.6 497.3 258.3 496.8 257.3 496.3 255.9 495.8 255.9 495.3 255.7 494.8 253.9 494.3 254.4 493.8 256.2 493.3 252.7 492.8 251.9 492.3 251.9 491.8 251.5 491.3 251.7 490.8 250.7 490.3 249.7 489.8 249.3 489.3 248.9 488.8 250.4 488.3 248.6 487.8 247.3 487.3 247.4 486.8 246.8 486.3 247.1 485.8 245.9 485.3 245.8 484.8 245.6 484.3 244.3 483.8 243.6 483.3 243.7 482.8 242.5 482.3 241.9 481.8 242.3 481.3 242.1 480.8 241.7 480.3 241.9 479.8 242 479.3 239.9 478.8 240.7 478.3 239.8 477.8 240 477.3 242.1 476.8 239.3 476.3 240.4 475.8 239.4 475.3 239.3 474.8 240.8 474.3 239.5 473.8 239.4 473.3 239.8 472.8 242.2 472.3 239.9 471.8 240.8 471.3 242.6 470.8 242.3 470.3 243.2 469.8 242.5 469.3 242.7 468.8 243 468.3 243.8 467.8 244.9 467.3 244.6 466.8 247.2 466.3 245.9 465.8 247.4 465.3 248.6 464.8 248.9 464.3 249.1 463.8 250.6 463.3 254.4 462.8 252.7 462.3 253.2 461.8 255.5 461.3 255 460.8 256.1 460.3 258.3 459.8 259.7 459.3 262.1 458.8 260.4 458.3 261 457.8 263 457.3 264 456.8 264.3 456.3 265.8 455.8 266.6 455.3 268.3 454.8 268.3 454.3 271.1 453.8 271.3 453.3 271.7 452.8 272.2 452.3 272.9 451.8 274.7 451.3 275.4 450.8 275.7 450.3 276.3 449.8 278.1 449.3 278.2 448.8 279.1 448.3 279.8 447.8 281.4 447.3 282.7 446.8 282.6 446.3 283.6 445.8 285 445.3 285.7 444.8 286.8 444.3 287.2 443.8 288.3 443.3 289.9 442.8 290.2 442.3 292.1 441.8 291.6 441.3 293.2 440.8 294 440.3 294.2 439.8 294.7 439.3 297.6 438.8 296.7 438.3 297.1 437.8 297.8 437.3 300.1 436.8 299.2 436.3 299.3 435.8 299.8 435.3 300.1 434.8 300.8 434.3 301.8 433.8 304.2 433.3 302.2 432.8 302.1 432.3 302.2 431.8 302.3 431.3 302.8 430.8 302.8 430.3 303.6 429.8 302.8 429.3 304.1 428.8 303.7 428.3 303.3 427.8 304.2 427.3 302.7 426.8 303.5 426.3 301.9 425.8 301.6 425.3 301.5 424.8 300.7 424.3 300.6 423.8 300.6 423.3 299.8 422.8 300.1 422.3 298.9 421.8 298.1 421.3 298.2 420.8 297.5 420.3 298.9 419.8 295.5 419.3 296.5 418.8 295.1 418.3 293.4 417.8 292.4 417.3 293.7 416.8 292.1 416.3 291.3 415.8 290.6 415.3 289.1 414.8 289.3 414.3 288.6 413.8 286 413.3 285 412.8 284.3 412.3 283.3 411.8 283 411.3 281.3 410.8 280.7 410.3 279.4 409.8 278 409.3 278.4 408.8 275.6 408.3 275.6 407.8 274.2 407.3 271.6 406.8 269.9 406.3 268.8 405.8 266.9 405.3 266.3 404.8 262.1 404.3 262.5 403.8 257.3 403.3 255.7 402.8 253.3 402.3 250.9 401.8 250.4 401.3 247.5 400.8 248.7 400.3 244 399.8 243.2 399.3 242.6 398.8 240.5 398.3 238.3 397.8 236.5 397.3 235.6 396.8 234.5 396.3 232.4 395.8 230.8 395.3 228.9 394.8 228.8 394.3 226.8 393.8 224 393.3 221.9 392.8 221.9 392.3 217.5 391.8 216.2 391.3 213.3 390.8 210.2 390.3 209.4 389.8 206.9 389.3 208.8 388.8 203.1 388.3 201.9 387.8 202.2 387.3 199.2 386.8 197.7 386.3 196.1 385.8 195.5 385.3 194.3 384.8 192.5 384.3 193 383.8 190.5 383.3 188.6 382.8 187.6 382.3 189 381.8 185.3 381.3 185.3 380.8 182.4 380.3 183 379.8 181 379.3 181.1 378.8 178.2 378.3 177.4 377.8 177.9 377.3 175.1 376.8 173.7 376.3 172.9 375.8 173.4 375.3 171.6 374.8 171.3 374.3 169.3 373.8 169.1 373.3 167.6 372.8 167.3 372.3 166.4 371.8 165.6 371.3 165.4 370.8 166.6 370.3 165.6 369.8 165.8 369.3 164.1 368.8 163.7 368.3 165.8 367.8 163.4 367.3 163.7 366.8 162.4 366.3 165.1 365.8 162.2 365.3 161.6 364.8 161.9 364.3 160.2 363.8 162.2 363.3 159.6 362.8 161.9 362.3 161.4 361.8 159.9 361.3 159.8 360.8 162.4 360.3 158.6 359.8 159.4 359.3 158.9 358.8 161 358.3 160.7 357.8 162.5 357.3 161.1 356.8 162.1 356.3 163.1 355.8 163.8 355.3 163.4 354.8 164.4 354.3 165.3 353.8 165.4 353.3 164.1 352.8 165.4 352.3 163.3 351.8 161.9 351.3 160.9 350.8 160 350.3 159.4 349.8 158.4 349.3 159.3 348.8 157.1 348.3 156.6 347.8 157.3 347.3 158.3 346.8 158 346.3 159.1 345.8 160.1 345.3 160.9 344.8 163.7 344.3 164.4 343.8 165.8 343.3 167 342.8 170.4 342.3 170.8 341.8 172.7 341.3 174.8 340.8 177.6 340.3 176.4 339.8 176.4 339.3 176.6 338.8 179 338.3 176.4 337.8 172.9 337.3 171.4 336.8 168.5 336.3 169.1 335.8 165.3 335.3 160.1 334.8 160.8 334.3 155.7 333.8 153.3 333.3 151.7 332.8 152 332.3 153.1 331.8 154.6 331.3 156.3 330.8 160.4 330.3 165.5 329.8 171.7 329.3 181.1 328.8 193.1 328.3 198.6 327.8 202.6 327.3 209 326.8 210.6 326.3 214.7 325.8 219.2 325.3 220.8 324.8 224.6 324.3 225.5 323.8 229.8 323.3 228.9 322.8 230.5 322.3 232.3 321.8 233.3 321.3 234.4 320.8 235.9 320.3 237 319.8 238.6 319.3 238.9 318.8 241.3 318.3 241.2 317.8 243.8 317.3 243.2 316.8 243.6 316.3 244.4 315.8 248.6 315.3 248.1 314.8 248.4 314.3 247.1 313.8 248.1 313.3 248.7 312.8 249.5 312.3 251.4 311.8 250.5 311.3 251.4 310.8 252.6 310.3 253.2 309.8 253.1 309.3 254 308.8 255.2 308.3 256 307.8 255.7 307.3 257.9 306.8 258.2 306.3 259.2 305.8 259 305.3 259 304.8 258.9 304.3 261 303.8 260.3 303.3 260.4 302.8 260.9 302.3 262.1 301.8 262 301.3 262.1 300.8 264.9 300.3 263 299.8 263.7 299.3 264.9 298.8 266.2 298.3 266.6 297.8 265.8 297.3 266.5 296.8 267 296.3 266.6 295.8 268.9 295.3 268 294.8 268.7 294.3 268 293.8 269.5 293.3 268.4 292.8 268.7 292.3 269.7 291.8 269.7 291.3 270.8 290.8 270.4 290.3 271.1 289.8 272 289.3 271.7 288.8 272.5 288.3 272.6 287.8 272.7 287.3 272.8 286.8 274.8 286.3 273.9 285.8 274.7 285.3 274.4 284.8 273.7 284.3 274.1 283.8 274.3 283.3 274.9 282.8 274.9 282.3 274.9 281.8 274.7 281.3 275 280.8 275.4 280.3 276.2 279.8 275.1 279.3 278.2 278.8 276.5 278.3 275.9 277.8 277.4 277.3 275.7 276.8 276 276.3 276.3 275.8 276.5 275.3 276.8 274.8 278.7 274.3 277 273.8 276.4 273.3 277 272.8 277.7 272.3 276.7 271.8 276.7 271.3 279.9 270.8 277 270.3 277.3 269.8 277.2 269.3 277.2 268.8 276.9 268.3 277.3 267.8 276.8 267.3 277.4 266.8 277 266.3 276.9 265.8 277.7 265.3 277 264.8 278.6 264.3 277.7 263.8 276.9 263.3 276.9 262.8 277.3 262.3 277.1 261.8 277 261.3 277.6 260.8 277.4 260.3 276.9 259.8 276.9 259.3 279.2 258.8 277.3 258.3 279.1 257.8 277.8 257.3 278 256.8 277.2 256.3 277.9 255.8 278.9 255.3 278.3 254.8 277.3 254.3 277.7 253.8 277.8 253.3 278.4 252.8 277.3 252.3 280.8 251.8 278.9 251.3 278.2 250.8 280 250.3 277.1 249.8 277.1 249.3 278.7 248.8 277.7 248.3 278 247.8 277.2 247.3 277.9 246.8 277.3 246.3 278.2 245.8 280.3 245.3 278.2 244.8 278.5 244.3 277.7 243.8 278.7 243.3 278.4 242.8 277.6 242.3 277.3 241.8 277.3 241.3 277.5 240.8 277.2 240.3 277.9 239.8 277.4 239.3 280.3 238.8 277.6 238.3 277.5 237.8 278.1 237.3 277.7 236.8 277.8 236.3 277.1 235.8 277.1 235.3 278 234.8 279.3 234.3 281.4 233.8 277.3 233.3 279.5 232.8 277.9 232.3 279 231.8 279.1 231.3 277.4 230.8 277.3 230.3 279.3 229.8 277.9 229.3 278.2 228.8 279.2 228.3 278.7 227.8 277.3 227.3 277.6 226.8 278.1 226.3 277.7 225.8 277.4 225.3 278.6 224.8 277.4 224.3 278 223.8 278.6 223.3 278.4 222.8 277.2 222.3 278.6 221.8 277.7 221.3 277.2 220.8 278.7 220.3 279 219.8 277.4 219.3 277.5 218.8 279.2 218.3 277.6 217.8 278 217.3 278.8 216.8 278.2 216.3 278 215.8 277.8 215.3 278.7 214.8 277.9 214.3 279 213.8 278.7 213.3 278.6 212.8 278.6 212.3 278.2 211.8 278.5 211.3 277.9 210.8 278.3 210.3 277.8 209.8 277.5 209.3 277.6 208.8 277.6 208.3 277.5 207.8 278.8 207.3 278.1 206.8 278.5 206.3 277.5 205.8 277.6 205.3 277.2 204.8 277.2 204.3 277.7 203.8 277.4 203.3 278.2 202.8 277.7 202.3 278.3 201.8 277.5 201.3 277.6 200.8 278 200.3 278.8 199.8 277.3 199.3 280.8 198.8 278.1 198.3 277.4 197.8 277.5 197.3 278.2 196.8 277.2 196.3 279.3 195.8 277.3 195.3 278.5 194.8 277.4 194.3 278.5 193.8 278 193.3 277.6 192.8 277.7 192.3 278.2 191.8 277.4 191.3 277.6 190.8 278 190.3 278.4 189.8 277.3 189.3 278.9 188.8 277.4 188.3 277.5 187.8 278 187.3 277.8 186.8 277.6 186.3 277.7 185.8 277.4 185.3 278.2 184.8 278 184.3 277.3 183.8 278.4 183.3 280.7 182.8 277.8 182.3 277.4 181.8 277.3 181.3 277.5 180.8 277.7 180.3 277.8 179.8 279.2 179.3 278.5 178.8 279.2 178.3 277.7 177.8 277.6 177.3 277.5 176.8 279.9 176.3 277.4 175.8 277.7 175.3 278.3 174.8 277.5 174.3 278.3 173.8 277.7 173.3 278.2 172.8 277.9 172.3 278 171.8 277.5 171.3 278 170.8 278.8 170.3 278.6 169.8 278.2 169.3 277.4 168.8 278.7 168.3 278 167.8 277.4 167.3 278.3 166.8 277.8 166.3 278.1 165.8 278.6 165.3 277.8 164.8 277.2 164.3 279.3 163.8 278.9 163.3 278.8 162.8 278.8 162.3 277.3 161.8 277.8 161.3 277.5 160.8 279.9 160.3 278.3 159.8 277.9 159.3 277.5 158.8 278.3 158.3 280.9 157.8 277.6 157.3 278.1 156.8 278.9 156.3 277.8 155.8 277.7 155.3 277.6 154.8 277.3 154.3 277.8 153.8 278.3 153.3 279.3 152.8 280.2 152.3 277.3 151.8 277.9 151.3 280.9 150.8 279.2 150.3 278.2 149.8 277.3 149.3 277.6 148.8 279.3 148.3 277.3 147.8 278.4 147.3 278.3 146.8 278.3 146.3 277.6 145.8 277.7 145.3 278.7 144.8 277.9 144.3 279.3 143.8 277.6 143.3 280 142.8 277.6 142.3 278.1 141.8 279.3 141.3 277.6 140.8 278 140.3 278.7 139.8 277.6 139.3 279 138.8 278.3 138.3 277.6 137.8 277.3 137.3 277.5 136.8 277.2 136.3 278.1 135.8 277.7 135.3 277.4 134.8 278.7 134.3 278.8 133.8 277.9 133.3 277.3 132.8 278.8 132.3 277.5 131.8 278.1 131.3 279 130.8 278.8 130.3 278.4 129.8 278.1 129.3 277.8 128.8 278.3 128.3 277.9 127.8 278.8 127.3 282.1 126.8 277.6 126.3 277.5 125.8 277.6 125.3 277.6 124.8 278.1 124.3 278 123.8 277.8 123.3 278.9 122.8 278.3 122.3 278 121.8 278.2 121.3 277.3 120.8 277.3 120.3 278.9 119.8 277.4 119.3 277.6 118.8 278.3 118.3 279.7 117.8 278.2 117.3 278.2 116.8 277.8 116.3 277.8 115.8 277.2 115.3 277.5 114.8 277.6 114.3 277.3 113.8 278 113.3 278.7 112.8 278.2 112.3 278.9 111.8 279 111.3 278.4 110.8 277.2 110.3 278.5 109.8 277.2 109.3 279.9 108.8 279 108.3 278.4 107.8 277.7 107.3 278.1 106.8 277.3 106.3 277.5 105.8 277.9 105.3 278 104.8 278.2 104.3 277.4 103.8 277.6 103.3 277.5 102.8 277.7 102.3 278.6 101.8 278.8 101.3 279.2 100.8 277.8 100.3 277.5 99.8 277.5 99.3 277.4 98.8 279.7 98.3 277.5 97.8 277.9 97.3 277.4 96.8 277.8 96.3 278.5 95.8 278.3 95.3 278.1 94.8 277.5 94.3 277.5 93.8 277.4 93.3 280 92.8 280.4 92.3 277.6 91.8 278.1 91.3 277.4 90.8 277.7 90.3 277.6 89.8 278.3 89.3 277.8 88.8 279.7 88.3 278.8 87.8 277.9 87.3 277.8 86.8 279 86.3 279.5 85.8 277.7 85.3 278.6 84.8 278.1 84.3 277.8 83.8 278.3 83.3 277.7 82.8 278.3 82.3 277.5 81.8 278 81.3 277.5 80.8 280.6 80.3 278.6 79.8 278.4 79.3 278.3 78.8 277.4 78.3 279.2 77.8 278.7 77.3 277.3 76.8 279.9 76.3 277.6 75.8 278.6 75.3 278.7 74.8 280.1 74.3 278.4 73.8 277.2 73.3 277.9 72.8 277.2 72.3 278.5 71.8 278.2 71.3 277.6 70.8 278.6 70.3 277.9 69.8 281.1 69.3 277.6 68.8 277.4 68.3 279 67.8 278.2 67.3 278.4 66.8 277.7 66.3 277.2 65.8 277.8 65.3 278.2 64.8 278 64.3 278.5 63.8 277.8 63.3 278.4 62.8 278.1 62.3 278.2 61.8 277.8 61.3 277.3 60.8 278.7 60.3 278 59.8 277.3 59.3 278.1 58.8 277.9 58.3 278.4 57.8 278.3 57.3 278.2 56.8 277.3 56.3 277.3 55.8 278.6 55.3 277.2 54.8 277.9 54.3 278.4 53.8 277.7 53.3 277.4 52.8 277.7 52.3 277.2 51.8 277.5 51.3 277.7 50.8 277.8 50.3 277.6 49.8 278.5 49.3 278.4 48.8 277.8 48.3 278 47.8 278.2 47.3 278 46.8 278.4 46.3 277.5 45.8 278.6 45.3 277.9 44.8 277.8 44.3 280.3 43.8 278 43.3 279.6 42.8 279.4 42.3 277.7 41.8 277.9 41.3 277.4 40.8 278.2 40.3 277.8 39.8 278 39.3 279.3 38.8 278.4 38.3 277.3 37.8 277.2 37.3 277.3 36.8 280.7 36.3 278.4 35.8 278.4 35.3 278.7 34.8 277.6 34.3 277.6 33.8 277.6 33.3 278.8 32.8 280.2 32.3 278.4 31.8 277.6 31.3 278.7 30.8 277.6 30.3 277.5 29.8 278.1 29.3 278.5 28.8 278.3 28.3 277.7 27.8 277.7 27.3 277.5 26.8 279 26.3 277.7 25.8 279.5 25.3 278.9 24.8 277.5 24.3 279.1 23.8 277.7 23.3 278.4 22.8 277.2 22.3 278.1 21.8 278.2 21.3 277.2 20.8 279.9 20.3 277.3 19.8 278.2Z" fill="#f06a6a"/>
<path d="M19.8 98.4 20.3 97.3 20.8 98.3 21.3 98.4 21.8 97.2 22.3 98 22.8 96.6 23.3 97.3 23.8 97.4 24.3 97.3 24.8 96.9 25.3 98.1 25.8 97.3 26.3 98.1 26.8 97.3 27.3 98.4 27.8 98 28.3 97.9 28.8 96.4 29.3 95.8 29.8 98 30.3 97.7 30.8 98 31.3 96.5 31.8 97.7 32.3 98 32.8 98.1 33.3 98.2 33.8 98.1 34.3 95.3 34.8 97.9 35.3 97.7 35.8 97.7 36.3 97.5 36.8 97.4 37.3 96.4 37.8 98.2 38.3 95.4 38.8 98.2 39.3 98.1 39.8 94.5 40.3 98 40.8 97.3 41.3 96.1 41.8 97.3 42.3 97 42.8 97.1 43.3 97 43.8 97.9 44.3 97.6 44.8 95.4 45.3 97.5 45.8 93.9 46.3 95 46.8 94.7 47.3 97.9 47.8 97.5 48.3 94.6 48.8 97.8 49.3 97.4 49.8 95.6 50.3 97.4 50.8 97.6 51.3 97.2 51.8 97.6 52.3 95.4 52.8 98.2 53.3 98.2 53.8 97.1 54.3 97.9 54.8 97.2 55.3 97.6 55.8 96.7 56.3 95.4 56.8 97.5 57.3 97.1 57.8 97.5 58.3 98.1 58.8 98 59.3 94.9 59.8 94.3 60.3 97.1 60.8 97.3 61.3 96.2 61.8 98.2 62.3 96.4 62.8 93.1 63.3 98.3 63.8 97.9 64.3 98 64.8 97.7 65.3 98.1 65.8 97.6 66.3 96.6 66.8 97.8 67.3 98 67.8 97.1 68.3 98 68.8 97.7 69.3 96.2 69.8 98.1 70.3 95.6 70.8 98.2 71.3 97.3 71.8 97.7 72.3 98 72.8 95.7 73.3 97.3 73.8 94.2 74.3 96.8 74.8 95.8 75.3 97.8 75.8 94.8 76.3 98.1 76.8 98 77.3 98 77.8 97.7 78.3 97.9 78.8 97.2 79.3 95.4 79.8 97.9 80.3 97.7 80.8 97.8 81.3 97 81.8 97.4 82.3 94.9 82.8 98 83.3 97.1 83.8 97.2 84.3 97.6 84.8 96.7 85.3 97.7 85.8 97.7 86.3 97.2 86.8 97.2 87.3 97.6 87.8 96.7 88.3 97.5 88.8 96.6 89.3 96.3 89.8 97.7 90.3 97.7 90.8 97 91.3 97.3 91.8 96.8 92.3 96.1 92.8 97.2 93.3 98 93.8 97.9 94.3 97.2 94.8 97.3 95.3 96.4 95.8 94.5 96.3 96.5 96.8 97.7 97.3 97.2 97.8 96.8 98.3 97.4 98.8 97.5 99.3 97.4 99.8 96.2 100.3 97.9 100.8 97.9 101.3 96.9 101.8 94.9 102.3 97.5 102.8 98 103.3 97.4 103.8 96.2 104.3 97 104.8 96.9 105.3 94.9 105.8 97.9 106.3 97 106.8 97.3 107.3 97.7 107.8 97.3 108.3 97.4 108.8 94.1 109.3 96.8 109.8 97.7 110.3 96.3 110.8 96.4 111.3 94.1 111.8 97.7 112.3 97.6 112.8 94 113.3 97.2 113.8 95.9 114.3 97.3 114.8 95.6 115.3 97.7 115.8 97.7 116.3 96.1 116.8 96.5 117.3 96.2 117.8 97.7 118.3 97.5 118.8 94.6 119.3 97.8 119.8 96.9 120.3 93.7 120.8 97.2 121.3 96.5 121.8 97.4 122.3 97.8 122.8 96.8 123.3 97.2 123.8 97.7 124.3 96.5 124.8 97.7 125.3 97.2 125.8 97.1 126.3 96.1 126.8 94.1 127.3 97.4 127.8 96.7 128.3 97.2 128.8 95.4 129.3 93.7 129.8 96.6 130.3 97.6 130.8 97.4 131.3 96.3 131.8 96.4 132.3 92.4 132.8 97.6 133.3 97.7 133.8 93.9 134.3 96.5 134.8 97.4 135.3 97.1 135.8 97.6 136.3 97.3 136.8 96.5 137.3 96.6 137.8 97.2 138.3 97.1 138.8 95.2 139.3 94.3 139.8 96.5 140.3 96.2 140.8 96.8 141.3 95.4 141.8 96.9 142.3 97.2 142.8 96.9 143.3 96.7 143.8 95.4 144.3 95.9 144.8 97 145.3 96.1 145.8 96.9 146.3 97.4 146.8 96.5 147.3 95.1 147.8 97.5 148.3 96.2 148.8 96.6 149.3 97.6 149.8 94.3 150.3 97.2 150.8 95.2 151.3 97.4 151.8 96.7 152.3 97.4 152.8 97.2 153.3 96.9 153.8 95.9 154.3 97 154.8 97.1 155.3 96.5 155.8 97.5 156.3 96.2 156.8 95.8 157.3 96.7 157.8 94.6 158.3 97.3 158.8 97.2 159.3 97 159.8 96.7 160.3 97.3 160.8 97.1 161.3 96.9 161.8 94.8 162.3 96.5 162.8 96.8 163.3 95.8 163.8 96.5 164.3 97.1 164.8 95.7 165.3 96.9 165.8 97.3 166.3 96.9 166.8 97.3 167.3 95.8 167.8 97.2 168.3 96.5 168.8 96.5 169.3 96.9 169.8 96.2 170.3 97.2 170.8 96.1 171.3 96.9 171.8 94.8 172.3 97.3 172.8 97.2 173.3 97 173.8 96.6 174.3 96.3 174.8 96.6 175.3 96.9 175.8 95.7 176.3 97.1 176.8 96.4 177.3 96.5 177.8 96.6 178.3 95.2 178.8 97.1 179.3 93.9 179.8 97.1 180.3 96.4 180.8 94.6 181.3 96.9 181.8 96.8 182.3 94.8 182.8 97 183.3 96.9 183.8 94.4 184.3 97.1 184.8 94.2 185.3 96.4 185.8 95.6 186.3 96.8 186.8 95.5 187.3 97 187.8 93.8 188.3 96.1 188.8 96.8 189.3 96.6 189.8 96.9 190.3 97 190.8 95.9 191.3 95.9 191.8 96 192.3 96.5 192.8 96 193.3 96.3 193.8 97 194.3 96.7 194.8 96.1 195.3 96.3 195.8 96.1 196.3 96.9 196.8 96.7 197.3 96.1 197.8 94.1 198.3 96.3 198.8 96.8 199.3 94.7 199.8 92.8 200.3 93.5 200.8 96.7 201.3 95.6 201.8 96.4 202.3 93.9 202.8 93.7 203.3 96.4 203.8 96.2 204.3 96.3 204.8 96.7 205.3 96.1 205.8 94.8 206.3 96.3 206.8 96.7 207.3 96.4 207.8 95.9 208.3 96.4 208.8 96.7 209.3 92.6 209.8 96.4 210.3 95.6 210.8 94.8 211.3 95.5 211.8 93.7 212.3 95.2 212.8 95.4 213.3 96.5 213.8 96.4 214.3 95 214.8 95.9 215.3 95 215.8 96.2 216.3 92.9 216.8 95 217.3 95.7 217.8 93.6 218.3 96.6 218.8 94.9 219.3 96.6 219.8 96.4 220.3 96.5 220.8 96.3 221.3 93.3 221.8 95 222.3 95.6 222.8 95.8 223.3 96 223.8 94.2 224.3 95.9 224.8 93.1 225.3 95.6 225.8 96.4 226.3 95.2 226.8 93.1 227.3 96.2 227.8 95.4 228.3 96.3 228.8 96.3 229.3 94.9 229.8 94.9 230.3 94.6 230.8 95.4 231.3 95.7 231.8 96.1 232.3 95.8 232.8 95.1 233.3 95.5 233.8 94.7 234.3 96 234.8 95.5 235.3 96.1 235.8 92.7 236.3 96.2 236.8 93.8 237.3 93.1 237.8 91.7 238.3 93.2 238.8 93 239.3 95.7 239.8 95.1 240.3 93 240.8 95.9 241.3 94.3 241.8 94.8 242.3 95 242.8 95.4 243.3 95.9 243.8 94.3 244.3 94.4 244.8 95.3 245.3 95.3 245.8 95.8 246.3 95.1 246.8 95.3 247.3 95.1 247.8 94.7 248.3 95.1 248.8 95.8 249.3 94.1 249.8 95.6 250.3 95.4 250.8 94.6 251.3 95.7 251.8 93.6 252.3 95.4 252.8 94.8 253.3 94 253.8 92.4 254.3 95.7 254.8 92.2 255.3 95.8 255.8 94.9 256.3 94 256.8 95.7 257.3 95.7 257.8 93.5 258.3 94.7 258.8 93.6 259.3 95.1 259.8 95.9 260.3 91.9 260.8 94.4 261.3 94.3 261.8 94 262.3 95 262.8 95.6 263.3 95.2 263.8 94.8 264.3 95.2 264.8 95.6 265.3 93 265.8 94.2 266.3 95.3 266.8 93.2 267.3 92.5 267.8 95.3 268.3 94.1 268.8 95.8 269.3 95.1 269.8 95.6 270.3 93.5 270.8 92.2 271.3 95.7 271.8 95 272.3 94.8 272.8 94.4 273.3 94.7 273.8 95.5 274.3 92.6 274.8 94 275.3 95.2 275.8 93.5 276.3 91.9 276.8 92.9 277.3 94.3 277.8 94.3 278.3 93.4 278.8 91.5 279.3 93.7 279.8 93.6 280.3 93.4 280.8 92.8 281.3 93.3 281.8 91.5 282.3 93.6 282.8 91.5 283.3 93.2 283.8 91.6 284.3 92.3 284.8 91.9 285.3 91 285.8 91.8 286.3 91.7 286.8 91.5 287.3 89 287.8 90.6 288.3 91.1 288.8 90 289.3 90.6 289.8 89.8 290.3 89.6 290.8 89.7 291.3 89.4 291.8 87.9 292.3 88.7 292.8 88.4 293.3 86.3 293.8 88.5 294.3 87.2 294.8 86.3 295.3 87.6 295.8 86.9 296.3 86.9 296.8 85.2 297.3 85.2 297.8 84.8 298.3 83.6 298.8 82.6 299.3 83.5 299.8 81.4 300.3 83.6 300.8 83.3 301.3 83.1 301.8 81.4 302.3 81.1 302.8 80.9 303.3 80.2 303.8 80.4 304.3 80.3 304.8 78.7 305.3 77 305.8 77.6 306.3 73.7 306.8 76.5 307.3 76.2 307.8 76.2 308.3 74.5 308.8 75 309.3 74.4 309.8 74.2 310.3 71.9 310.8 72.3 311.3 71.5 311.8 71.9 312.3 71.8 312.8 69.3 313.3 70.5 313.8 67.3 314.3 68.3 314.8 68.7 315.3 67.4 315.8 66.6 316.3 64.9 316.8 66.6 317.3 65.3 317.8 65.5 318.3 61.7 318.8 63.3 319.3 62 319.8 63 320.3 61.6 320.8 60.7 321.3 60 321.8 61.1 322.3 60.5 322.8 59.5 323.3 55.7 323.8 57.4 324.3 55.7 324.8 58.3 325.3 57.2 325.8 53.1 326.3 56.1 326.8 56.8 327.3 53.3 327.8 54.7 328.3 54.8 328.8 55.5 329.3 54.1 329.8 53 330.3 52.1 330.8 50.6 331.3 53.4 331.8 53.2 332.3 53.2 332.8 51.5 333.3 52.4 333.8 51.5 334.3 50 334.8 50.6 335.3 50 335.8 50.6 336.3 49.2 336.8 48.8 337.3 49.3 337.8 47.4 338.3 48.2 338.8 47.7 339.3 44.6 339.8 46 340.3 46.7 340.8 45.7 341.3 45.4 341.8 46 342.3 45.5 342.8 42.2 343.3 43.6 343.8 43.7 344.3 42.9 344.8 43 345.3 43.8 345.8 42 346.3 42.9 346.8 41.6 347.3 41.6 347.8 41.4 348.3 41 348.8 41 349.3 42.4 349.8 41.8 350.3 41.5 350.8 41.2 351.3 40.9 351.8 41.6 352.3 38.2 352.8 41.2 353.3 40.1 353.8 39.8 354.3 41.2 354.8 38.8 355.3 41.4 355.8 39.2 356.3 41.1 356.8 38.4 357.3 40.3 357.8 40.3 358.3 41.1 358.8 39 359.3 38.8 359.8 40.7 360.3 40 360.8 40.9 361.3 40.5 361.8 38.3 362.3 40 362.8 40 363.3 40.4 363.8 40.5 364.3 40.9 364.8 39.7 365.3 40.2 365.8 40.2 366.3 40.5 366.8 40.2 367.3 40.7 367.8 37 368.3 37.8 368.8 39.7 369.3 40.7 369.8 38.1 370.3 40.1 370.8 40.7 371.3 39.1 371.8 38.9 372.3 40.8 372.8 40.1 373.3 40.8 373.8 38.9 374.3 40.5 374.8 40.2 375.3 40.6 375.8 39.9 376.3 39.9 376.8 41 377.3 39.9 377.8 37.8 378.3 40.3 378.8 39.5 379.3 37.8 379.8 37.5 380.3 38.5 380.8 40.5 381.3 38.8 381.8 40.3 382.3 36.8 382.8 39.8 383.3 39.7 383.8 40.8 384.3 37.8 384.8 38.3 385.3 38 385.8 39.1 386.3 38.8 386.8 40.2 387.3 41 387.8 40.9 388.3 39.6 388.8 40.9 389.3 40.6 389.8 39.1 390.3 40.8 390.8 40.1 391.3 40.7 391.8 40.5 392.3 40.3 392.8 40.6 393.3 38.9 393.8 38.2 394.3 39.3 394.8 40.5 395.3 39.8 395.8 40.6 396.3 39.2 396.8 40.4 397.3 38.3 397.8 39.5 398.3 40.3 398.8 40.3 399.3 37.4 399.8 40 400.3 41 400.8 40.1 401.3 39.8 401.8 40.5 402.3 38.3 402.8 38.9 403.3 38.1 403.8 39.7 404.3 36.6 404.8 37.8 405.3 40.2 405.8 40.8 406.3 40.6 406.8 38.4 407.3 40.6 407.8 40.6 408.3 39.9 408.8 40.5 409.3 41 409.8 39.8 410.3 40.2 410.8 40.5 411.3 40.7 411.8 37.7 412.3 40.7 412.8 40.1 413.3 38.6 413.8 40.6 414.3 40 414.8 39.9 415.3 40.7 415.8 38.4 416.3 40 416.8 37.7 417.3 40.2 417.8 40.5 418.3 40.7 418.8 40.5 419.3 40.6 419.8 40.6 420.3 39.2 420.8 40 421.3 40.6 421.8 39.2 422.3 40.2 422.8 40.9 423.3 40.6 423.8 40 424.3 38.4 424.8 40.1 425.3 40.6 425.8 38.6 426.3 39.4 426.8 40.3 427.3 40.9 427.8 40.7 428.3 38.7 428.8 39.7 429.3 41 429.8 40.7 430.3 39.5 430.8 38.9 431.3 40.9 431.8 40.8 432.3 40.5 432.8 40.2 433.3 40.6 433.8 37.8 434.3 40.8 434.8 40 435.3 38.7 435.8 38.5 436.3 38.9 436.8 39.8 437.3 37.9 437.8 40.8 438.3 39.7 438.8 40.5 439.3 40.7 439.8 37.5 440.3 39 440.8 40.2 441.3 40.2 441.8 40.8 442.3 40.2 442.8 40.5 443.3 40.9 443.8 38.9 444.3 41 444.8 41 445.3 39.4 445.8 36 446.3 40.9 446.8 40.7 447.3 40.6 447.8 39.7 448.3 40.3 448.8 39.4 449.3 40.9 449.8 38.4 450.3 40.3 450.8 39.9 451.3 40.1 451.8 40.5 452.3 39.9 452.8 39.7 453.3 38.5 453.8 40.6 454.3 40.1 454.8 40.8 455.3 37 455.8 40.4 456.3 40 456.8 39.2 457.3 38.9 457.8 38.1 458.3 40.7 458.8 40.5 459.3 39.7 459.8 38.6 460.3 40.6 460.8 39.7 461.3 39.8 461.8 38.1 462.3 38.7 462.8 41 463.3 40.2 463.8 40.3 464.3 40.3 464.8 39.6 465.3 39.9 465.8 39.7 466.3 37 466.8 40.2 467.3 39.6 467.8 40.4 468.3 40.8 468.8 39.7 469.3 38.6 469.8 39.6 470.3 40.4 470.8 39 471.3 40.5 471.8 39.8 472.3 36.5 472.8 40.4 473.3 40.9 473.8 40.1 474.3 38.7 474.8 40.7 475.3 40.2 475.8 40.8 476.3 40.7 476.8 39.6 477.3 40.6 477.8 40.5 478.3 40.3 478.8 40 479.3 40.7 479.8 39.9 480.3 37.4 480.8 37.8 481.3 38.5 481.8 40 482.3 40.8 482.8 38.2 483.3 39.9 483.8 38.6 484.3 40.3 484.8 39.8 485.3 40.8 485.8 36.8 486.3 40.3 486.8 38.8 487.3 38.9 487.8 40.3 488.3 40.2 488.8 40.8 489.3 40.3 489.8 40.2 490.3 37.4 490.8 38.7 491.3 40.3 491.8 40.7 492.3 40.9 492.8 39.7 493.3 39.9 493.8 37.3 494.3 41 494.8 40.2 495.3 40.3 495.8 40.2 496.3 40.4 496.8 38.5 497.3 38.1 497.8 39.2 498.3 40 498.8 40.7 499.3 40.6 499.8 40.7 500.3 40.5 500.8 39.8 501.3 39.1 501.8 39.2 502.3 40.8 502.8 39.9 503.3 39.6 503.8 40.3 504.3 37.3 504.8 37.5 505.3 40.4 505.8 40.4 506.3 40.8 506.8 37.6 507.3 40.7 507.8 40.6 508.3 40.8 508.8 40.6 509.3 40.8 509.8 41 510.3 40.5 510.8 40.4 511.3 39.8 511.8 38.1 512.3 38.9 512.8 40.9 513.3 36.7 513.8 41 514.3 40.2 514.8 40.4 515.3 40.7 515.8 40.1 516.3 39 516.8 41 517.3 40.5 517.8 40.5 518.3 40.8 518.8 40.2 519.3 37.7 519.8 38.9 520.3 37.8 520.8 37.9 521.3 38.6 521.8 39.4 522.3 40.9 522.8 38.1 523.3 39.9 523.8 40.1 524.3 40.1 524.8 40.7 525.3 38.1 525.8 41 526.3 40.1 526.8 39.7 527.3 40.8 527.8 40.2 528.3 37.9 528.8 40.2 529.3 40.4 529.8 40.2 530.3 37.2 530.8 38 531.3 40.4 531.8 40.8 532.3 38 532.8 40.4 533.3 40.6 533.8 40.3 534.3 40.2 534.8 40.2 535.3 39 535.8 40.7 536.3 39.8 536.8 37.9 537.3 40.8 537.8 40.9 538.3 37.1 538.8 39.7 539.3 40.7 539.8 39.8 540.3 40.6 540.8 40 541.3 39.9 541.8 40.4 542.3 40.6 542.8 40.6 543.3 40.2 543.8 41 544.3 40.7 544.8 40.5 545.3 40.3 545.8 39.7 546.3 40.9 546.8 40.3 547.3 40.2 547.8 40 548.3 38.5 548.8 38.8 549.3 38.5 549.8 39.8 550.3 40.4 550.8 40.6 551.3 40.8 551.8 40.2 552.3 39.9 552.8 40 553.3 40.1 553.8 39.8 554.3 39.9 554.8 40.9 555.3 37.6 555.8 40.9 556.3 40 556.8 41 557.3 40.2 557.8 40 558.3 40.9 558.8 38.7 559.3 39.2 559.8 39.4 560.3 39.7 560.8 39.4 561.3 37.9 561.8 40.1 562.3 37 562.8 39.6 563.3 38.8 563.8 37.5 564.3 40.4 564.8 40.9 565.3 40.7 565.8 40.9 566.3 40.3 566.8 40.3 567.3 40 567.8 40.5 568.3 40.5 568.8 41 569.3 40.3 569.8 38.3 570.3 39.4 570.8 40.8 571.3 40.9 571.8 39.9 572.3 40.2 572.8 39.8 573.3 40.5 573.8 40.5 574.3 41 574.8 41 575.3 40.2 575.8 40.1 576.3 40.8 576.8 38.3 577.3 37.5 577.8 40.8 578.3 38.1 578.8 40 579.3 40.1 579.8 40.1 580.3 39.7 580.8 40.3 581.3 39.8 581.8 38 582.3 40.2 582.8 40.1 583.3 39.3 583.8 40.7 584.3 40 584.8 40.2 585.3 40.2 585.8 39.2 586.3 38.6 586.8 39.7 587.3 40.7 587.8 40.1 588.3 40.7 588.8 37.3 589.3 38.7 589.8 40.3 590.3 40.2 590.8 40.3 591.3 40.6 591.8 39.3 592.3 40.9 592.8 38.7 593.3 40.8 593.8 39.8 594.3 38.8 594.8 38.5 595.3 38.1 595.8 37.6 596.3 40.5 596.8 38.5 597.3 40.7 597.8 36.5 598.3 40.8 598.8 40.8 599.3 39.5 599.8 39.9 600.3 39.7 600.8 41 601.3 39.6 601.8 40.8 602.3 39.9 602.8 40 603.3 40.5 603.8 40.5 604.3 40.2 604.8 40.6 605.3 38.9 605.8 40.5 606.3 39.5 606.8 38.1 607.3 39.4 607.8 41 608.3 39.4 608.8 40.2 609.3 40.1 609.8 38.3 610.3 39.5 610.8 39.4 611.3 36.7 611.8 40.4 612.3 39.1 612.8 40.6 613.3 40.6 613.8 40.6 614.3 41 614.8 39.4 615.3 40.9 615.8 39.8 616.3 40.8 616.8 40 617.3 39 617.8 40.8 618.3 39.9 618.8 40.7 619.3 36.7 619.8 40.9 620.3 37.8 620.8 40.6 621.3 40.8 621.8 41 622.3 40.6 622.8 40.9 623.3 38.6 623.8 40.9 624.3 38.3 624.8 39.6 625.3 40.8 625.8 40.9 626.3 40.6 626.8 40.9 627.3 40.8 627.8 41 628.3 41 628.8 40.8 629.3 40.9 629.8 40 630.3 40.5 630.8 37.4 631.3 40.8 631.8 40.4 632.3 40.7 632.8 37.2 633.3 39.6 633.8 37.1 634.3 39.8 634.8 39.2 635.3 41 635.8 40.5 636.3 41 L636.3 46.3 635.8 46.8 635.3 46.9 634.8 46.4 634.3 46.2 633.8 46 633.3 46.2 632.8 48.2 632.3 46.4 631.8 47.3 631.3 48.6 630.8 46.3 630.3 46.4 629.8 46.5 629.3 46.4 628.8 48.7 628.3 47.3 627.8 46.1 627.3 46.3 626.8 46.2 626.3 46.5 625.8 46.9 625.3 46.2 624.8 49.1 624.3 46.7 623.8 46.1 623.3 47.5 622.8 47.6 622.3 47.1 621.8 49.8 621.3 47.3 620.8 46.6 620.3 48.9 619.8 46.3 619.3 46.2 618.8 46 618.3 46.9 617.8 46.4 617.3 46.6 616.8 46.2 616.3 46.7 615.8 48.3 615.3 47 614.8 46.4 614.3 49.1 613.8 46.1 613.3 47.3 612.8 48.5 612.3 46.7 611.8 47.6 611.3 49.5 610.8 47.2 610.3 46.1 609.8 46.7 609.3 48.8 608.8 46.3 608.3 47.2 607.8 46.4 607.3 49.2 606.8 46.5 606.3 46.6 605.8 46.5 605.3 47.9 604.8 49.4 604.3 46.2 603.8 50.1 603.3 48 602.8 48.5 602.3 48.5 601.8 46.9 601.3 46.6 600.8 47.1 600.3 48.3 599.8 49.4 599.3 46.5 598.8 46.8 598.3 46.8 597.8 50.3 597.3 46.6 596.8 47.4 596.3 46.1 595.8 46.6 595.3 46.2 594.8 46.7 594.3 48.1 593.8 47 593.3 47 592.8 48 592.3 47.3 591.8 46.7 591.3 46 590.8 46.8 590.3 48.5 589.8 46.7 589.3 46.7 588.8 46.6 588.3 46.8 587.8 46.2 587.3 51 586.8 47.7 586.3 46.5 585.8 46 585.3 48.3 584.8 46.7 584.3 46.7 583.8 46.3 583.3 46.4 582.8 46.8 582.3 46.2 581.8 46 581.3 46.5 580.8 48.3 580.3 46.3 579.8 46.7 579.3 46.4 578.8 46.5 578.3 47.2 577.8 46 577.3 48.4 576.8 46.6 576.3 46.9 575.8 50.4 575.3 46.7 574.8 46.2 574.3 47.8 573.8 47.1 573.3 46.5 572.8 47.6 572.3 46.6 571.8 47.3 571.3 47.4 570.8 47 570.3 46.2 569.8 46.4 569.3 46.8 568.8 46.5 568.3 49.2 567.8 46.1 567.3 47.9 566.8 48.9 566.3 46.1 565.8 48 565.3 50.7 564.8 47 564.3 48.7 563.8 46.8 563.3 46.6 562.8 46.3 562.3 46.7 561.8 46.2 561.3 46.4 560.8 47.1 560.3 46.2 559.8 47.4 559.3 47.3 558.8 46.8 558.3 46.8 557.8 49.8 557.3 46.9 556.8 46.3 556.3 46.1 555.8 49.7 555.3 46.2 554.8 46.2 554.3 46.3 553.8 47.6 553.3 46.6 552.8 47.2 552.3 47.5 551.8 47.1 551.3 47.1 550.8 46.9 550.3 46.6 549.8 46.1 549.3 50.7 548.8 47.2 548.3 46.1 547.8 49.4 547.3 46.1 546.8 46.1 546.3 48.9 545.8 46.5 545.3 47.7 544.8 50.6 544.3 46.6 543.8 47.9 543.3 47.3 542.8 47.9 542.3 46.4 541.8 46.9 541.3 46.3 540.8 49.6 540.3 46.1 539.8 46.9 539.3 46.1 538.8 47.2 538.3 46.9 537.8 47.7 537.3 46.2 536.8 47 536.3 47.2 535.8 47.7 535.3 46.7 534.8 47.8 534.3 46.3 533.8 46.1 533.3 46.3 532.8 46.1 532.3 46.3 531.8 46.6 531.3 46.5 530.8 46.2 530.3 46.3 529.8 47.9 529.3 49.4 528.8 47.8 528.3 47 527.8 46.6 527.3 46.1 526.8 49.2 526.3 46.4 525.8 49.2 525.3 46.5 524.8 46.2 524.3 46.7 523.8 48.9 523.3 46.1 522.8 48.9 522.3 46.5 521.8 47.1 521.3 46.3 520.8 48.3 520.3 49.1 519.8 46.5 519.3 47.2 518.8 46.1 518.3 49.1 517.8 49.6 517.3 49.1 516.8 46.8 516.3 48.2 515.8 47.9 515.3 47 514.8 47.5 514.3 46 513.8 46.2 513.3 46.8 512.8 46.2 512.3 49.1 511.8 47.6 511.3 48 510.8 47.2 510.3 47.2 509.8 46.5 509.3 47.3 508.8 46.4 508.3 47.8 507.8 46.5 507.3 46.6 506.8 46.3 506.3 46.3 505.8 49.6 505.3 47.3 504.8 46.2 504.3 46.4 503.8 46 503.3 47 502.8 47.9 502.3 47.7 501.8 46.3 501.3 48 500.8 46 500.3 50.7 499.8 47.2 499.3 49.6 498.8 46.3 498.3 46.5 497.8 47.3 497.3 48.1 496.8 46.7 496.3 46.7 495.8 47.8 495.3 46.8 494.8 47.3 494.3 46.8 493.8 49.5 493.3 47.4 492.8 47 492.3 48.5 491.8 48.7 491.3 50.1 490.8 46 490.3 47.7 489.8 47.5 489.3 46.7 488.8 46.7 488.3 49.5 487.8 46.2 487.3 48.6 486.8 46.1 486.3 47.3 485.8 46.2 485.3 47.4 484.8 46.6 484.3 46.4 483.8 46.4 483.3 47.5 482.8 46.9 482.3 47.7 481.8 46.9 481.3 49.5 480.8 50.4 480.3 47.1 479.8 50 479.3 46.4 478.8 46.9 478.3 46.5 477.8 46.8 477.3 46 476.8 49.3 476.3 48.2 475.8 46.5 475.3 46.2 474.8 46.2 474.3 47 473.8 47.5 473.3 46.1 472.8 47.5 472.3 46.5 471.8 48.7 471.3 47 470.8 46.3 470.3 46.8 469.8 46.3 469.3 46.3 468.8 46.3 468.3 48.1 467.8 50 467.3 47.7 466.8 46.2 466.3 47.1 465.8 46.5 465.3 46.7 464.8 46.7 464.3 46.8 463.8 46.6 463.3 46.6 462.8 46.5 462.3 46.7 461.8 48.5 461.3 47 460.8 46.8 460.3 46.4 459.8 46.6 459.3 48.1 458.8 46.2 458.3 48 457.8 47.6 457.3 46.1 456.8 46.5 456.3 46.8 455.8 49.9 455.3 47.8 454.8 49.9 454.3 46.8 453.8 46.9 453.3 47.4 452.8 46.6 452.3 46.2 451.8 46.1 451.3 46.1 450.8 47 450.3 48 449.8 46.1 449.3 46.5 448.8 47 448.3 46.9 447.8 46.3 447.3 47.7 446.8 46.3 446.3 48.2 445.8 50 445.3 49.3 444.8 47.4 444.3 46.7 443.8 46.9 443.3 46.7 442.8 46.1 442.3 49.3 441.8 46.2 441.3 46.7 440.8 49.2 440.3 46.2 439.8 46.1 439.3 46.5 438.8 48 438.3 46.2 437.8 47 437.3 47 436.8 48.3 436.3 46.6 435.8 47.1 435.3 47 434.8 47 434.3 46.9 433.8 46.2 433.3 46.4 432.8 46.9 432.3 48.5 431.8 47.3 431.3 47.4 430.8 47.5 430.3 47.8 429.8 46 429.3 46 428.8 46.8 428.3 47.2 427.8 48.9 427.3 46.5 426.8 47.2 426.3 46.7 425.8 47.1 425.3 46.7 424.8 46.2 424.3 46.3 423.8 47.3 423.3 46.2 422.8 47.2 422.3 47.7 421.8 46.4 421.3 47.2 420.8 47 420.3 48.1 419.8 47.9 419.3 48.6 418.8 47.3 418.3 46.4 417.8 47.5 417.3 49.5 416.8 46.7 416.3 47.1 415.8 47 415.3 46.4 414.8 46.1 414.3 46.1 413.8 46.7 413.3 48.8 412.8 46.5 412.3 48.1 411.8 50.5 411.3 46.7 410.8 46.7 410.3 46.7 409.8 46.4 409.3 48.4 408.8 49 408.3 49.9 407.8 48.7 407.3 46.4 406.8 47.2 406.3 49 405.8 46.8 405.3 46.6 404.8 46.6 404.3 46.4 403.8 48.3 403.3 47.5 402.8 46.8 402.3 47.1 401.8 46.4 401.3 47.4 400.8 46.5 400.3 46 399.8 46 399.3 49 398.8 50.6 398.3 46.2 397.8 47.1 397.3 46.8 396.8 46.7 396.3 46.7 395.8 46.6 395.3 46.5 394.8 46.2 394.3 47.2 393.8 46.3 393.3 47.3 392.8 48.3 392.3 46.9 391.8 47.4 391.3 46.3 390.8 47 390.3 46.1 389.8 46.2 389.3 46.6 388.8 47.1 388.3 47 387.8 46.4 387.3 47.2 386.8 46.1 386.3 46 385.8 46.9 385.3 48.6 384.8 47.9 384.3 47.7 383.8 50.4 383.3 46.8 382.8 48.2 382.3 47.5 381.8 46.7 381.3 46.2 380.8 48.3 380.3 46.2 379.8 47.2 379.3 47 378.8 47 378.3 46 377.8 47.8 377.3 47.3 376.8 47.1 376.3 46.9 375.8 49.4 375.3 46.4 374.8 46.4 374.3 47.5 373.8 46.1 373.3 50 372.8 46.4 372.3 46.2 371.8 46.9 371.3 47.6 370.8 46.4 370.3 49.4 369.8 46.1 369.3 47.7 368.8 46.4 368.3 47.2 367.8 46.8 367.3 46.1 366.8 50.4 366.3 46.8 365.8 47.1 365.3 47.4 364.8 46.4 364.3 46.4 363.8 47.6 363.3 47 362.8 47.2 362.3 46.2 361.8 46.5 361.3 46.5 360.8 47.4 360.3 46.8 359.8 49.5 359.3 47.4 358.8 46.5 358.3 47.3 357.8 46.8 357.3 50.4 356.8 47.1 356.3 48.3 355.8 46.7 355.3 49.9 354.8 48.8 354.3 47.8 353.8 48.4 353.3 47.6 352.8 47.3 352.3 48.2 351.8 48 351.3 47.5 350.8 47.9 350.3 49.9 349.8 49.7 349.3 47.9 348.8 48.8 348.3 51.4 347.8 51.3 347.3 52.4 346.8 51 346.3 50 345.8 50.8 345.3 49.4 344.8 50.7 344.3 50.3 343.8 51 343.3 51.1 342.8 51.5 342.3 51.5 341.8 52.6 341.3 55.5 340.8 54.8 340.3 55.3 339.8 54.9 339.3 55.2 338.8 54.4 338.3 56.3 337.8 58.8 337.3 56.4 336.8 56.6 336.3 56.3 335.8 57.9 335.3 57.8 334.8 57.4 334.3 57.6 333.8 57.9 333.3 59.4 332.8 59.2 332.3 59 331.8 59.4 331.3 61 330.8 61.3 330.3 61.3 329.8 61 329.3 63.4 328.8 64.6 328.3 61.8 327.8 62.7 327.3 62.3 326.8 63.6 326.3 64.8 325.8 65 325.3 65 324.8 64.8 324.3 65.7 323.8 68.2 323.3 67.6 322.8 66 322.3 67.4 321.8 67.9 321.3 68.4 320.8 68.8 320.3 69.3 319.8 69.6 319.3 70.5 318.8 73.5 318.3 70.8 317.8 71.6 317.3 72.3 316.8 73 316.3 73.5 315.8 74.1 315.3 74.8 314.8 77.8 314.3 76.9 313.8 76.4 313.3 80.2 312.8 79 312.3 78.8 311.8 78.6 311.3 79.9 310.8 79.7 310.3 79.8 309.8 80.8 309.3 81.6 308.8 82.7 308.3 83.7 307.8 82.8 307.3 83 306.8 83.8 306.3 84.2 305.8 86.7 305.3 86.2 304.8 89.3 304.3 87.3 303.8 87.1 303.3 88.4 302.8 87.7 302.3 92.2 301.8 89 301.3 91.4 300.8 90.5 300.3 89.8 299.8 92.2 299.3 91.2 298.8 93.1 298.3 91.5 297.8 92.2 297.3 92.6 296.8 94.7 296.3 93.7 295.8 94 295.3 93.6 294.8 93.5 294.3 94.3 293.8 94.3 293.3 95.1 292.8 94.7 292.3 95.7 291.8 95.7 291.3 95.4 290.8 98.6 290.3 96.4 289.8 97 289.3 96.5 288.8 96.9 288.3 97.4 287.8 96.9 287.3 97.4 286.8 97.7 286.3 98.8 285.8 98.4 285.3 99.1 284.8 98.7 284.3 102.7 283.8 99.6 283.3 99.1 282.8 102.6 282.3 99.1 281.8 100.9 281.3 99.7 280.8 100 280.3 100.3 279.8 102.7 279.3 101.1 278.8 103 278.3 100.4 277.8 100.6 277.3 100.6 276.8 101.8 276.3 102.1 275.8 101.5 275.3 101 274.8 101 274.3 101.8 273.8 103.2 273.3 101.2 272.8 101.9 272.3 100.8 271.8 103.3 271.3 102.7 270.8 101 270.3 101.1 269.8 101 269.3 102.4 268.8 102.8 268.3 103.2 267.8 105.5 267.3 104.7 266.8 102.5 266.3 101.5 265.8 101 265.3 101.4 264.8 101.7 264.3 101.3 263.8 101.8 263.3 101.7 262.8 102.5 262.3 101.5 261.8 102.1 261.3 102 260.8 101.3 260.3 101.3 259.8 103.1 259.3 102 258.8 101.8 258.3 101.6 257.8 101.6 257.3 101.5 256.8 101.1 256.3 102.8 255.8 101.4 255.3 103.6 254.8 101.2 254.3 101.5 253.8 101.4 253.3 102.5 252.8 103.6 252.3 102.8 251.8 101.3 251.3 101.9 250.8 101.1 250.3 102 249.8 103.3 249.3 102.1 248.8 102 248.3 101.3 247.8 101.5 247.3 103.2 246.8 101.4 246.3 101.8 245.8 101.6 245.3 101.3 244.8 104.3 244.3 101.3 243.8 102.1 243.3 101.2 242.8 101.3 242.3 103.1 241.8 101.2 241.3 101.2 240.8 101.8 240.3 102.5 239.8 105.6 239.3 101.7 238.8 103.4 238.3 101.5 237.8 101.3 237.3 102.7 236.8 102.2 236.3 101.8 235.8 101.3 235.3 101.6 234.8 103.2 234.3 102.2 233.8 102 233.3 102.1 232.8 102.6 232.3 101.4 231.8 101.8 231.3 101.5 230.8 102.5 230.3 102.6 229.8 101.7 229.3 102.1 228.8 102.6 228.3 101.5 227.8 102 227.3 103.3 226.8 101.8 226.3 103.5 225.8 102.5 225.3 101.8 224.8 104.3 224.3 104.7 223.8 101.8 223.3 101.9 222.8 101.9 222.3 103.5 221.8 102.1 221.3 103.4 220.8 103.3 220.3 101.8 219.8 101.7 219.3 101.9 218.8 102.2 218.3 101.8 217.8 101.8 217.3 102.6 216.8 102.5 216.3 103.3 215.8 105.5 215.3 101.8 214.8 103.4 214.3 106 213.8 102.6 213.3 102.9 212.8 102.3 212.3 102.3 211.8 101.8 211.3 105.1 210.8 102.7 210.3 102.2 209.8 104.5 209.3 102.1 208.8 102.2 208.3 103.3 207.8 103 207.3 102.4 206.8 102.5 206.3 103.7 205.8 103.4 205.3 104.2 204.8 102.2 204.3 102.3 203.8 102.9 203.3 102.1 202.8 102.5 202.3 105.3 201.8 103.2 201.3 103.8 200.8 102.3 200.3 106.2 199.8 104.6 199.3 103.6 198.8 103 198.3 103.8 197.8 102.8 197.3 102.8 196.8 103 196.3 102.6 195.8 102.8 195.3 102.5 194.8 103.1 194.3 104 193.8 102.3 193.3 102.3 192.8 103.9 192.3 102.4 191.8 104.2 191.3 102.3 190.8 102.2 190.3 103 189.8 103.6 189.3 105 188.8 105.8 188.3 104.5 187.8 102.3 187.3 103 186.8 102.6 186.3 103 185.8 102.8 185.3 103 184.8 104.8 184.3 104 183.8 103.4 183.3 103.2 182.8 102.3 182.3 102.5 181.8 102.9 181.3 102.7 180.8 103.4 180.3 105.6 179.8 103 179.3 103.3 178.8 102.4 178.3 103.1 177.8 103.7 177.3 103.8 176.8 106 176.3 102.5 175.8 103 175.3 102.6 174.8 102.9 174.3 102.4 173.8 103.3 173.3 103.8 172.8 102.6 172.3 104.6 171.8 102.6 171.3 103.4 170.8 104.2 170.3 102.8 169.8 102.4 169.3 103.6 168.8 104.8 168.3 106.3 167.8 103.5 167.3 102.4 166.8 102.8 166.3 103.8 165.8 104.3 165.3 102.7 164.8 103.5 164.3 105.4 163.8 103.1 163.3 103.5 162.8 105.5 162.3 103.6 161.8 103.7 161.3 102.5 160.8 103.8 160.3 102.9 159.8 104.9 159.3 102.7 158.8 102.9 158.3 105.8 157.8 103.8 157.3 102.6 156.8 106.4 156.3 104.2 155.8 107 155.3 103.4 154.8 103.5 154.3 104.3 153.8 102.8 153.3 103.6 152.8 103.5 152.3 104.7 151.8 103.3 151.3 102.7 150.8 103.2 150.3 103.7 149.8 105.8 149.3 103.9 148.8 102.9 148.3 103.6 147.8 103.5 147.3 103.3 146.8 103.6 146.3 106.5 145.8 104.9 145.3 102.8 144.8 107.4 144.3 102.8 143.8 104.2 143.3 104.9 142.8 104.4 142.3 103.8 141.8 103.7 141.3 102.8 140.8 103.7 140.3 102.7 139.8 103.2 139.3 103.5 138.8 104.6 138.3 102.7 137.8 106 137.3 103.3 136.8 103.1 136.3 104.2 135.8 102.7 135.3 105.9 134.8 105.1 134.3 102.9 133.8 104.1 133.3 105.4 132.8 106.6 132.3 103.3 131.8 103 131.3 102.8 130.8 105.1 130.3 102.9 129.8 103.3 129.3 104.7 128.8 105.8 128.3 103.2 127.8 105.4 127.3 102.9 126.8 105.6 126.3 105.6 125.8 103.4 125.3 104.4 124.8 105.6 124.3 104.8 123.8 104.2 123.3 103.7 122.8 102.9 122.3 103.3 121.8 104.1 121.3 104.4 120.8 103.7 120.3 103.3 119.8 103.3 119.3 103 118.8 103 118.3 103.5 117.8 103.9 117.3 103.1 116.8 106.8 116.3 103 115.8 103.9 115.3 103 114.8 103.1 114.3 103.5 113.8 105.1 113.3 103.1 112.8 103.8 112.3 106.2 111.8 104.4 111.3 105 110.8 103.1 110.3 103.7 109.8 107.5 109.3 104.4 108.8 103.7 108.3 103.2 107.8 104.3 107.3 107.1 106.8 105.2 106.3 103.1 105.8 104.2 105.3 103.7 104.8 103.4 104.3 104.1 103.8 106.4 103.3 104.7 102.8 103.1 102.3 103.2 101.8 104.3 101.3 103.1 100.8 103.6 100.3 105.3 99.8 104 99.3 103.2 98.8 103.2 98.3 103.1 97.8 103.3 97.3 104.3 96.8 104.3 96.3 103.8 95.8 107.3 95.3 103.7 94.8 104 94.3 104.8 93.8 103.6 93.3 104.4 92.8 103.4 92.3 105.1 91.8 103.8 91.3 106.3 90.8 103.5 90.3 106.1 89.8 106.4 89.3 103.4 88.8 103.7 88.3 103.5 87.8 105.3 87.3 104 86.8 105 86.3 103.6 85.8 104 85.3 104.4 84.8 104.2 84.3 104 83.8 106.6 83.3 103.5 82.8 103.5 82.3 107.5 81.8 105.8 81.3 103.8 80.8 104.6 80.3 107 79.8 103.2 79.3 103.4 78.8 104.2 78.3 103.3 77.8 103.9 77.3 103.2 76.8 104.2 76.3 103.6 75.8 103.7 75.3 103.2 74.8 103.5 74.3 103.4 73.8 103.6 73.3 104.1 72.8 103.5 72.3 106 71.8 103.6 71.3 103.6 70.8 103.8 70.3 103.8 69.8 103.7 69.3 103.8 68.8 103.3 68.3 103.5 67.8 104.6 67.3 104 66.8 103.4 66.3 103.5 65.8 103.9 65.3 104.4 64.8 104.7 64.3 103.7 63.8 106.4 63.3 104.1 62.8 107.7 62.3 104.6 61.8 103.8 61.3 104.7 60.8 105.5 60.3 103.7 59.8 105.9 59.3 103.5 58.8 103.9 58.3 104 57.8 103.9 57.3 104.1 56.8 103.4 56.3 104.3 55.8 104.2 55.3 103.4 54.8 104.5 54.3 106.6 53.8 103.5 53.3 103.5 52.8 103.7 52.3 106.5 51.8 103.8 51.3 104.3 50.8 105.1 50.3 104.7 49.8 103.6 49.3 103.5 48.8 105.5 48.3 105.7 47.8 104.4 47.3 104.3 46.8 104 46.3 103.6 45.8 107.2 45.3 104.2 44.8 104.8 44.3 105.8 43.8 104.8 43.3 103.6 42.8 105 42.3 106.1 41.8 104.9 41.3 104.5 40.8 103.6 40.3 105.3 39.8 105.5 39.3 104.3 38.8 106.5 38.3 103.5 37.8 105.6 37.3 104.6 36.8 106.8 36.3 104.2 35.8 104.2 35.3 103.6 34.8 104.1 34.3 104 33.8 104.1 33.3 104.5 32.8 103.9 32.3 104.2 31.8 104.8 31.3 103.5 30.8 104.9 30.3 103.9 29.8 107.1 29.3 107.6 28.8 105.5 28.3 104.7 27.8 105 27.3 104.1 26.8 104.1 26.3 103.6 25.8 103.9 25.3 105.2 24.8 106 24.3 104.9 23.8 104.6 23.3 106.7 22.8 104.7 22.3 104.2 21.8 104.4 21.3 105 20.8 103.6 20.3 104.6 19.8 104.4Z" fill="#a59c10"/>
<path d="M19.8 112.8 20.3 111.7 20.8 113.1 21.3 113.1 21.8 111.5 22.3 111.9 22.8 111.4 23.3 112.4 23.8 112.6 24.3 112.7 24.8 111.6 25.3 111.9 25.8 111.4 26.3 111 26.8 112.4 27.3 111 27.8 111.9 28.3 111.1 28.8 111.5 29.3 109.6 29.8 108.8 30.3 111.7 30.8 111.2 31.3 110 31.8 111.7 32.3 111.6 32.8 109.5 33.3 111.2 33.8 111.6 34.3 110.9 34.8 111.2 35.3 110.5 35.8 110.8 36.3 111 36.8 110.6 37.3 108.2 37.8 111 38.3 110.2 38.8 111.2 39.3 110.7 39.8 110.8 40.3 110.5 40.8 110.6 41.3 108.9 41.8 109.8 42.3 109.1 42.8 110.6 43.3 110.8 43.8 109.9 44.3 109.5 44.8 110.7 45.3 110.3 45.8 109.7 46.3 110.1 46.8 110.2 47.3 109.4 47.8 107.3 48.3 110.5 48.8 110.5 49.3 110.2 49.8 110.4 50.3 109.6 50.8 108.8 51.3 108.3 51.8 109.1 52.3 110.4 52.8 107.5 53.3 109.7 53.8 107.8 54.3 108.2 54.8 108.9 55.3 108.6 55.8 108.7 56.3 108.8 56.8 108.7 57.3 110.1 57.8 108.1 58.3 109.7 58.8 109.9 59.3 109.7 59.8 109.7 60.3 109.6 60.8 109.3 61.3 109.7 61.8 108.5 62.3 109.4 62.8 108.9 63.3 109.7 63.8 109 64.3 109.6 64.8 109.7 65.3 108.6 65.8 109.3 66.3 107.5 66.8 109.4 67.3 108 67.8 109.6 68.3 109.3 68.8 109 69.3 108.3 69.8 109.6 70.3 106.6 70.8 109.1 71.3 108.8 71.8 107.8 72.3 109.4 72.8 109.1 73.3 109.4 73.8 108.9 74.3 109 74.8 108.9 75.3 109.3 75.8 109.2 76.3 108.6 76.8 109.3 77.3 109.2 77.8 109.2 78.3 108.3 78.8 107.4 79.3 108.5 79.8 108.5 80.3 108.5 80.8 107.3 81.3 108.1 81.8 107.2 82.3 107.2 82.8 107.2 83.3 108.8 83.8 106.3 84.3 107.2 84.8 108.8 85.3 108.5 85.8 108 86.3 106.8 86.8 108.7 87.3 108.2 87.8 108.4 88.3 107.8 88.8 108 89.3 107.8 89.8 108.4 90.3 108.3 90.8 108.7 91.3 107.4 91.8 108.5 92.3 108.7 92.8 108.1 93.3 107.2 93.8 108.2 94.3 108 94.8 108.1 95.3 108.5 95.8 108 96.3 108.3 96.8 105 97.3 106.6 97.8 108.4 98.3 107.2 98.8 107.9 99.3 107.1 99.8 106 100.3 108.2 100.8 107.5 101.3 108.2 101.8 107.4 102.3 107.7 102.8 107.4 103.3 107.4 103.8 107.5 104.3 107.9 104.8 108.2 105.3 107.7 105.8 108.1 106.3 106.1 106.8 106.6 107.3 107.4 107.8 108 108.3 107.8 108.8 107.8 109.3 107.9 109.8 107.3 110.3 107.5 110.8 107.3 111.3 107.5 111.8 107.1 112.3 107.3 112.8 107.6 113.3 105.7 113.8 107.5 114.3 107.3 114.8 107.5 115.3 107.5 115.8 105.7 116.3 105.9 116.8 107.7 117.3 107.6 117.8 106.7 118.3 106.5 118.8 106.8 119.3 107.6 119.8 106.8 120.3 106.8 120.8 106.7 121.3 105.2 121.8 107.4 122.3 106.7 122.8 106.3 123.3 107.1 123.8 105.6 124.3 106.1 124.8 106.7 125.3 106.4 125.8 107.1 126.3 107.3 126.8 106.9 127.3 107.2 127.8 107 128.3 105.3 128.8 105 129.3 107.1 129.8 107.4 130.3 106.7 130.8 107.1 131.3 106.3 131.8 107.2 132.3 107.3 132.8 107.2 133.3 106.3 133.8 107.1 134.3 107.2 134.8 106.5 135.3 106.9 135.8 104.6 136.3 106.8 136.8 105.5 137.3 105.7 137.8 106.9 138.3 107 138.8 106.7 139.3 106.5 139.8 105.2 140.3 105.8 140.8 107 141.3 106.2 141.8 106.5 142.3 106.4 142.8 106.9 143.3 106.3 143.8 106.6 144.3 105.4 144.8 104.6 145.3 105.1 145.8 106.6 146.3 106.9 146.8 106.1 147.3 106.1 147.8 106.8 148.3 105.9 148.8 106.2 149.3 105.1 149.8 105.9 150.3 106.7 150.8 104.7 151.3 105.9 151.8 104.8 152.3 105.8 152.8 106.4 153.3 105.6 153.8 105 154.3 105.8 154.8 104.2 155.3 106.3 155.8 105.5 156.3 106.4 156.8 104.8 157.3 106.4 157.8 106.2 158.3 105.4 158.8 104.5 159.3 104.6 159.8 106.4 160.3 106 160.8 105.7 161.3 106.5 161.8 106.4 162.3 105.9 162.8 105.3 163.3 103.8 163.8 106.2 164.3 106.1 164.8 105.6 165.3 105.1 165.8 105.4 166.3 106.1 166.8 105.1 167.3 105.4 167.8 104.6 168.3 105 168.8 104.6 169.3 105.9 169.8 106.1 170.3 105.6 170.8 105.8 171.3 105 171.8 104.1 172.3 106 172.8 104.4 173.3 105.6 173.8 104.8 174.3 106 174.8 106 175.3 104.5 175.8 102.9 176.3 104.9 176.8 104.3 177.3 104.7 177.8 105.9 178.3 105.7 178.8 105.4 179.3 105.1 179.8 103.3 180.3 104.7 180.8 105.2 181.3 104.4 181.8 103.4 182.3 104.4 182.8 103.7 183.3 105.3 183.8 104.5 184.3 105 184.8 105.2 185.3 105.2 185.8 105.3 186.3 104 186.8 105.2 187.3 103.1 187.8 103.5 188.3 104.5 188.8 104.2 189.3 104.2 189.8 103.3 190.3 105.1 190.8 104.6 191.3 103.5 191.8 104.4 192.3 105 192.8 104.7 193.3 104.2 193.8 104 194.3 104.3 194.8 104.6 195.3 104.2 195.8 103.8 196.3 103 196.8 104.5 197.3 104.1 197.8 104.2 198.3 103.2 198.8 103.7 199.3 102.8 199.8 102 200.3 103.9 200.8 104.4 201.3 103.8 201.8 104.6 202.3 103.2 202.8 103.8 203.3 103.9 203.8 103.7 204.3 103.9 204.8 104.2 205.3 102.6 205.8 103.5 206.3 103.4 206.8 103.5 207.3 102.8 207.8 103.3 208.3 103.4 208.8 104 209.3 101.1 209.8 102.7 210.3 104.1 210.8 102.8 211.3 103.1 211.8 103.3 212.3 103.8 212.8 103.8 213.3 102.8 213.8 103.2 214.3 100.6 214.8 103.9 215.3 101.8 215.8 102.8 216.3 103.8 216.8 103.2 217.3 103.7 217.8 103 218.3 103.5 218.8 102.8 219.3 103.1 219.8 103.4 220.3 103.4 220.8 103.6 221.3 103.2 221.8 103.3 222.3 102.1 222.8 102.9 223.3 103.5 223.8 103.3 224.3 100.1 224.8 102 225.3 103.2 225.8 103 226.3 103.6 226.8 103.7 227.3 102.9 227.8 102.1 228.3 103.4 228.8 102.2 229.3 102.5 229.8 101.8 230.3 103.5 230.8 103.3 231.3 102.6 231.8 103.4 232.3 103.7 232.8 103.3 233.3 103.5 233.8 103 234.3 102.7 234.8 103.4 235.3 103.5 235.8 103.2 236.3 102.7 236.8 103.3 237.3 102.2 237.8 103 238.3 101.7 238.8 102.2 239.3 101.9 239.8 102.8 240.3 103.2 240.8 103.3 241.3 101.5 241.8 103.3 242.3 103.7 242.8 103 243.3 103 243.8 102.3 244.3 103.3 244.8 100.3 245.3 102.8 245.8 103.8 246.3 102.6 246.8 103.6 247.3 103.5 247.8 103.5 248.3 103.4 248.8 103.6 249.3 103.3 249.8 103.2 250.3 103.7 250.8 103 251.3 103.4 251.8 103.8 252.3 103.7 252.8 101.6 253.3 104 253.8 103.5 254.3 103.5 254.8 104 255.3 102.3 255.8 103.7 256.3 102.7 256.8 103.2 257.3 102.2 257.8 103 258.3 103.5 258.8 103.6 259.3 104.1 259.8 101.9 260.3 104.1 260.8 103.7 261.3 104.4 261.8 101.9 262.3 103.2 262.8 102.7 263.3 102.7 263.8 104.1 264.3 103.6 264.8 102.1 265.3 104.5 265.8 102.9 266.3 103.6 266.8 103.7 267.3 103.6 267.8 104.2 268.3 104.2 268.8 104.6 269.3 104.7 269.8 103.4 270.3 104.8 270.8 105 271.3 104.1 271.8 105.2 272.3 105.1 272.8 103.2 273.3 105.5 273.8 104.2 274.3 104.5 274.8 105.8 275.3 104.8 275.8 106.1 276.3 105.3 276.8 106.4 277.3 106.2 277.8 105.1 278.3 104.6 278.8 106.9 279.3 107.7 279.8 107.3 280.3 106.2 280.8 108.6 281.3 108.3 281.8 107.4 282.3 111 282.8 112.3 283.3 112.9 283.8 116.2 284.3 117.1 284.8 120.4 285.3 120.3 285.8 125.5 286.3 126.2 286.8 131.7 287.3 134.8 287.8 138.9 288.3 141.9 288.8 146 289.3 149.9 289.8 153.9 290.3 158.1 290.8 162.4 291.3 166.6 291.8 169.6 292.3 173.5 292.8 178.6 293.3 181.3 293.8 186.5 294.3 190 294.8 193.9 295.3 197.2 295.8 200.2 296.3 204.7 296.8 208.1 297.3 210.8 297.8 214.1 298.3 219.3 298.8 222.3 299.3 225.9 299.8 227.8 300.3 233.1 300.8 235.7 301.3 237.6 301.8 241.3 302.3 245.4 302.8 247.5 303.3 251.5 303.8 252.8 304.3 252.6 304.8 253.9 305.3 252.4 305.8 253.6 306.3 253.7 306.8 253.4 307.3 251.4 307.8 251.8 308.3 251.8 308.8 251.1 309.3 249.6 309.8 248.9 310.3 246.3 310.8 244.3 311.3 243.1 311.8 241.7 312.3 241.4 312.8 241 313.3 239.5 313.8 237.8 314.3 242.1 314.8 243.1 315.3 246.1 315.8 247.1 316.3 250.3 316.8 247.9 317.3 252.1 317.8 252.9 318.3 253.2 318.8 252.5 319.3 254 319.8 252.9 320.3 254 320.8 253.3 321.3 253.9 321.8 252.4 322.3 253.4 322.8 254 323.3 253.7 323.8 251.7 324.3 251.5 324.8 253.5 325.3 253.2 325.8 253.3 326.3 252.4 326.8 253.6 327.3 252.8 327.8 253.8 328.3 252.7 328.8 252.1 329.3 252.7 329.8 252.9 330.3 251.4 330.8 253.5 331.3 253.7 331.8 251.9 332.3 253.6 332.8 252.6 333.3 252.6 333.8 252.6 334.3 252.4 334.8 253.5 335.3 251.6 335.8 253.6 336.3 252.9 336.8 253 337.3 253.5 337.8 252.6 338.3 253.2 338.8 252.8 339.3 253.4 339.8 251 340.3 253.6 340.8 250.5 341.3 252.8 341.8 253.3 342.3 252.7 342.8 253.3 343.3 253.4 343.8 252.7 344.3 252.2 344.8 253.7 345.3 251.8 345.8 252.5 346.3 252.8 346.8 252.9 347.3 250.6 347.8 253.1 348.3 252.1 348.8 252.1 349.3 251.1 349.8 253.1 350.3 253 350.8 251.8 351.3 252.7 351.8 252.9 352.3 251.6 352.8 251.8 353.3 253.1 353.8 253.5 354.3 253.6 354.8 253.6 355.3 252.7 355.8 253.6 356.3 252.8 356.8 253.6 357.3 253.3 357.8 252.7 358.3 252.4 358.8 253.2 359.3 253.5 359.8 253.2 360.3 252.4 360.8 253.5 361.3 253.2 361.8 253.5 362.3 250.9 362.8 252.4 363.3 249.8 363.8 251.5 364.3 253.3 364.8 253.8 365.3 253.6 365.8 253.6 366.3 251.9 366.8 251.1 367.3 252.8 367.8 253.5 368.3 253.3 368.8 253.2 369.3 251.1 369.8 253.8 370.3 253.4 370.8 250.7 371.3 253.5 371.8 253.6 372.3 252.6 372.8 252.4 373.3 253.3 373.8 252.7 374.3 253.5 374.8 251.5 375.3 253.1 375.8 253.2 376.3 253.5 376.8 253 377.3 251.9 377.8 252.9 378.3 253.8 378.8 251.2 379.3 253.7 379.8 250.2 380.3 252.5 380.8 251.5 381.3 253.2 381.8 253.1 382.3 252 382.8 252.4 383.3 253.8 383.8 253.6 384.3 252.9 384.8 252.1 385.3 253 385.8 253.3 386.3 252.6 386.8 253.7 387.3 252.3 387.8 253.8 388.3 251.6 388.8 252.7 389.3 253.4 389.8 252 390.3 252.1 390.8 252 391.3 253.7 391.8 253.5 392.3 253.1 392.8 253.6 393.3 252.2 393.8 253.5 394.3 252.9 394.8 252.3 395.3 252.9 395.8 251.3 396.3 253.7 396.8 253.3 397.3 252.9 397.8 253.2 398.3 251 398.8 252.1 399.3 253.3 399.8 252.8 400.3 253.6 400.8 253.4 401.3 253.3 401.8 251.5 402.3 251.3 402.8 252.7 403.3 253 403.8 253.1 404.3 253.3 404.8 253.2 405.3 252.3 405.8 253.5 406.3 253.1 406.8 253.2 407.3 252.9 407.8 253 408.3 252.2 408.8 253 409.3 253.1 409.8 253.2 410.3 252.4 410.8 251.6 411.3 253.1 411.8 253.2 412.3 253.6 412.8 250.9 413.3 253.4 413.8 253.4 414.3 253.7 414.8 253.2 415.3 253.8 415.8 253.1 416.3 253.7 416.8 252.9 417.3 253.1 417.8 253.6 418.3 253.5 418.8 252.7 419.3 253.6 419.8 252.2 420.3 250.8 420.8 253.4 421.3 253.6 421.8 253.6 422.3 252.6 422.8 253.2 423.3 252.6 423.8 252.4 424.3 253 424.8 252.6 425.3 253.5 425.8 253.2 426.3 253.4 426.8 253.1 427.3 253.8 427.8 253.4 428.3 253.3 428.8 252.7 429.3 252.9 429.8 253.1 430.3 252.6 430.8 253.1 431.3 253.4 431.8 251.9 432.3 252.3 432.8 253.6 433.3 251.2 433.8 252.9 434.3 253.8 434.8 253.2 435.3 252.7 435.8 253.7 436.3 252.3 436.8 252.2 437.3 253.6 437.8 253.7 438.3 253.2 438.8 253.7 439.3 253.4 439.8 253.5 440.3 253.5 440.8 253.6 441.3 253.7 441.8 252.8 442.3 253.5 442.8 252 443.3 252.5 443.8 253.3 444.3 253.5 444.8 252.4 445.3 252.6 445.8 252.8 446.3 253.1 446.8 253 447.3 252.6 447.8 253 448.3 252.5 448.8 253 449.3 252.3 449.8 253.5 450.3 253.2 450.8 253.3 451.3 253.2 451.8 253.8 452.3 253.5 452.8 250.1 453.3 252.4 453.8 253.1 454.3 252.9 454.8 253.2 455.3 252.5 455.8 253.7 456.3 253.7 456.8 252.4 457.3 253.4 457.8 253.6 458.3 253.4 458.8 253.1 459.3 252.5 459.8 251.9 460.3 253.3 460.8 252.8 461.3 251.7 461.8 253.2 462.3 252.2 462.8 252.6 463.3 252.3 463.8 251.7 464.3 253.6 464.8 253.3 465.3 253.3 465.8 253 466.3 253.7 466.8 253.5 467.3 252.6 467.8 253.7 468.3 252.7 468.8 253.6 469.3 253.5 469.8 253.1 470.3 253.5 470.8 252.8 471.3 253.4 471.8 253 472.3 253.5 472.8 253.1 473.3 252.9 473.8 253.2 474.3 252.4 474.8 253.7 475.3 253.4 475.8 252.8 476.3 253.3 476.8 252.6 477.3 253 477.8 253.1 478.3 253.5 478.8 252.6 479.3 252.9 479.8 251.8 480.3 253.2 480.8 252.7 481.3 253.4 481.8 251.9 482.3 253.5 482.8 253.4 483.3 253.6 483.8 253.8 484.3 253.8 484.8 253.6 485.3 251.7 485.8 252.5 486.3 253.6 486.8 253.7 487.3 252.9 487.8 253.2 488.3 253.8 488.8 252.2 489.3 253.4 489.8 252.9 490.3 252.9 490.8 252.4 491.3 253.3 491.8 252.5 492.3 252.8 492.8 253.2 493.3 253.5 493.8 253.7 494.3 251.7 494.8 252.9 495.3 253.6 495.8 252.7 496.3 253.8 496.8 253.6 497.3 253.4 497.8 252.8 498.3 252.5 498.8 251.9 499.3 253.1 499.8 252.6 500.3 253.4 500.8 252.6 501.3 252.7 501.8 253.3 502.3 252.9 502.8 253.7 503.3 253.2 503.8 253.1 504.3 253.2 504.8 253.2 505.3 253.5 505.8 253 506.3 253.5 506.8 251.8 507.3 253.8 507.8 253 508.3 252.5 508.8 251.4 509.3 252.1 509.8 253 510.3 252.8 510.8 251.8 511.3 252.3 511.8 253.5 512.3 251.2 512.8 251.4 513.3 252.8 513.8 252.5 514.3 253.7 514.8 252.6 515.3 253.7 515.8 251.8 516.3 253.4 516.8 253.6 517.3 253.2 517.8 253.4 518.3 252.2 518.8 253.3 519.3 252.4 519.8 252.5 520.3 253.6 520.8 253.2 521.3 253.3 521.8 253.1 522.3 252.5 522.8 253.4 523.3 252.4 523.8 252.9 524.3 252.4 524.8 253.3 525.3 253.6 525.8 251.1 526.3 253.5 526.8 252.1 527.3 252.8 527.8 253 528.3 253.6 528.8 253.3 529.3 252.6 529.8 253.5 530.3 253.2 530.8 253.2 531.3 253.4 531.8 253.8 532.3 253.7 532.8 252.8 533.3 251.5 533.8 252.9 534.3 253.7 534.8 252.2 535.3 253.2 535.8 253.7 536.3 252.5 536.8 252.7 537.3 253.1 537.8 250.7 538.3 253.2 538.8 251.8 539.3 251 539.8 253.5 540.3 253.4 540.8 253.7 541.3 253.5 541.8 253.3 542.3 253.6 542.8 253.7 543.3 253.8 543.8 252.8 544.3 253.7 544.8 251.8 545.3 252.5 545.8 253.5 546.3 253.3 546.8 253.6 547.3 252.3 547.8 252.5 548.3 252.3 548.8 252.2 549.3 251.7 549.8 252.2 550.3 253 550.8 253 551.3 252.8 551.8 252.4 552.3 253.7 552.8 252 553.3 253.2 553.8 253.6 554.3 253.1 554.8 253.5 555.3 252.8 555.8 253.6 556.3 253.4 556.8 252.8 557.3 253.3 557.8 253.6 558.3 253.1 558.8 252.9 559.3 252.8 559.8 252.8 560.3 253.6 560.8 252.9 561.3 252.6 561.8 253.3 562.3 252.2 562.8 252.5 563.3 252.7 563.8 253.5 564.3 252.1 564.8 250.5 565.3 251.7 565.8 253.4 566.3 251 566.8 252.3 567.3 252.6 567.8 253.8 568.3 253.3 568.8 253.4 569.3 249.8 569.8 253.5 570.3 253.1 570.8 251.9 571.3 252.5 571.8 253.4 572.3 253.1 572.8 253.1 573.3 253.4 573.8 253.5 574.3 251.6 574.8 253.6 575.3 252.1 575.8 253.6 576.3 253.8 576.8 253.5 577.3 252.5 577.8 253.1 578.3 251.8 578.8 253.4 579.3 253.3 579.8 253.4 580.3 251.3 580.8 253 581.3 253.4 581.8 253.6 582.3 253.6 582.8 253.7 583.3 251.7 583.8 253.8 584.3 252.3 584.8 253.4 585.3 253.2 585.8 253.3 586.3 252.5 586.8 252 587.3 252.8 587.8 252.9 588.3 253.8 588.8 253.7 589.3 253.3 589.8 253.2 590.3 252.5 590.8 253.5 591.3 251.8 591.8 251.3 592.3 252.3 592.8 252.8 593.3 253.5 593.8 253.3 594.3 252.8 594.8 251.2 595.3 252.8 595.8 253.7 596.3 253.1 596.8 253.5 597.3 253.2 597.8 252.2 598.3 253.8 598.8 252.7 599.3 253.8 599.8 253.7 600.3 253.4 600.8 253 601.3 253 601.8 253.2 602.3 253.1 602.8 253.4 603.3 253.3 603.8 253.4 604.3 253.1 604.8 252.3 605.3 252.3 605.8 253 606.3 252.9 606.8 251.4 607.3 251.6 607.8 252.5 608.3 249.1 608.8 252.8 609.3 251.9 609.8 253 610.3 253.2 610.8 252.7 611.3 252.7 611.8 253.8 612.3 253.8 612.8 253.2 613.3 253.7 613.8 252.9 614.3 253.5 614.8 253.4 615.3 253.4 615.8 253.7 616.3 252.4 616.8 253.2 617.3 253.7 617.8 253.5 618.3 252.6 618.8 253.4 619.3 253.4 619.8 253 620.3 253.1 620.8 253.7 621.3 251.4 621.8 253.1 622.3 251.9 622.8 250.9 623.3 251.8 623.8 253.4 624.3 253.2 624.8 252.8 625.3 251.5 625.8 252.8 626.3 252.6 626.8 253.1 627.3 252.7 627.8 253.6 628.3 252.1 628.8 253.7 629.3 252.7 629.8 252.8 630.3 252.3 630.8 252.9 631.3 252 631.8 251.8 632.3 253.3 632.8 252 633.3 252.7 633.8 251.7 634.3 252.2 634.8 253 635.3 252.9 635.8 252.8 636.3 253.8 L636.3 261.1 635.8 261.6 635.3 260.8 634.8 260.9 634.3 260.4 633.8 260.3 633.3 261 632.8 261.2 632.3 260.3 631.8 261.3 631.3 260.6 630.8 261 630.3 260.7 629.8 261.8 629.3 261.7 628.8 260.6 628.3 260.5 627.8 261.6 627.3 260.4 626.8 261.5 626.3 261.3 625.8 260.7 625.3 262.6 624.8 261.5 624.3 261.2 623.8 261.8 623.3 261 622.8 261.7 622.3 260.7 621.8 262.6 621.3 261.2 620.8 260.3 620.3 262.5 619.8 261.3 619.3 260.6 618.8 260.9 618.3 262 617.8 260.5 617.3 261.3 616.8 262.6 616.3 260.6 615.8 260.9 615.3 260.6 614.8 261.8 614.3 260.9 613.8 261.5 613.3 262.1 612.8 261.2 612.3 261.4 611.8 260.2 611.3 260.5 610.8 261.7 610.3 261.1 609.8 262.5 609.3 260.6 608.8 260.7 608.3 260.8 607.8 260.8 607.3 260.4 606.8 261.5 606.3 260.3 605.8 261.1 605.3 264.3 604.8 261.3 604.3 260.2 603.8 261 603.3 260.6 602.8 261.6 602.3 261.7 601.8 261.3 601.3 260.8 600.8 261.3 600.3 260.8 599.8 261.2 599.3 261.5 598.8 261.2 598.3 260.9 597.8 260.9 597.3 261.1 596.8 260.6 596.3 261.4 595.8 260.6 595.3 260.2 594.8 261.6 594.3 261.1 593.8 262.4 593.3 260.2 592.8 260.8 592.3 261.3 591.8 264.2 591.3 261.5 590.8 261.8 590.3 261.4 589.8 262.3 589.3 260.6 588.8 260.9 588.3 261.1 587.8 261.2 587.3 262.2 586.8 261.6 586.3 261.9 585.8 261.1 585.3 260.8 584.8 261.5 584.3 260.8 583.8 260.5 583.3 261.8 582.8 262.4 582.3 261.8 581.8 261.8 581.3 261 580.8 260.5 580.3 260.7 579.8 261.5 579.3 261.1 578.8 260.5 578.3 260.3 577.8 261.3 577.3 261.4 576.8 260.6 576.3 260.2 575.8 260.6 575.3 260.8 574.8 261.9 574.3 260.8 573.8 260.9 573.3 260.5 572.8 260.6 572.3 260.3 571.8 262.8 571.3 262 570.8 260.3 570.3 260.7 569.8 261.8 569.3 261.3 568.8 260.5 568.3 261.4 567.8 262.5 567.3 261.2 566.8 263.6 566.3 261.4 565.8 261.4 565.3 261.1 564.8 260.7 564.3 260.6 563.8 262.6 563.3 261.1 562.8 261.4 562.3 263.3 561.8 261.5 561.3 261.5 560.8 260.4 560.3 261 559.8 261.6 559.3 260.7 558.8 261.2 558.3 260.3 557.8 260.2 557.3 261 556.8 260.8 556.3 260.4 555.8 260.3 555.3 260.5 554.8 261.9 554.3 260.5 553.8 260.9 553.3 260.5 552.8 262.1 552.3 261.3 551.8 262.2 551.3 260.8 550.8 260.9 550.3 260.8 549.8 261.9 549.3 260.3 548.8 261.5 548.3 261.7 547.8 260.6 547.3 260.4 546.8 261.5 546.3 260.6 545.8 260.4 545.3 261.5 544.8 261.3 544.3 260.6 543.8 260.8 543.3 260.2 542.8 260.9 542.3 260.9 541.8 260.4 541.3 261 540.8 263 540.3 261.1 539.8 263 539.3 261.1 538.8 260.3 538.3 260.2 537.8 260.8 537.3 260.2 536.8 262.9 536.3 260.8 535.8 261.7 535.3 262.4 534.8 260.2 534.3 260.6 533.8 262.5 533.3 260.3 532.8 260.3 532.3 261.1 531.8 261.9 531.3 261.2 530.8 263.7 530.3 260.7 529.8 260.5 529.3 260.9 528.8 261 528.3 260.5 527.8 260.7 527.3 260.7 526.8 262.2 526.3 260.2 525.8 261.1 525.3 261.7 524.8 260.8 524.3 261.2 523.8 260.5 523.3 262.3 522.8 261.6 522.3 260.9 521.8 261.3 521.3 260.3 520.8 260.3 520.3 262.6 519.8 261.2 519.3 261.2 518.8 260.5 518.3 260.9 517.8 261.7 517.3 260.7 516.8 260.3 516.3 260.7 515.8 261.3 515.3 260.3 514.8 260.8 514.3 261.6 513.8 263.6 513.3 260.4 512.8 260.8 512.3 260.9 511.8 260.5 511.3 261.2 510.8 261.3 510.3 261.6 509.8 261.9 509.3 261.7 508.8 261.1 508.3 260.3 507.8 261.4 507.3 262.3 506.8 261.6 506.3 260.2 505.8 261.6 505.3 260.5 504.8 260.9 504.3 260.3 503.8 262.6 503.3 260.7 502.8 260.4 502.3 261.2 501.8 260.8 501.3 260.9 500.8 260.3 500.3 261 499.8 261.4 499.3 261.8 498.8 261.4 498.3 260.4 497.8 260.9 497.3 263.6 496.8 261.7 496.3 261.3 495.8 260.5 495.3 261.2 494.8 261.2 494.3 260.3 493.8 261.2 493.3 260.7 492.8 260.7 492.3 260.6 491.8 260.4 491.3 262 490.8 260.6 490.3 261 489.8 261.2 489.3 260.3 488.8 260.5 488.3 260.5 487.8 260.3 487.3 260.7 486.8 260.4 486.3 260.3 485.8 260.6 485.3 261.6 484.8 261.6 484.3 260.7 483.8 260.9 483.3 260.6 482.8 261.2 482.3 261.4 481.8 262.8 481.3 262.1 480.8 261.4 480.3 261.2 479.8 261.9 479.3 261.6 478.8 261.2 478.3 263.6 477.8 261.7 477.3 260.2 476.8 261.4 476.3 261.5 475.8 260.6 475.3 260.4 474.8 261.7 474.3 260.7 473.8 261.3 473.3 260.6 472.8 260.8 472.3 262.3 471.8 260.7 471.3 260.7 470.8 261.9 470.3 260.9 469.8 260.4 469.3 261.2 468.8 262 468.3 260.5 467.8 260.8 467.3 260.2 466.8 261.2 466.3 262.3 465.8 263.4 465.3 260.2 464.8 260.6 464.3 261.4 463.8 261.5 463.3 260.8 462.8 260.4 462.3 260.3 461.8 261 461.3 260.8 460.8 260.3 460.3 260.8 459.8 261.8 459.3 262.5 458.8 260.9 458.3 260.2 457.8 261.3 457.3 261.1 456.8 260.9 456.3 260.4 455.8 260.3 455.3 261 454.8 261.4 454.3 262.5 453.8 260.7 453.3 261 452.8 260.3 452.3 261 451.8 260.5 451.3 260.3 450.8 261.5 450.3 260.7 449.8 260.9 449.3 261.3 448.8 260.3 448.3 260.6 447.8 261.1 447.3 262.1 446.8 260.9 446.3 261.9 445.8 260.9 445.3 260.5 444.8 261.2 444.3 261.5 443.8 261.3 443.3 262.1 442.8 261.9 442.3 260.3 441.8 260.7 441.3 260.5 440.8 261.9 440.3 260.6 439.8 261.2 439.3 261.4 438.8 261.1 438.3 260.3 437.8 261.8 437.3 260.2 436.8 262.2 436.3 261.4 435.8 262.6 435.3 260.6 434.8 261 434.3 260.6 433.8 262 433.3 260.3 432.8 261.4 432.3 260.6 431.8 260.6 431.3 261.2 430.8 261.2 430.3 260.6 429.8 260.5 429.3 260.8 428.8 261.5 428.3 261.1 427.8 260.8 427.3 264 426.8 260.6 426.3 260.8 425.8 261 425.3 261.5 424.8 262 424.3 261.5 423.8 260.3 423.3 261.1 422.8 262.5 422.3 260.4 421.8 260.9 421.3 260.7 420.8 261.5 420.3 261.7 419.8 261.2 419.3 260.9 418.8 263.3 418.3 260.5 417.8 262.1 417.3 260.3 416.8 260.6 416.3 260.6 415.8 260.9 415.3 261 414.8 263.2 414.3 260.9 413.8 261 413.3 261.5 412.8 261.5 412.3 260.3 411.8 261.5 411.3 260.4 410.8 261.8 410.3 260.3 409.8 261 409.3 260.8 408.8 261.2 408.3 260.2 407.8 260.4 407.3 260.6 406.8 261.5 406.3 261.1 405.8 261.1 405.3 262.1 404.8 261.5 404.3 262.1 403.8 260.8 403.3 260.6 402.8 260.3 402.3 262.1 401.8 261 401.3 260.4 400.8 260.3 400.3 260.4 399.8 261 399.3 261.1 398.8 261.1 398.3 260.8 397.8 261.1 397.3 260.8 396.8 260.5 396.3 260.8 395.8 260.6 395.3 261.3 394.8 260.2 394.3 261.6 393.8 260.3 393.3 260.9 392.8 263.2 392.3 260.3 391.8 260.4 391.3 261.1 390.8 262.1 390.3 260.9 389.8 260.2 389.3 260.2 388.8 263.3 388.3 260.8 387.8 260.3 387.3 260.3 386.8 261.8 386.3 262.4 385.8 260.6 385.3 261.6 384.8 261.9 384.3 260.9 383.8 260.6 383.3 260.8 382.8 260.7 382.3 260.4 381.8 260.2 381.3 261.4 380.8 260.9 380.3 260.6 379.8 261.1 379.3 261.4 378.8 260.5 378.3 260.4 377.8 261.6 377.3 261.2 376.8 260.9 376.3 261.5 375.8 261.1 375.3 261.6 374.8 261 374.3 261 373.8 262.6 373.3 260.6 372.8 260.2 372.3 263.4 371.8 260.4 371.3 261 370.8 260.3 370.3 260.4 369.8 260.8 369.3 260.9 368.8 260.2 368.3 261.2 367.8 261.5 367.3 260.4 366.8 261.4 366.3 260.3 365.8 261.7 365.3 260.5 364.8 263.8 364.3 262.5 363.8 260.9 363.3 261.2 362.8 261.2 362.3 261.1 361.8 261.3 361.3 260.4 360.8 261.8 360.3 261.6 359.8 261 359.3 260.6 358.8 260.6 358.3 260.9 357.8 260.4 357.3 261.8 356.8 261.1 356.3 260.8 355.8 261.4 355.3 261.1 354.8 261.2 354.3 261.7 353.8 260.7 353.3 260.3 352.8 263.3 352.3 260.4 351.8 260.9 351.3 262.4 350.8 260.9 350.3 260.9 349.8 260.2 349.3 260.6 348.8 260.8 348.3 262.8 347.8 260.3 347.3 261 346.8 261.2 346.3 260.9 345.8 260.8 345.3 260.9 344.8 260.5 344.3 260.8 343.8 260.6 343.3 260.7 342.8 260.4 342.3 260.8 341.8 261.3 341.3 260.2 340.8 261.8 340.3 261.4 339.8 261.3 339.3 261.4 338.8 260.5 338.3 261.6 337.8 261.8 337.3 260.8 336.8 261.1 336.3 261.2 335.8 261.3 335.3 260.6 334.8 260.4 334.3 261.2 333.8 260.9 333.3 261.8 332.8 260.3 332.3 260.7 331.8 260.8 331.3 260.2 330.8 260.4 330.3 260.4 329.8 260.3 329.3 260.4 328.8 260.5 328.3 260.4 327.8 260.8 327.3 260.6 326.8 260.7 326.3 261.5 325.8 261.1 325.3 262.4 324.8 260.6 324.3 260.8 323.8 261.8 323.3 261.9 322.8 261.5 322.3 261.9 321.8 261.4 321.3 261.7 320.8 261.1 320.3 261.7 319.8 261.2 319.3 262.6 318.8 261 318.3 261.1 317.8 261.2 317.3 259.9 316.8 260.3 316.3 258.8 315.8 258.4 315.3 257.5 314.8 256.1 314.3 253 313.8 250 313.3 251 312.8 249.1 312.3 249.6 311.8 251.7 311.3 253 310.8 254.7 310.3 257.6 309.8 258.1 309.3 260.7 308.8 259.8 308.3 260.1 307.8 260.1 307.3 261.5 306.8 262 306.3 261.2 305.8 260.8 305.3 261 304.8 263.1 304.3 261.6 303.8 260.4 303.3 260.7 302.8 260.9 302.3 258.7 301.8 254.4 301.3 251.1 300.8 248.7 300.3 247.2 299.8 243 299.3 239 298.8 234.7 298.3 231.2 297.8 228.4 297.3 228 296.8 221.5 296.3 217.1 295.8 213.5 295.3 209.6 294.8 207.6 294.3 204.5 293.8 199.7 293.3 196.3 292.8 191.9 292.3 187.6 291.8 185.7 291.3 180.5 290.8 175 290.3 172.4 289.8 167.8 289.3 164.6 288.8 160.1 288.3 155.6 287.8 152.4 287.3 147.7 286.8 144.6 286.3 140.6 285.8 137.6 285.3 135 284.8 133 284.3 129 283.8 126.1 283.3 125.2 282.8 124.5 282.3 121.4 281.8 119.9 281.3 117.4 280.8 116.8 280.3 115.8 279.8 115.8 279.3 116.9 278.8 116 278.3 114.6 277.8 114.3 277.3 115.5 276.8 113.6 276.3 113.4 275.8 113.1 275.3 115.2 274.8 112.9 274.3 114.3 273.8 112.4 273.3 112.4 272.8 113.4 272.3 112.8 271.8 112 271.3 111.8 270.8 112 270.3 111.9 269.8 111.8 269.3 112.9 268.8 112.6 268.3 111.4 267.8 113 267.3 111.8 266.8 113.5 266.3 112.7 265.8 112.1 265.3 111.3 264.8 111.1 264.3 111.4 263.8 112 263.3 111.6 262.8 115.3 262.3 111.7 261.8 112 261.3 111 260.8 111.1 260.3 111.7 259.8 110.8 259.3 110.8 258.8 111.6 258.3 111 257.8 112.1 257.3 111 256.8 112 256.3 111.3 255.8 111.3 255.3 110.8 254.8 111 254.3 110.8 253.8 110.8 253.3 110.7 252.8 111.5 252.3 110.8 251.8 110.9 251.3 111.3 250.8 111.4 250.3 111.2 249.8 112.7 249.3 112.7 248.8 110.8 248.3 110.5 247.8 110.6 247.3 110.4 246.8 112 246.3 111.6 245.8 110.9 245.3 113.2 244.8 110.9 244.3 111.1 243.8 110.9 243.3 111.5 242.8 111 242.3 111.1 241.8 112.1 241.3 112.5 240.8 110.6 240.3 110.4 239.8 110.4 239.3 110.7 238.8 110.4 238.3 110.6 237.8 110.3 237.3 111.1 236.8 111.5 236.3 110.7 235.8 110.8 235.3 111.9 234.8 110.7 234.3 110.2 233.8 112 233.3 111.1 232.8 110.5 232.3 112.2 231.8 110.7 231.3 110.5 230.8 110.9 230.3 111.1 229.8 110.5 229.3 112 228.8 111.1 228.3 112.2 227.8 111.3 227.3 110.3 226.8 110.3 226.3 110.6 225.8 111.6 225.3 111.9 224.8 110.6 224.3 110.4 223.8 111.7 223.3 110.5 222.8 110.5 222.3 111.6 221.8 111.6 221.3 112.2 220.8 110.5 220.3 110.4 219.8 113.5 219.3 111.7 218.8 110.4 218.3 110.6 217.8 110.9 217.3 112 216.8 111.2 216.3 112.4 215.8 111.2 215.3 111.7 214.8 110.8 214.3 110.6 213.8 111.8 213.3 113.1 212.8 110.7 212.3 111.4 211.8 111.4 211.3 111.5 210.8 112.7 210.3 111 209.8 112 209.3 111.1 208.8 111.1 208.3 112.9 207.8 111.6 207.3 111.8 206.8 111.5 206.3 111.8 205.8 111.7 205.3 111.5 204.8 111.3 204.3 111.2 203.8 111.3 203.3 111.3 202.8 112.4 202.3 112.1 201.8 112.1 201.3 113 200.8 113.1 200.3 113 199.8 111.5 199.3 111.5 198.8 111.8 198.3 113.4 197.8 111.7 197.3 112.7 196.8 112.6 196.3 112.1 195.8 111.7 195.3 111.8 194.8 111.5 194.3 114.6 193.8 112 193.3 112.1 192.8 111.8 192.3 111.6 191.8 112.6 191.3 113.8 190.8 112.8 190.3 113.4 189.8 111.8 189.3 112.5 188.8 113 188.3 114 187.8 112.3 187.3 112.3 186.8 114.7 186.3 112.3 185.8 112.7 185.3 112.6 184.8 112 184.3 112.3 183.8 112.8 183.3 113.4 182.8 115.1 182.3 112.8 181.8 112.1 181.3 112.8 180.8 112.9 180.3 113.2 179.8 113 179.3 113.4 178.8 113.2 178.3 113.6 177.8 113.9 177.3 112.7 176.8 112.8 176.3 115.2 175.8 113 175.3 114 174.8 113.1 174.3 112.8 173.8 113.2 173.3 114.5 172.8 116.3 172.3 112.7 171.8 112.7 171.3 112.9 170.8 114.4 170.3 114.5 169.8 114.1 169.3 113.5 168.8 114.6 168.3 113 167.8 114.9 167.3 113.7 166.8 114.4 166.3 114.6 165.8 112.9 165.3 113.1 164.8 113.1 164.3 113.5 163.8 114.4 163.3 113.8 162.8 113.9 162.3 113.4 161.8 113 161.3 113.7 160.8 113.3 160.3 113.4 159.8 114 159.3 114.6 158.8 114 158.3 114 157.8 114.3 157.3 114.2 156.8 114.3 156.3 113.5 155.8 113.8 155.3 114.2 154.8 113.2 154.3 113.2 153.8 113.3 153.3 114.6 152.8 113.3 152.3 114.8 151.8 114.7 151.3 113.5 150.8 113.7 150.3 114.3 149.8 114.7 149.3 115.1 148.8 114 148.3 114.3 147.8 113.7 147.3 113.9 146.8 114.1 146.3 113.8 145.8 113.6 145.3 114.3 144.8 114.5 144.3 113.9 143.8 113.7 143.3 114.5 142.8 114.3 142.3 114.1 141.8 113.8 141.3 114 140.8 113.9 140.3 113.8 139.8 115.8 139.3 115 138.8 113.9 138.3 113.9 137.8 114.3 137.3 114.3 136.8 116.1 136.3 114.6 135.8 114.6 135.3 116.2 134.8 113.8 134.3 114.8 133.8 117 133.3 114.4 132.8 113.8 132.3 114.5 131.8 114.3 131.3 114.1 130.8 113.9 130.3 114.1 129.8 114.4 129.3 114.7 128.8 114 128.3 114.3 127.8 115.5 127.3 114.9 126.8 114.8 126.3 114.8 125.8 114.7 125.3 114.2 124.8 114.3 124.3 115.2 123.8 116.1 123.3 114.5 122.8 115.4 122.3 114.2 121.8 115 121.3 114.8 120.8 115.4 120.3 117.5 119.8 115.3 119.3 114.7 118.8 114.4 118.3 117.4 117.8 114.7 117.3 114.4 116.8 114.9 116.3 115.6 115.8 116 115.3 116.2 114.8 115.5 114.3 114.3 113.8 115.2 113.3 114.7 112.8 115.1 112.3 116.2 111.8 115.7 111.3 115.1 110.8 115.3 110.3 114.8 109.8 115.2 109.3 114.7 108.8 117.3 108.3 116.3 107.8 116.6 107.3 115.7 106.8 116.2 106.3 115 105.8 115.7 105.3 115.4 104.8 115.5 104.3 114.9 103.8 115.7 103.3 115.1 102.8 115.3 102.3 115.7 101.8 117.3 101.3 115.7 100.8 117 100.3 115 99.8 116.1 99.3 117.3 98.8 115.4 98.3 117.2 97.8 114.9 97.3 115 96.8 115.8 96.3 115.9 95.8 115.3 95.3 115.7 94.8 116.4 94.3 116 93.8 116.2 93.3 116 92.8 115.6 92.3 115.9 91.8 115.8 91.3 118.1 90.8 116.3 90.3 116.9 89.8 116.3 89.3 115.4 88.8 116.1 88.3 117.2 87.8 117.7 87.3 115.5 86.8 116.5 86.3 116.1 85.8 116.5 85.3 115.5 84.8 117.6 84.3 115.9 83.8 116.9 83.3 115.7 82.8 115.6 82.3 116.3 81.8 115.7 81.3 115.6 80.8 118.5 80.3 115.9 79.8 115.7 79.3 115.6 78.8 116.6 78.3 116.5 77.8 117 77.3 116.2 76.8 117.6 76.3 116.8 75.8 116.2 75.3 115.8 74.8 115.9 74.3 116.1 73.8 115.9 73.3 116 72.8 116.2 72.3 116.1 71.8 116.8 71.3 117 70.8 116.3 70.3 116.5 69.8 116.8 69.3 116.9 68.8 116.2 68.3 116.1 67.8 117.3 67.3 116.4 66.8 116.6 66.3 116.7 65.8 117.1 65.3 117.4 64.8 118.1 64.3 117.4 63.8 117.9 63.3 116.8 62.8 116.8 62.3 116.8 61.8 117.3 61.3 117.1 60.8 117.1 60.3 116.7 59.8 117.7 59.3 117.4 58.8 117.9 58.3 116.7 57.8 119.2 57.3 117.5 56.8 117.5 56.3 116.8 55.8 118.6 55.3 116.7 54.8 117.8 54.3 117.4 53.8 116.9 53.3 118.6 52.8 118.7 52.3 118.2 51.8 117.8 51.3 117.6 50.8 117 50.3 117.6 49.8 120.7 49.3 117.5 48.8 118.3 48.3 118.4 47.8 117.6 47.3 118 46.8 117.5 46.3 119.5 45.8 117.8 45.3 118.5 44.8 119.4 44.3 117.9 43.8 117.5 43.3 118.8 42.8 119.8 42.3 117.5 41.8 118.1 41.3 117.7 40.8 118.5 40.3 120.3 39.8 117.7 39.3 118.6 38.8 119.2 38.3 118.5 37.8 120.1 37.3 118.4 36.8 118.2 36.3 118.2 35.8 118.3 35.3 118.2 34.8 118.9 34.3 118.6 33.8 118.4 33.3 119 32.8 119.5 32.3 118.5 31.8 118.7 31.3 120.1 30.8 119.3 30.3 118.8 29.8 119.1 29.3 119 28.8 120 28.3 118.9 27.8 119.9 27.3 120.3 26.8 119.5 26.3 119.4 25.8 119.4 25.3 119.9 24.8 119.2 24.3 119.4 23.8 119.5 23.3 119.5 22.8 120.2 22.3 119.5 21.8 120.1 21.3 121.9 20.8 120.3 20.3 120.2 19.8 121.9Z" fill="#1cf230"/>
<g style="mix-blend-mode:multiply">
<path d="M145.2 214.3H239V268.8H145.2ZM162.6 228.3H187.5V259.5H162.6V248.4H181.3V234.5H162.6ZM206.2 228.3H236V234.5H206.2ZM206.2 248.4H236V259.5H206.2ZM239 214.3H266C279 214.3 284.5 223 284.5 232C284.5 241 278 249.3 265 249.3H253.5V268.8H239ZM253.5 227H262C266 227 267.5 229.5 267.5 232.2C267.5 235 266 237.4 262 237.4H253.5Z" fill="#eeabab" fill-rule="evenodd"/>
<path d="M284.6 214.2H299L303 243L306.5 214.2H323L329.5 243L335 214.2H352.3L340.7 268.8H320L313 236L304.4 268.8H281Z" fill="#eeabab"/>
<text x="363" y="270.6" font-family="Liberation Sans, sans-serif" font-weight="bold" font-size="36.5" fill="#eeabab" textLength="141" lengthAdjust="spacingAndGlyphs">.com.cn</text>
<g transform="translate(356,244.8) skewX(-12)" fill="#9c9c9c" stroke="#9c9c9c" stroke-width="0.7"><text x="0" y="0" font-family="'Liberation Sans','Noto Sans CJK TC',sans-serif" font-size="23" textLength="150" lengthAdjust="spacingAndGlyphs">電子產品世界</text></g>
</g>
<path d="M280 214.5C289 226 290 243 283.5 256" stroke="#fff" stroke-opacity="0.75" stroke-width="1.6" fill="none"/>
<rect x="253.5" y="249.3" width="28" height="31" fill="#fff" fill-opacity="0.38"/>
<line x1="19.8" y1="99.2" x2="636.8" y2="99.2" stroke="#0a0a0a" stroke-width="1.05" stroke-dasharray="3.7 2.5"/>
<line x1="19.8" y1="145.3" x2="636.8" y2="145.3" stroke="#0a0a0a" stroke-width="1.05" stroke-dasharray="3.7 2.5"/>
<line x1="332.5" y1="36.5" x2="332.5" y2="360.3" stroke="#222" stroke-width="1.1" stroke-dasharray="16.6 3.6" stroke-dashoffset="5.2"/>
<line x1="366.3" y1="36.5" x2="366.3" y2="360.3" stroke="#222" stroke-width="1.1" stroke-dasharray="16 3.5 2 3.5" stroke-dashoffset="14.8"/>
<clipPath id="pc"><rect x="18.8" y="36.5" width="618.0" height="324.8"/></clipPath>
<path d="M332.5 55.5L337.3 61.1H334.6V69.5H330.4V61.1H327.7ZM332.5 146.7L337.3 152.3H334.6V160.7H330.4V152.3H327.7ZM332.5 252.3L337.3 257.9H334.6V266.3H330.4V257.9H327.7ZM332.5 299L337.3 304.6H334.6V313H330.4V304.6H327.7ZM366.3 43.5L371.8 37.8H368.3V31.2H364.3V37.8H360.8ZM366.3 157.6L371.8 151.9H368.3V145.3H364.3V151.9H360.8ZM366.3 260L371.8 254.3H368.3V247.7H364.3V254.3H360.8ZM366.3 329L371.8 323.3H368.3V316.7H364.3V323.3H360.8Z" fill="#fff" stroke="#222" stroke-width="1.1" stroke-linejoin="miter" clip-path="url(#pc)"/>
<path d="M374.3 51L420.5 63.2M379.3 159L444 167.4M267.9 124.5L151.7 165.4M159 297.9L122.8 313.9M295.6 313.4L342.3 319.3M146.3 87.3L163.6 87.3M156.7 87.3L173.5 99.5M146.3 133.6L163.6 133.6M155.8 133.6L173.5 145.4" stroke="#111" stroke-width="1" fill="none"/>
<rect x="10" y="360" width="630" height="2" fill="#fff"/>
<path d="M19 359.8V36.2H636.8" stroke="#8a8a8a" stroke-width="1.8" fill="none"/>
<path d="M636.8 36V359.5H18.2" stroke="#3a3a3a" stroke-width="1" fill="none"/>
<path d="M637.8 100.2L644 97.2V103.2Z" fill="#a59c10"/>
<path d="M14 363.8H19.5M14 363.8l2.6 -2.4M14 363.8l2.6 2.4" stroke="#a8a428" stroke-width="1.1" fill="none"/>
<path d="M10.7 121.7H18.4" stroke="#7d7a20" stroke-width="1.1"/>
<path d="M10.7 253.5H18.4" stroke="#3fae3f" stroke-width="1.1"/>
<path d="M10.7 303H18.4" stroke="#d06060" stroke-width="1.1"/>
<path d="M10.7 341H18.4" stroke="#d8a820" stroke-width="1.1"/>
</svg>
<svg width="650" height="490" viewBox="0 0 650 490" style="position:absolute;left:0;top:0;z-index:0">
<g transform="translate(495.5,465.5) scale(1,0.93)" fill="#f29c9c"><text x="0" y="0" font-family="'Liberation Sans','Noto Sans CJK SC',sans-serif" font-weight="bold" font-size="30" textLength="90" lengthAdjust="spacingAndGlyphs">易迪拓</text></g>
<g transform="translate(588.5,465.5) scale(1,0.93)" fill="#a0bde2"><text x="0" y="0" font-family="'Liberation Sans','Noto Sans CJK SC',sans-serif" font-weight="bold" font-size="30" textLength="60" lengthAdjust="spacingAndGlyphs">培训</text></g>
<rect x="496" y="469.2" width="152" height="1.3" fill="#b0b0b0"/>
<g transform="translate(497.6,487)" fill="#a0a0a0"><text x="0" y="0" font-family="'Liberation Serif','Noto Serif CJK SC',serif" font-weight="bold" font-size="16.6" textLength="149.4" lengthAdjust="spacingAndGlyphs">射频和天线设计专家</text></g>
</svg>
<div class="t an" style="left:430.3px;top:63.599999999999994px;">OUTPUT GOES TO 9.8V</div>
<div class="t an" style="left:451.8px;top:163.6px;">INPUT SOARS TO 19.5V</div>
<div class="t an" style="left:88px;top:167.4px;">OUTPUT CURRENT</div>
<div class="t an" style="left:74.5px;top:315.5px;">INPUT CURRENT</div>
<div class="t an" style="left:226.2px;top:307.8px;font-size:10.2px;">di/dt = 74A/µs</div>
<div class="t an" style="left:146.3px;top:77.2px;font-size:9.6px;transform:scaleX(.89);transform-origin:0 0;">max</div>
<div class="t an" style="left:146.3px;top:122.80000000000001px;font-size:9.6px;transform:scaleX(.89);transform-origin:0 0;">max</div>
<div class="t ui" style="left:9px;top:110px;font-size:7.3px;color:#77741c;">C1</div>
<div class="t ui" style="left:9px;top:242.3px;font-size:7.3px;color:#35b035;">C4</div>
<div class="t ui" style="left:9px;top:291.6px;font-size:7.3px;color:#d86060;">C2</div>
<div class="t ui" style="left:9px;top:329.6px;font-size:7.3px;color:#e0b020;">F1</div>
<div class="t ui" style="left:9px;top:368.5px;"><b>Measure</b></div>
<div class="t ui" style="left:9px;top:381.4px;">value</div>
<div class="t ui" style="left:9px;top:394px;">status</div>
<div class="t ui" style="left:136.2px;top:368.6px;">P1:max(C2)</div>
<div class="t ui" style="left:226.6px;top:368.6px;">P2:max(C4)</div>
<div class="t ui" style="left:318px;top:368.6px;">P3:max(F1)</div>
<div class="t ui" style="left:387px;top:368.6px;">P4:dt@lv(C4,F1)</div>
<div class="t ui" style="left:519.8px;top:368.6px;">P5:- - -</div>
<div class="t ui" style="left:610.3px;top:368.6px;">P6:- - -</div>
<div class="t ui r" style="right:462.3px;top:382.2px;">19.5 V</div>
<div class="t ui r" style="right:372.5px;top:382.2px;">38.0 A</div>
<div class="t ui r" style="right:282.5px;top:382.2px;">41.2 A</div>
<svg width="10" height="8" viewBox="0 0 10 8" style="position:absolute;left:177.5px;top:396px"><path d="M0.8 4.2L3.4 6.6L9 1" stroke="#111" stroke-width="1.9" fill="none"/></svg>
<svg width="10" height="8" viewBox="0 0 10 8" style="position:absolute;left:268.5px;top:396px"><path d="M0.8 4.2L3.4 6.6L9 1" stroke="#111" stroke-width="1.9" fill="none"/></svg>
<svg width="10" height="8" viewBox="0 0 10 8" style="position:absolute;left:358.5px;top:396px"><path d="M0.8 4.2L3.4 6.6L9 1" stroke="#111" stroke-width="1.9" fill="none"/></svg>
<div class="box" style="left:8.1px;"><div class="hd" style="background:#aaa416"></div>
<div class="cn" style="color:#2a2806">C1</div>
<div class="bd" style="left:26.6px;width:19.2px;color:#aaa416;border-color:#aaa416">DSQ</div>
<div class="bd" style="left:47.6px;width:26.3px;color:#aaa416;border-color:#aaa416">DC1M</div>
<div class="l" style="top:12.199999999999989px">5.00 V/div</div>
<div class="l" style="top:23.5px">9.30 V offset</div>
<div class="l" style="top:37.80000000000001px">9.79 V</div>
<div class="l" style="top:49.19999999999999px">7.85 V</div>
<svg class="arw" style="top:40.5px" width="6" height="9" viewBox="0 0 6 9"><path d="M1.5 0.5V8M1.5 8l2 -2" stroke="#f2f0fb" stroke-width="1.1" fill="none"/></svg><svg class="arw" style="top:51.5px" width="6" height="9" viewBox="0 0 6 9"><path d="M1.5 8.5V1M1.5 1l2 2" stroke="#f2f0fb" stroke-width="1.1" fill="none"/></svg>
</div>
<div class="box" style="left:88.6px;"><div class="hd" style="background:#f46c6c"></div>
<div class="cn" style="color:#c21414">C2</div>
<div class="bd" style="left:26.6px;width:19.2px;color:#f46c6c;border-color:#f46c6c">DSQ</div>
<div class="bd" style="left:47.6px;width:26.3px;color:#f46c6c;border-color:#f46c6c">DC1M</div>
<div class="l" style="top:12.199999999999989px">5.00 V/div</div>
<div class="l" style="top:23.5px">-13.00 V ofst</div>
<div class="l" style="top:37.80000000000001px">17.93 V</div>
<div class="l" style="top:49.19999999999999px">19.15 V</div>
<svg class="arw" style="top:40.5px" width="6" height="9" viewBox="0 0 6 9"><path d="M1.5 0.5V8M1.5 8l2 -2" stroke="#f2f0fb" stroke-width="1.1" fill="none"/></svg><svg class="arw" style="top:51.5px" width="6" height="9" viewBox="0 0 6 9"><path d="M1.5 8.5V1M1.5 1l2 2" stroke="#f2f0fb" stroke-width="1.1" fill="none"/></svg>
</div>
<div class="box" style="left:168.6px;"><div class="hd" style="background:#25ee36"></div>
<div class="cn" style="color:#0c7c10">C4</div>
<div class="bd" style="left:37.4px;width:19.2px;color:#25ee36;border-color:#25ee36">DSQ</div>
<div class="bd" style="left:58.6px;width:14.8px;color:#25ee36;border-color:#25ee36">DC</div>
<div class="l" style="top:12.199999999999989px">10.0 A/div</div>
<div class="l" style="top:23.5px">-13.90 A ofst</div>
<div class="l" style="top:37.80000000000001px">-1.15 A</div>
<div class="l" style="top:49.19999999999999px">170 mA</div>
<svg class="arw" style="top:40.5px" width="6" height="9" viewBox="0 0 6 9"><path d="M1.5 0.5V8M1.5 8l2 -2" stroke="#f2f0fb" stroke-width="1.1" fill="none"/></svg><svg class="arw" style="top:51.5px" width="6" height="9" viewBox="0 0 6 9"><path d="M1.5 8.5V1M1.5 1l2 2" stroke="#f2f0fb" stroke-width="1.1" fill="none"/></svg>
</div>
<div class="box" style="left:248.6px;width:75.2px;background:#ba8bca;border-color:#8a62a0"><div class="hd" style="background:#f5b325"></div>
<div class="cn" style="color:#2a1c04">F1</div><div class="cn" style="left:auto;right:0px;color:#2a1c04;transform-origin:100% 0">rescale(C3)</div>
<div class="l" style="right:0.3px;top:12.199999999999989px">30.0 A/div</div>
<div class="l" style="right:0.3px;top:23.5px">500 ns/div</div>
<div class="l" style="right:0.3px;top:37.80000000000001px">10.80 A</div>
<div class="l" style="right:0.3px;top:49.19999999999999px">30.78 A</div>
<svg class="arw" style="top:40.5px" width="6" height="9" viewBox="0 0 6 9"><path d="M1.5 0.5V8M1.5 8l2 -2" stroke="#f2f0fb" stroke-width="1.1" fill="none"/></svg><svg class="arw" style="top:51.5px" width="6" height="9" viewBox="0 0 6 9"><path d="M1.5 8.5V1M1.5 1l2 2" stroke="#f2f0fb" stroke-width="1.1" fill="none"/></svg>
</div>
<div class="t an" style="left:333.5px;top:408.8px;font-size:10.45px;-webkit-text-stroke:0;color:#151515;">MAX1558</div>
<div class="t an" style="left:333.5px;top:421.2px;font-size:10.45px;-webkit-text-stroke:0;color:#151515;">C<span style="font-size:8.4px;position:relative;top:2.2px">IN</span> = 0.1µF</div>
<div class="t an" style="left:333.5px;top:433.5px;font-size:10.45px;-webkit-text-stroke:0;color:#151515;">C<span style="font-size:8.4px;position:relative;top:2.2px">OUT</span> = 1.0µF</div>
<div class="t an" style="left:333.5px;top:446.4px;font-size:10.45px;-webkit-text-stroke:0;color:#151515;">Short Both Outs</div>
<div class="tb" style="left:472px;width:87px"><div class="hd"></div><div class="k" style="left:2px;top:-0.5px">Timebase</div><div class="k" style="right:1.5px;top:-0.5px">-6.00 µs</div>
<div class="w" style="right:1.5px;top:11.2px">500 ns/div</div><div class="w" style="left:2px;top:22.7px">12.5 kS</div><div class="w" style="right:1.5px;top:22.7px">2.5 GS/s</div></div>
<div class="tb" style="left:564px;width:74px"><div class="hd"></div><div class="k" style="left:2px;top:-0.5px">Trigger</div><div style="position:absolute;right:1.6px;top:1.2px;width:13.4px;height:7.8px;background:#0c0c0c;border-radius:2px;color:#f0f0f0;font-size:9.4px;line-height:8.2px;text-align:center;letter-spacing:-0.3px">C1</div>
<div class="w" style="left:2px;top:11.2px">Stop</div><div class="w" style="right:1.5px;top:11.2px">2.55 V</div><div class="w" style="left:2px;top:22.7px">Edge,</div><div class="w" style="right:1.5px;top:22.7px">Negative</div></div>
<div class="t ui" style="left:475px;top:446.8px;">X1=</div>
<div class="t ui" style="left:500px;top:446.8px;">6.3096 µs</div>
<div class="t ui" style="left:558px;top:446.8px;">ΔX=</div>
<div class="t ui r" style="right:19px;top:446.8px;">-270.0 ns</div>
<div class="t ui" style="left:475px;top:459px;">X2=</div>
<div class="t ui" style="left:500px;top:459px;">6.0396 µs</div>
<div class="t ui" style="left:547px;top:459px;">1/ΔX=</div>
<div class="t ui r" style="right:19px;top:459px;">-3.704 MHz</div>
<div class="t" style="left:12px;top:469.7px;font-size:13.3px;line-height:15px;color:#2a2a2a;-webkit-text-stroke:0.3px #2a2a2a">LeCroy</div>
<div style="position:absolute;left:10px;top:483.1px;width:37px;height:1.5px;background:#2a2a2a"></div>
<div class="frame"></div>
</body></html>
